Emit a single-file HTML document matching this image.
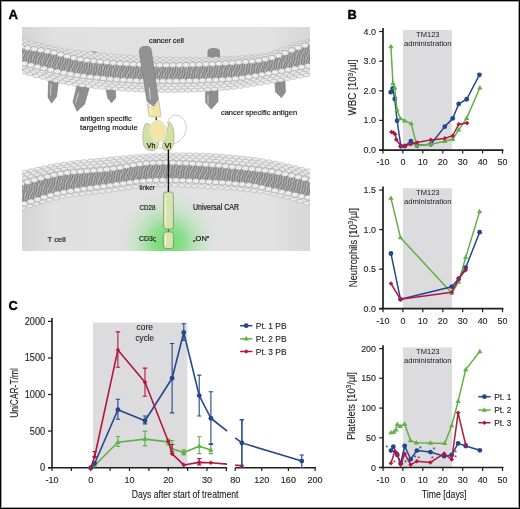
<!DOCTYPE html><html><head><meta charset="utf-8"><style>html,body{margin:0;padding:0;background:#fff;} svg{display:block;font-family:"Liberation Sans", sans-serif;} .w{will-change:transform;width:520px;height:509px;overflow:hidden}</style></head><body>
<div class="w">
<svg width="520" height="509" viewBox="0 0 520 509">
<defs>
<linearGradient id="cellg" x1="0" y1="0" x2="1" y2="0"><stop offset="0" stop-color="#d4d4d4"/><stop offset="0.12" stop-color="#e0e0e0"/><stop offset="0.85" stop-color="#e2e2e2"/><stop offset="1" stop-color="#d6d6d6"/></linearGradient>
<radialGradient id="glow" cx="0.5" cy="0.5" r="0.5"><stop offset="0" stop-color="#66dd66" stop-opacity="1"/><stop offset="0.3" stop-color="#7fdd7f" stop-opacity="0.85"/><stop offset="0.65" stop-color="#b6e4b6" stop-opacity="0.45"/><stop offset="1" stop-color="#e0e0e0" stop-opacity="0"/></radialGradient>
<pattern id="latt" width="7.0" height="4.6" patternUnits="userSpaceOnUse"><rect width="7.0" height="4.6" fill="#d2d2d2"/><ellipse cx="1.75" cy="1.15" rx="3.25" ry="2.15" fill="#eaeaea" stroke="#a0a0a0" stroke-width="0.55"/><ellipse cx="5.25" cy="3.45" rx="3.25" ry="2.15" fill="#eaeaea" stroke="#a0a0a0" stroke-width="0.55"/><ellipse cx="-1.75" cy="3.45" rx="3.25" ry="2.15" fill="#eaeaea" stroke="#a0a0a0" stroke-width="0.55"/><ellipse cx="8.75" cy="1.15" rx="3.25" ry="2.15" fill="#eaeaea" stroke="#a0a0a0" stroke-width="0.55"/><ellipse cx="1.75" cy="5.75" rx="3.25" ry="2.15" fill="#eaeaea" stroke="#a0a0a0" stroke-width="0.55"/><ellipse cx="5.25" cy="-1.15" rx="3.25" ry="2.15" fill="#eaeaea" stroke="#a0a0a0" stroke-width="0.55"/><ellipse cx="8.75" cy="5.75" rx="3.25" ry="2.15" fill="#eaeaea" stroke="#a0a0a0" stroke-width="0.55"/><ellipse cx="-1.75" cy="-1.15" rx="3.25" ry="2.15" fill="#eaeaea" stroke="#a0a0a0" stroke-width="0.55"/></pattern>
<pattern id="tails" width="5" height="12" patternUnits="userSpaceOnUse" patternTransform="rotate(18)"><rect width="5" height="12" fill="#b8b8b8"/><path d="M0.7,0 Q2.2,3 0.9,6 Q-0.4,9 0.7,12 M3.2,0 Q4.5,3 3.1,6 Q1.8,9 3.2,12" stroke="#4e4e4e" stroke-width="0.75" fill="none"/></pattern>
<filter id="soft" x="-5%" y="-5%" width="110%" height="110%"><feGaussianBlur stdDeviation="0.15"/></filter>
<clipPath id="clipA"><rect x="22" y="27" width="288" height="224"/></clipPath>
</defs>
<rect x="0" y="0" width="520" height="509" fill="#fff"/>
<text x="8.5" y="19.2" font-size="13.2" text-anchor="start" fill="#000" font-weight="bold" stroke="#000" stroke-width="0.4" stroke-linejoin="round">A</text>
<g clip-path="url(#clipA)">
<path d="M20.0,20.0 L22.0,20.0 L24.0,20.0 L26.0,20.0 L28.0,20.0 L30.0,20.0 L32.0,20.0 L34.0,20.0 L36.0,20.0 L38.0,20.0 L40.0,20.0 L42.0,20.0 L44.0,20.0 L46.0,20.0 L48.0,20.0 L50.0,20.0 L52.0,20.0 L54.0,20.0 L56.0,20.0 L58.0,20.0 L60.0,20.0 L62.0,20.0 L64.0,20.0 L66.0,20.0 L68.0,20.0 L70.0,20.0 L72.0,20.0 L74.0,20.0 L76.0,20.0 L78.0,20.0 L80.0,20.0 L82.0,20.0 L84.0,20.0 L86.0,20.0 L88.0,20.0 L90.0,20.0 L92.0,20.0 L94.0,20.0 L96.0,20.0 L98.0,20.0 L100.0,20.0 L102.0,20.0 L104.0,20.0 L106.0,20.0 L108.0,20.0 L110.0,20.0 L112.0,20.0 L114.0,20.0 L116.0,20.0 L118.0,20.0 L120.0,20.0 L122.0,20.0 L124.0,20.0 L126.0,20.0 L128.0,20.0 L130.0,20.0 L132.0,20.0 L134.0,20.0 L136.0,20.0 L138.0,20.0 L140.0,20.0 L142.0,20.0 L144.0,20.0 L146.0,20.0 L148.0,20.0 L150.0,20.0 L152.0,20.0 L154.0,20.0 L156.0,20.0 L158.0,20.0 L160.0,20.0 L162.0,20.0 L164.0,20.0 L166.0,20.0 L168.0,20.0 L170.0,20.0 L172.0,20.0 L174.0,20.0 L176.0,20.0 L178.0,20.0 L180.0,20.0 L182.0,20.0 L184.0,20.0 L186.0,20.0 L188.0,20.0 L190.0,20.0 L192.0,20.0 L194.0,20.0 L196.0,20.0 L198.0,20.0 L200.0,20.0 L202.0,20.0 L204.0,20.0 L206.0,20.0 L208.0,20.0 L210.0,20.0 L212.0,20.0 L214.0,20.0 L216.0,20.0 L218.0,20.0 L220.0,20.0 L222.0,20.0 L224.0,20.0 L226.0,20.0 L228.0,20.0 L230.0,20.0 L232.0,20.0 L234.0,20.0 L236.0,20.0 L238.0,20.0 L240.0,20.0 L242.0,20.0 L244.0,20.0 L246.0,20.0 L248.0,20.0 L250.0,20.0 L252.0,20.0 L254.0,20.0 L256.0,20.0 L258.0,20.0 L260.0,20.0 L262.0,20.0 L264.0,20.0 L266.0,20.0 L268.0,20.0 L270.0,20.0 L272.0,20.0 L274.0,20.0 L276.0,20.0 L278.0,20.0 L280.0,20.0 L282.0,20.0 L284.0,20.0 L286.0,20.0 L288.0,20.0 L290.0,20.0 L292.0,20.0 L294.0,20.0 L296.0,20.0 L298.0,20.0 L300.0,20.0 L302.0,20.0 L304.0,20.0 L306.0,20.0 L308.0,20.0 L310.0,20.0 L312.0,20.0 L312.0,42.8 L310.0,43.3 L308.0,43.9 L306.0,44.4 L304.0,44.9 L302.0,45.5 L300.0,46.0 L298.0,46.6 L296.0,47.2 L294.0,47.8 L292.0,48.5 L290.0,49.2 L288.0,49.9 L286.0,50.6 L284.0,51.4 L282.0,52.1 L280.0,52.8 L278.0,53.5 L276.0,54.2 L274.0,54.9 L272.0,55.5 L270.0,56.0 L268.0,56.5 L266.0,56.9 L264.0,57.3 L262.0,57.6 L260.0,57.9 L258.0,58.1 L256.0,58.3 L254.0,58.6 L252.0,58.8 L250.0,59.0 L248.0,59.2 L246.0,59.4 L244.0,59.6 L242.0,59.8 L240.0,59.9 L238.0,60.1 L236.0,60.2 L234.0,60.3 L232.0,60.4 L230.0,60.5 L228.0,60.6 L226.0,60.6 L224.0,60.7 L222.0,60.8 L220.0,60.8 L218.0,60.9 L216.0,60.9 L214.0,61.0 L212.0,61.0 L210.0,61.1 L208.0,61.1 L206.0,61.2 L204.0,61.2 L202.0,61.2 L200.0,61.3 L198.0,61.3 L196.0,61.3 L194.0,61.3 L192.0,61.3 L190.0,61.3 L188.0,61.3 L186.0,61.3 L184.0,61.3 L182.0,61.3 L180.0,61.3 L178.0,61.3 L176.0,61.2 L174.0,61.2 L172.0,61.2 L170.0,61.1 L168.0,61.1 L166.0,61.0 L164.0,61.0 L162.0,60.9 L160.0,60.8 L158.0,60.8 L156.0,60.7 L154.0,60.6 L152.0,60.5 L150.0,60.4 L148.0,60.3 L146.0,60.2 L144.0,60.1 L142.0,60.0 L140.0,59.9 L138.0,59.8 L136.0,59.7 L134.0,59.6 L132.0,59.4 L130.0,59.3 L128.0,59.2 L126.0,59.0 L124.0,58.9 L122.0,58.7 L120.0,58.6 L118.0,58.4 L116.0,58.2 L114.0,58.1 L112.0,57.9 L110.0,57.7 L108.0,57.5 L106.0,57.3 L104.0,57.2 L102.0,57.0 L100.0,56.8 L98.0,56.6 L96.0,56.3 L94.0,56.1 L92.0,55.9 L90.0,55.7 L88.0,55.5 L86.0,55.2 L84.0,55.0 L82.0,54.7 L80.0,54.5 L78.0,54.2 L76.0,54.0 L74.0,53.7 L72.0,53.3 L70.0,53.0 L68.0,52.7 L66.0,52.3 L64.0,51.9 L62.0,51.6 L60.0,51.2 L58.0,50.8 L56.0,50.4 L54.0,50.0 L52.0,49.6 L50.0,49.2 L48.0,48.8 L46.0,48.4 L44.0,47.9 L42.0,47.5 L40.0,47.1 L38.0,46.6 L36.0,46.2 L34.0,45.7 L32.0,45.3 L30.0,44.8 L28.0,44.4 L26.0,43.9 L24.0,43.5 L22.0,43.0 L20.0,42.6Z" fill="url(#cellg)"/>
<path d="M20.0,206.5 L22.0,205.9 L24.0,205.3 L26.0,204.7 L28.0,204.1 L30.0,203.4 L32.0,202.8 L34.0,202.2 L36.0,201.5 L38.0,200.9 L40.0,200.3 L42.0,199.6 L44.0,199.0 L46.0,198.4 L48.0,197.9 L50.0,197.3 L52.0,196.8 L54.0,196.3 L56.0,195.8 L58.0,195.3 L60.0,194.9 L62.0,194.5 L64.0,194.1 L66.0,193.8 L68.0,193.4 L70.0,193.1 L72.0,192.8 L74.0,192.5 L76.0,192.2 L78.0,192.0 L80.0,191.7 L82.0,191.5 L84.0,191.2 L86.0,191.0 L88.0,190.8 L90.0,190.5 L92.0,190.3 L94.0,190.1 L96.0,189.9 L98.0,189.6 L100.0,189.4 L102.0,189.2 L104.0,189.0 L106.0,188.7 L108.0,188.5 L110.0,188.2 L112.0,187.9 L114.0,187.6 L116.0,187.3 L118.0,187.0 L120.0,186.7 L122.0,186.4 L124.0,186.1 L126.0,185.8 L128.0,185.5 L130.0,185.2 L132.0,184.9 L134.0,184.6 L136.0,184.3 L138.0,184.1 L140.0,183.8 L142.0,183.6 L144.0,183.4 L146.0,183.2 L148.0,183.1 L150.0,183.0 L152.0,182.9 L154.0,182.9 L156.0,182.8 L158.0,182.8 L160.0,182.7 L162.0,182.7 L164.0,182.7 L166.0,182.8 L168.0,182.8 L170.0,182.8 L172.0,182.9 L174.0,182.9 L176.0,183.0 L178.0,183.1 L180.0,183.1 L182.0,183.2 L184.0,183.3 L186.0,183.4 L188.0,183.5 L190.0,183.6 L192.0,183.7 L194.0,183.8 L196.0,183.9 L198.0,184.0 L200.0,184.1 L202.0,184.2 L204.0,184.3 L206.0,184.4 L208.0,184.5 L210.0,184.7 L212.0,184.8 L214.0,184.9 L216.0,185.1 L218.0,185.2 L220.0,185.3 L222.0,185.5 L224.0,185.6 L226.0,185.8 L228.0,186.0 L230.0,186.1 L232.0,186.3 L234.0,186.5 L236.0,186.6 L238.0,186.8 L240.0,187.0 L242.0,187.2 L244.0,187.4 L246.0,187.6 L248.0,187.8 L250.0,188.0 L252.0,188.2 L254.0,188.4 L256.0,188.6 L258.0,188.9 L260.0,189.1 L262.0,189.4 L264.0,189.7 L266.0,190.0 L268.0,190.4 L270.0,190.7 L272.0,191.1 L274.0,191.6 L276.0,192.0 L278.0,192.5 L280.0,193.0 L282.0,193.6 L284.0,194.1 L286.0,194.7 L288.0,195.3 L290.0,195.9 L292.0,196.5 L294.0,197.1 L296.0,197.7 L298.0,198.3 L300.0,198.9 L302.0,199.6 L304.0,200.2 L306.0,200.8 L308.0,201.4 L310.0,202.0 L312.0,202.6 L312.0,252.0 L310.0,252.0 L308.0,252.0 L306.0,252.0 L304.0,252.0 L302.0,252.0 L300.0,252.0 L298.0,252.0 L296.0,252.0 L294.0,252.0 L292.0,252.0 L290.0,252.0 L288.0,252.0 L286.0,252.0 L284.0,252.0 L282.0,252.0 L280.0,252.0 L278.0,252.0 L276.0,252.0 L274.0,252.0 L272.0,252.0 L270.0,252.0 L268.0,252.0 L266.0,252.0 L264.0,252.0 L262.0,252.0 L260.0,252.0 L258.0,252.0 L256.0,252.0 L254.0,252.0 L252.0,252.0 L250.0,252.0 L248.0,252.0 L246.0,252.0 L244.0,252.0 L242.0,252.0 L240.0,252.0 L238.0,252.0 L236.0,252.0 L234.0,252.0 L232.0,252.0 L230.0,252.0 L228.0,252.0 L226.0,252.0 L224.0,252.0 L222.0,252.0 L220.0,252.0 L218.0,252.0 L216.0,252.0 L214.0,252.0 L212.0,252.0 L210.0,252.0 L208.0,252.0 L206.0,252.0 L204.0,252.0 L202.0,252.0 L200.0,252.0 L198.0,252.0 L196.0,252.0 L194.0,252.0 L192.0,252.0 L190.0,252.0 L188.0,252.0 L186.0,252.0 L184.0,252.0 L182.0,252.0 L180.0,252.0 L178.0,252.0 L176.0,252.0 L174.0,252.0 L172.0,252.0 L170.0,252.0 L168.0,252.0 L166.0,252.0 L164.0,252.0 L162.0,252.0 L160.0,252.0 L158.0,252.0 L156.0,252.0 L154.0,252.0 L152.0,252.0 L150.0,252.0 L148.0,252.0 L146.0,252.0 L144.0,252.0 L142.0,252.0 L140.0,252.0 L138.0,252.0 L136.0,252.0 L134.0,252.0 L132.0,252.0 L130.0,252.0 L128.0,252.0 L126.0,252.0 L124.0,252.0 L122.0,252.0 L120.0,252.0 L118.0,252.0 L116.0,252.0 L114.0,252.0 L112.0,252.0 L110.0,252.0 L108.0,252.0 L106.0,252.0 L104.0,252.0 L102.0,252.0 L100.0,252.0 L98.0,252.0 L96.0,252.0 L94.0,252.0 L92.0,252.0 L90.0,252.0 L88.0,252.0 L86.0,252.0 L84.0,252.0 L82.0,252.0 L80.0,252.0 L78.0,252.0 L76.0,252.0 L74.0,252.0 L72.0,252.0 L70.0,252.0 L68.0,252.0 L66.0,252.0 L64.0,252.0 L62.0,252.0 L60.0,252.0 L58.0,252.0 L56.0,252.0 L54.0,252.0 L52.0,252.0 L50.0,252.0 L48.0,252.0 L46.0,252.0 L44.0,252.0 L42.0,252.0 L40.0,252.0 L38.0,252.0 L36.0,252.0 L34.0,252.0 L32.0,252.0 L30.0,252.0 L28.0,252.0 L26.0,252.0 L24.0,252.0 L22.0,252.0 L20.0,252.0Z" fill="url(#cellg)"/>
<ellipse cx="168" cy="243" rx="54" ry="56" fill="url(#glow)"/>
<path d="M89,57 L89.5,52.5 Q93,50.5 97.5,52 L97.5,57Z" fill="#9a9a9a"/>
<path d="M207.5,58 L207.5,51 Q208,48 213.5,48 Q219.5,48 220,51 L220,58Z" fill="#8e8e8e"/>
<path d="M48.8,76 L59,76 L56.6,96.5 L51.6,103.2 L48,97.2Z" fill="#8e8e8e" stroke="#6e6e6e" stroke-width="0.5" stroke-linejoin="round"/>
<path d="M51,84 L50.5,95" stroke="#d8d8d8" stroke-width="0.9" stroke-linecap="round"/>
<path d="M77,85 L89.5,87 L84.6,104.2 L77,111.2 L73,102Z" fill="#8e8e8e" stroke="#6e6e6e" stroke-width="0.5" stroke-linejoin="round"/>
<path d="M78.5,93 L75.5,103" stroke="#d8d8d8" stroke-width="0.9" stroke-linecap="round"/>
<path d="M105.4,86 L115.4,87.5 L115.7,98 L111.5,102.7 L107.7,98Z" fill="#8e8e8e" stroke="#6e6e6e" stroke-width="0.5" stroke-linejoin="round"/>
<path d="M205.6,89 L218,89 L218,101.5 L211.3,109.2 L205.6,102.5Z" fill="#8e8e8e" stroke="#6e6e6e" stroke-width="0.5" stroke-linejoin="round"/>
<path d="M208,95 L208,104" stroke="#d8d8d8" stroke-width="0.9" stroke-linecap="round"/>
<path d="M274.8,81 L285,81 L285.5,92 L281.5,97.7 L275.5,92Z" fill="#8e8e8e" stroke="#6e6e6e" stroke-width="0.5" stroke-linejoin="round"/>
<path d="M20.0,39.6 L22.0,40.0 L24.0,40.5 L26.0,40.9 L28.0,41.4 L30.0,41.8 L32.0,42.3 L34.0,42.7 L36.0,43.2 L38.0,43.6 L40.0,44.1 L42.0,44.5 L44.0,44.9 L46.0,45.4 L48.0,45.8 L50.0,46.2 L52.0,46.6 L54.0,47.0 L56.0,47.4 L58.0,47.8 L60.0,48.2 L62.0,48.6 L64.0,48.9 L66.0,49.3 L68.0,49.7 L70.0,50.0 L72.0,50.3 L74.0,50.7 L76.0,51.0 L78.0,51.2 L80.0,51.5 L82.0,51.7 L84.0,52.0 L86.0,52.2 L88.0,52.5 L90.0,52.7 L92.0,52.9 L94.0,53.1 L96.0,53.3 L98.0,53.6 L100.0,53.8 L102.0,54.0 L104.0,54.2 L106.0,54.3 L108.0,54.5 L110.0,54.7 L112.0,54.9 L114.0,55.1 L116.0,55.2 L118.0,55.4 L120.0,55.6 L122.0,55.7 L124.0,55.9 L126.0,56.0 L128.0,56.2 L130.0,56.3 L132.0,56.4 L134.0,56.6 L136.0,56.7 L138.0,56.8 L140.0,56.9 L142.0,57.0 L144.0,57.1 L146.0,57.2 L148.0,57.3 L150.0,57.4 L152.0,57.5 L154.0,57.6 L156.0,57.7 L158.0,57.8 L160.0,57.8 L162.0,57.9 L164.0,58.0 L166.0,58.0 L168.0,58.1 L170.0,58.1 L172.0,58.2 L174.0,58.2 L176.0,58.2 L178.0,58.3 L180.0,58.3 L182.0,58.3 L184.0,58.3 L186.0,58.3 L188.0,58.3 L190.0,58.3 L192.0,58.3 L194.0,58.3 L196.0,58.3 L198.0,58.3 L200.0,58.3 L202.0,58.2 L204.0,58.2 L206.0,58.2 L208.0,58.1 L210.0,58.1 L212.0,58.0 L214.0,58.0 L216.0,57.9 L218.0,57.9 L220.0,57.8 L222.0,57.8 L224.0,57.7 L226.0,57.6 L228.0,57.6 L230.0,57.5 L232.0,57.4 L234.0,57.3 L236.0,57.2 L238.0,57.1 L240.0,56.9 L242.0,56.8 L244.0,56.6 L246.0,56.4 L248.0,56.2 L250.0,56.0 L252.0,55.8 L254.0,55.6 L256.0,55.3 L258.0,55.1 L260.0,54.9 L262.0,54.6 L264.0,54.3 L266.0,53.9 L268.0,53.5 L270.0,53.0 L272.0,52.5 L274.0,51.9 L276.0,51.2 L278.0,50.5 L280.0,49.8 L282.0,49.1 L284.0,48.4 L286.0,47.6 L288.0,46.9 L290.0,46.2 L292.0,45.5 L294.0,44.8 L296.0,44.2 L298.0,43.6 L300.0,43.0 L302.0,42.5 L304.0,41.9 L306.0,41.4 L308.0,40.9 L310.0,40.3 L312.0,39.8 L312.0,75.3 L310.0,75.7 L308.0,76.1 L306.0,76.5 L304.0,76.8 L302.0,77.2 L300.0,77.6 L298.0,78.0 L296.0,78.4 L294.0,78.8 L292.0,79.2 L290.0,79.5 L288.0,79.9 L286.0,80.3 L284.0,80.6 L282.0,81.0 L280.0,81.3 L278.0,81.7 L276.0,82.0 L274.0,82.4 L272.0,82.7 L270.0,83.0 L268.0,83.4 L266.0,83.7 L264.0,84.0 L262.0,84.3 L260.0,84.6 L258.0,84.9 L256.0,85.3 L254.0,85.6 L252.0,85.9 L250.0,86.2 L248.0,86.5 L246.0,86.9 L244.0,87.2 L242.0,87.6 L240.0,87.9 L238.0,88.2 L236.0,88.5 L234.0,88.8 L232.0,89.0 L230.0,89.2 L228.0,89.4 L226.0,89.5 L224.0,89.7 L222.0,89.8 L220.0,90.0 L218.0,90.1 L216.0,90.3 L214.0,90.4 L212.0,90.6 L210.0,90.7 L208.0,90.8 L206.0,90.9 L204.0,91.1 L202.0,91.2 L200.0,91.3 L198.0,91.4 L196.0,91.5 L194.0,91.6 L192.0,91.7 L190.0,91.7 L188.0,91.8 L186.0,91.9 L184.0,91.9 L182.0,92.0 L180.0,92.0 L178.0,92.0 L176.0,92.1 L174.0,92.1 L172.0,92.1 L170.0,92.1 L168.0,92.1 L166.0,92.1 L164.0,92.1 L162.0,92.1 L160.0,92.1 L158.0,92.0 L156.0,92.0 L154.0,92.0 L152.0,91.9 L150.0,91.9 L148.0,91.8 L146.0,91.7 L144.0,91.7 L142.0,91.6 L140.0,91.5 L138.0,91.4 L136.0,91.3 L134.0,91.2 L132.0,91.1 L130.0,91.0 L128.0,90.9 L126.0,90.8 L124.0,90.6 L122.0,90.5 L120.0,90.3 L118.0,90.2 L116.0,90.0 L114.0,89.9 L112.0,89.7 L110.0,89.5 L108.0,89.3 L106.0,89.1 L104.0,88.9 L102.0,88.7 L100.0,88.5 L98.0,88.3 L96.0,88.1 L94.0,87.9 L92.0,87.7 L90.0,87.4 L88.0,87.2 L86.0,86.9 L84.0,86.7 L82.0,86.5 L80.0,86.2 L78.0,85.9 L76.0,85.6 L74.0,85.3 L72.0,85.0 L70.0,84.7 L68.0,84.3 L66.0,83.9 L64.0,83.5 L62.0,83.1 L60.0,82.7 L58.0,82.3 L56.0,81.9 L54.0,81.4 L52.0,81.0 L50.0,80.5 L48.0,80.1 L46.0,79.6 L44.0,79.1 L42.0,78.6 L40.0,78.1 L38.0,77.6 L36.0,77.0 L34.0,76.5 L32.0,76.0 L30.0,75.4 L28.0,74.9 L26.0,74.4 L24.0,73.8 L22.0,73.3 L20.0,72.8Z" fill="#cfcfcf"/>
<g filter="url(#soft)">
<path d="M20.0,46.6 L22.0,47.0 L24.0,47.3 L26.0,47.6 L28.0,48.0 L30.0,48.3 L32.0,48.6 L34.0,49.0 L36.0,49.3 L38.0,49.7 L40.0,50.0 L42.0,50.4 L44.0,50.7 L46.0,51.1 L48.0,51.5 L50.0,51.9 L52.0,52.3 L54.0,52.7 L56.0,53.2 L58.0,53.7 L60.0,54.3 L62.0,54.8 L64.0,55.4 L66.0,56.0 L68.0,56.5 L70.0,57.1 L72.0,57.6 L74.0,58.0 L76.0,58.5 L78.0,58.9 L80.0,59.2 L82.0,59.5 L84.0,59.8 L86.0,60.1 L88.0,60.3 L90.0,60.6 L92.0,60.8 L94.0,61.0 L96.0,61.3 L98.0,61.5 L100.0,61.7 L102.0,61.9 L104.0,62.1 L106.0,62.3 L108.0,62.4 L110.0,62.6 L112.0,62.8 L114.0,62.9 L116.0,63.1 L118.0,63.2 L120.0,63.4 L122.0,63.5 L124.0,63.6 L126.0,63.8 L128.0,63.9 L130.0,64.0 L132.0,64.1 L134.0,64.2 L136.0,64.3 L138.0,64.4 L140.0,64.5 L142.0,64.6 L144.0,64.7 L146.0,64.7 L148.0,64.8 L150.0,64.8 L152.0,64.9 L154.0,64.9 L156.0,65.0 L158.0,65.0 L160.0,65.0 L162.0,65.1 L164.0,65.1 L166.0,65.1 L168.0,65.1 L170.0,65.1 L172.0,65.1 L174.0,65.1 L176.0,65.1 L178.0,65.0 L180.0,65.0 L182.0,65.0 L184.0,64.9 L186.0,64.9 L188.0,64.8 L190.0,64.8 L192.0,64.7 L194.0,64.7 L196.0,64.6 L198.0,64.5 L200.0,64.5 L202.0,64.4 L204.0,64.3 L206.0,64.2 L208.0,64.1 L210.0,64.0 L212.0,63.9 L214.0,63.8 L216.0,63.7 L218.0,63.6 L220.0,63.5 L222.0,63.4 L224.0,63.3 L226.0,63.2 L228.0,63.0 L230.0,62.9 L232.0,62.8 L234.0,62.6 L236.0,62.5 L238.0,62.3 L240.0,62.2 L242.0,62.1 L244.0,61.9 L246.0,61.7 L248.0,61.6 L250.0,61.4 L252.0,61.2 L254.0,61.0 L256.0,60.8 L258.0,60.5 L260.0,60.2 L262.0,59.9 L264.0,59.6 L266.0,59.2 L268.0,58.8 L270.0,58.3 L272.0,57.8 L274.0,57.2 L276.0,56.5 L278.0,55.8 L280.0,55.0 L282.0,54.2 L284.0,53.4 L286.0,52.5 L288.0,51.7 L290.0,50.9 L292.0,50.1 L294.0,49.3 L296.0,48.5 L298.0,47.8 L300.0,47.1 L302.0,46.4 L304.0,45.7 L306.0,44.9 L308.0,44.2 L310.0,43.5 L312.0,42.8 L312.0,65.1 L310.0,65.5 L308.0,65.9 L306.0,66.3 L304.0,66.7 L302.0,67.1 L300.0,67.4 L298.0,67.8 L296.0,68.2 L294.0,68.6 L292.0,69.0 L290.0,69.4 L288.0,69.8 L286.0,70.2 L284.0,70.5 L282.0,70.9 L280.0,71.3 L278.0,71.6 L276.0,72.0 L274.0,72.4 L272.0,72.8 L270.0,73.1 L268.0,73.5 L266.0,73.9 L264.0,74.2 L262.0,74.6 L260.0,74.9 L258.0,75.3 L256.0,75.6 L254.0,76.0 L252.0,76.3 L250.0,76.6 L248.0,76.9 L246.0,77.2 L244.0,77.5 L242.0,77.8 L240.0,78.1 L238.0,78.3 L236.0,78.6 L234.0,78.8 L232.0,79.0 L230.0,79.1 L228.0,79.2 L226.0,79.3 L224.0,79.5 L222.0,79.6 L220.0,79.7 L218.0,79.8 L216.0,79.9 L214.0,80.0 L212.0,80.1 L210.0,80.2 L208.0,80.2 L206.0,80.3 L204.0,80.4 L202.0,80.5 L200.0,80.5 L198.0,80.6 L196.0,80.7 L194.0,80.7 L192.0,80.8 L190.0,80.8 L188.0,80.9 L186.0,80.9 L184.0,80.9 L182.0,81.0 L180.0,81.0 L178.0,81.0 L176.0,81.0 L174.0,81.1 L172.0,81.1 L170.0,81.1 L168.0,81.1 L166.0,81.1 L164.0,81.1 L162.0,81.1 L160.0,81.1 L158.0,81.1 L156.0,81.1 L154.0,81.1 L152.0,81.1 L150.0,81.1 L148.0,81.0 L146.0,81.0 L144.0,80.9 L142.0,80.9 L140.0,80.8 L138.0,80.8 L136.0,80.7 L134.0,80.6 L132.0,80.5 L130.0,80.4 L128.0,80.3 L126.0,80.2 L124.0,80.0 L122.0,79.9 L120.0,79.8 L118.0,79.6 L116.0,79.5 L114.0,79.3 L112.0,79.1 L110.0,78.9 L108.0,78.8 L106.0,78.6 L104.0,78.4 L102.0,78.2 L100.0,78.0 L98.0,77.8 L96.0,77.5 L94.0,77.3 L92.0,77.1 L90.0,76.8 L88.0,76.6 L86.0,76.4 L84.0,76.1 L82.0,75.9 L80.0,75.6 L78.0,75.3 L76.0,75.0 L74.0,74.7 L72.0,74.3 L70.0,74.0 L68.0,73.6 L66.0,73.2 L64.0,72.8 L62.0,72.4 L60.0,71.9 L58.0,71.5 L56.0,71.1 L54.0,70.6 L52.0,70.2 L50.0,69.8 L48.0,69.3 L46.0,68.9 L44.0,68.4 L42.0,67.9 L40.0,67.4 L38.0,67.0 L36.0,66.5 L34.0,66.0 L32.0,65.5 L30.0,65.0 L28.0,64.5 L26.0,64.0 L24.0,63.6 L22.0,63.1 L20.0,62.6Z" fill="url(#tails)"/>
</g>
<ellipse cx="18.0" cy="40.5" rx="3.3" ry="1.9" fill="#e9e9e9" stroke="#a6a6a6" stroke-width="0.45"/>
<ellipse cx="24.6" cy="41.5" rx="3.3" ry="1.9" fill="#e9e9e9" stroke="#a6a6a6" stroke-width="0.45"/>
<ellipse cx="31.2" cy="42.9" rx="3.3" ry="1.9" fill="#e9e9e9" stroke="#a6a6a6" stroke-width="0.45"/>
<ellipse cx="37.8" cy="44.3" rx="3.3" ry="1.9" fill="#e9e9e9" stroke="#a6a6a6" stroke-width="0.45"/>
<ellipse cx="44.4" cy="45.7" rx="3.3" ry="1.9" fill="#e9e9e9" stroke="#a6a6a6" stroke-width="0.45"/>
<ellipse cx="51.0" cy="47.1" rx="3.3" ry="1.9" fill="#e9e9e9" stroke="#a6a6a6" stroke-width="0.45"/>
<ellipse cx="57.6" cy="48.4" rx="3.3" ry="1.9" fill="#e9e9e9" stroke="#a6a6a6" stroke-width="0.45"/>
<ellipse cx="64.2" cy="49.8" rx="3.3" ry="1.9" fill="#e9e9e9" stroke="#a6a6a6" stroke-width="0.45"/>
<ellipse cx="70.8" cy="51.0" rx="3.3" ry="1.9" fill="#e9e9e9" stroke="#a6a6a6" stroke-width="0.45"/>
<ellipse cx="77.4" cy="52.1" rx="3.3" ry="1.9" fill="#e9e9e9" stroke="#a6a6a6" stroke-width="0.45"/>
<ellipse cx="84.0" cy="53.0" rx="3.3" ry="1.9" fill="#e9e9e9" stroke="#a6a6a6" stroke-width="0.45"/>
<ellipse cx="90.6" cy="53.7" rx="3.3" ry="1.9" fill="#e9e9e9" stroke="#a6a6a6" stroke-width="0.45"/>
<ellipse cx="97.2" cy="54.5" rx="3.3" ry="1.9" fill="#e9e9e9" stroke="#a6a6a6" stroke-width="0.45"/>
<ellipse cx="103.8" cy="55.1" rx="3.3" ry="1.9" fill="#e9e9e9" stroke="#a6a6a6" stroke-width="0.45"/>
<ellipse cx="110.4" cy="55.7" rx="3.3" ry="1.9" fill="#e9e9e9" stroke="#a6a6a6" stroke-width="0.45"/>
<ellipse cx="117.0" cy="56.3" rx="3.3" ry="1.9" fill="#e9e9e9" stroke="#a6a6a6" stroke-width="0.45"/>
<ellipse cx="123.6" cy="56.8" rx="3.3" ry="1.9" fill="#e9e9e9" stroke="#a6a6a6" stroke-width="0.45"/>
<ellipse cx="130.2" cy="57.3" rx="3.3" ry="1.9" fill="#e9e9e9" stroke="#a6a6a6" stroke-width="0.45"/>
<ellipse cx="136.8" cy="57.7" rx="3.3" ry="1.9" fill="#e9e9e9" stroke="#a6a6a6" stroke-width="0.45"/>
<ellipse cx="143.4" cy="58.1" rx="3.3" ry="1.9" fill="#e9e9e9" stroke="#a6a6a6" stroke-width="0.45"/>
<ellipse cx="150.0" cy="58.4" rx="3.3" ry="1.9" fill="#e9e9e9" stroke="#a6a6a6" stroke-width="0.45"/>
<ellipse cx="156.6" cy="58.6" rx="3.3" ry="1.9" fill="#e9e9e9" stroke="#a6a6a6" stroke-width="0.45"/>
<ellipse cx="163.2" cy="58.8" rx="3.3" ry="1.9" fill="#e9e9e9" stroke="#a6a6a6" stroke-width="0.45"/>
<ellipse cx="169.8" cy="59.0" rx="3.3" ry="1.9" fill="#e9e9e9" stroke="#a6a6a6" stroke-width="0.45"/>
<ellipse cx="176.4" cy="59.1" rx="3.3" ry="1.9" fill="#e9e9e9" stroke="#a6a6a6" stroke-width="0.45"/>
<ellipse cx="183.0" cy="59.2" rx="3.3" ry="1.9" fill="#e9e9e9" stroke="#a6a6a6" stroke-width="0.45"/>
<ellipse cx="189.6" cy="59.2" rx="3.3" ry="1.9" fill="#e9e9e9" stroke="#a6a6a6" stroke-width="0.45"/>
<ellipse cx="196.2" cy="59.1" rx="3.3" ry="1.9" fill="#e9e9e9" stroke="#a6a6a6" stroke-width="0.45"/>
<ellipse cx="202.8" cy="59.0" rx="3.3" ry="1.9" fill="#e9e9e9" stroke="#a6a6a6" stroke-width="0.45"/>
<ellipse cx="209.4" cy="58.8" rx="3.3" ry="1.9" fill="#e9e9e9" stroke="#a6a6a6" stroke-width="0.45"/>
<ellipse cx="216.0" cy="58.7" rx="3.3" ry="1.9" fill="#e9e9e9" stroke="#a6a6a6" stroke-width="0.45"/>
<ellipse cx="222.6" cy="58.4" rx="3.3" ry="1.9" fill="#e9e9e9" stroke="#a6a6a6" stroke-width="0.45"/>
<ellipse cx="229.2" cy="58.2" rx="3.3" ry="1.9" fill="#e9e9e9" stroke="#a6a6a6" stroke-width="0.45"/>
<ellipse cx="235.8" cy="57.9" rx="3.3" ry="1.9" fill="#e9e9e9" stroke="#a6a6a6" stroke-width="0.45"/>
<ellipse cx="242.4" cy="57.4" rx="3.3" ry="1.9" fill="#e9e9e9" stroke="#a6a6a6" stroke-width="0.45"/>
<ellipse cx="249.0" cy="56.8" rx="3.3" ry="1.9" fill="#e9e9e9" stroke="#a6a6a6" stroke-width="0.45"/>
<ellipse cx="255.6" cy="56.1" rx="3.3" ry="1.9" fill="#e9e9e9" stroke="#a6a6a6" stroke-width="0.45"/>
<ellipse cx="262.2" cy="55.2" rx="3.3" ry="1.9" fill="#e9e9e9" stroke="#a6a6a6" stroke-width="0.45"/>
<ellipse cx="268.8" cy="54.0" rx="3.3" ry="1.9" fill="#e9e9e9" stroke="#a6a6a6" stroke-width="0.45"/>
<ellipse cx="275.4" cy="52.1" rx="3.3" ry="1.9" fill="#e9e9e9" stroke="#a6a6a6" stroke-width="0.45"/>
<ellipse cx="282.0" cy="49.8" rx="3.3" ry="1.9" fill="#e9e9e9" stroke="#a6a6a6" stroke-width="0.45"/>
<ellipse cx="288.6" cy="47.3" rx="3.3" ry="1.9" fill="#e9e9e9" stroke="#a6a6a6" stroke-width="0.45"/>
<ellipse cx="295.2" cy="45.0" rx="3.3" ry="1.9" fill="#e9e9e9" stroke="#a6a6a6" stroke-width="0.45"/>
<ellipse cx="301.8" cy="43.0" rx="3.3" ry="1.9" fill="#e9e9e9" stroke="#a6a6a6" stroke-width="0.45"/>
<ellipse cx="308.4" cy="41.2" rx="3.3" ry="1.9" fill="#e9e9e9" stroke="#a6a6a6" stroke-width="0.45"/>
<ellipse cx="315.0" cy="40.2" rx="3.3" ry="1.9" fill="#e9e9e9" stroke="#a6a6a6" stroke-width="0.45"/>
<ellipse cx="21.3" cy="42.5" rx="3.3" ry="1.9" fill="#e9e9e9" stroke="#a6a6a6" stroke-width="0.45"/>
<ellipse cx="27.9" cy="43.8" rx="3.3" ry="1.9" fill="#e9e9e9" stroke="#a6a6a6" stroke-width="0.45"/>
<ellipse cx="34.5" cy="45.2" rx="3.3" ry="1.9" fill="#e9e9e9" stroke="#a6a6a6" stroke-width="0.45"/>
<ellipse cx="41.1" cy="46.5" rx="3.3" ry="1.9" fill="#e9e9e9" stroke="#a6a6a6" stroke-width="0.45"/>
<ellipse cx="47.7" cy="47.9" rx="3.3" ry="1.9" fill="#e9e9e9" stroke="#a6a6a6" stroke-width="0.45"/>
<ellipse cx="54.3" cy="49.2" rx="3.3" ry="1.9" fill="#e9e9e9" stroke="#a6a6a6" stroke-width="0.45"/>
<ellipse cx="60.9" cy="50.7" rx="3.3" ry="1.9" fill="#e9e9e9" stroke="#a6a6a6" stroke-width="0.45"/>
<ellipse cx="67.5" cy="52.1" rx="3.3" ry="1.9" fill="#e9e9e9" stroke="#a6a6a6" stroke-width="0.45"/>
<ellipse cx="74.1" cy="53.4" rx="3.3" ry="1.9" fill="#e9e9e9" stroke="#a6a6a6" stroke-width="0.45"/>
<ellipse cx="80.7" cy="54.5" rx="3.3" ry="1.9" fill="#e9e9e9" stroke="#a6a6a6" stroke-width="0.45"/>
<ellipse cx="87.3" cy="55.3" rx="3.3" ry="1.9" fill="#e9e9e9" stroke="#a6a6a6" stroke-width="0.45"/>
<ellipse cx="93.9" cy="56.1" rx="3.3" ry="1.9" fill="#e9e9e9" stroke="#a6a6a6" stroke-width="0.45"/>
<ellipse cx="100.5" cy="56.8" rx="3.3" ry="1.9" fill="#e9e9e9" stroke="#a6a6a6" stroke-width="0.45"/>
<ellipse cx="107.1" cy="57.4" rx="3.3" ry="1.9" fill="#e9e9e9" stroke="#a6a6a6" stroke-width="0.45"/>
<ellipse cx="113.7" cy="58.0" rx="3.3" ry="1.9" fill="#e9e9e9" stroke="#a6a6a6" stroke-width="0.45"/>
<ellipse cx="120.3" cy="58.5" rx="3.3" ry="1.9" fill="#e9e9e9" stroke="#a6a6a6" stroke-width="0.45"/>
<ellipse cx="126.9" cy="59.0" rx="3.3" ry="1.9" fill="#e9e9e9" stroke="#a6a6a6" stroke-width="0.45"/>
<ellipse cx="133.5" cy="59.4" rx="3.3" ry="1.9" fill="#e9e9e9" stroke="#a6a6a6" stroke-width="0.45"/>
<ellipse cx="140.1" cy="59.8" rx="3.3" ry="1.9" fill="#e9e9e9" stroke="#a6a6a6" stroke-width="0.45"/>
<ellipse cx="146.7" cy="60.1" rx="3.3" ry="1.9" fill="#e9e9e9" stroke="#a6a6a6" stroke-width="0.45"/>
<ellipse cx="153.3" cy="60.3" rx="3.3" ry="1.9" fill="#e9e9e9" stroke="#a6a6a6" stroke-width="0.45"/>
<ellipse cx="159.9" cy="60.5" rx="3.3" ry="1.9" fill="#e9e9e9" stroke="#a6a6a6" stroke-width="0.45"/>
<ellipse cx="166.5" cy="60.7" rx="3.3" ry="1.9" fill="#e9e9e9" stroke="#a6a6a6" stroke-width="0.45"/>
<ellipse cx="173.1" cy="60.8" rx="3.3" ry="1.9" fill="#e9e9e9" stroke="#a6a6a6" stroke-width="0.45"/>
<ellipse cx="179.7" cy="60.8" rx="3.3" ry="1.9" fill="#e9e9e9" stroke="#a6a6a6" stroke-width="0.45"/>
<ellipse cx="186.3" cy="60.8" rx="3.3" ry="1.9" fill="#e9e9e9" stroke="#a6a6a6" stroke-width="0.45"/>
<ellipse cx="192.9" cy="60.7" rx="3.3" ry="1.9" fill="#e9e9e9" stroke="#a6a6a6" stroke-width="0.45"/>
<ellipse cx="199.5" cy="60.6" rx="3.3" ry="1.9" fill="#e9e9e9" stroke="#a6a6a6" stroke-width="0.45"/>
<ellipse cx="206.1" cy="60.4" rx="3.3" ry="1.9" fill="#e9e9e9" stroke="#a6a6a6" stroke-width="0.45"/>
<ellipse cx="212.7" cy="60.2" rx="3.3" ry="1.9" fill="#e9e9e9" stroke="#a6a6a6" stroke-width="0.45"/>
<ellipse cx="219.3" cy="60.0" rx="3.3" ry="1.9" fill="#e9e9e9" stroke="#a6a6a6" stroke-width="0.45"/>
<ellipse cx="225.9" cy="59.7" rx="3.3" ry="1.9" fill="#e9e9e9" stroke="#a6a6a6" stroke-width="0.45"/>
<ellipse cx="232.5" cy="59.4" rx="3.3" ry="1.9" fill="#e9e9e9" stroke="#a6a6a6" stroke-width="0.45"/>
<ellipse cx="239.1" cy="59.0" rx="3.3" ry="1.9" fill="#e9e9e9" stroke="#a6a6a6" stroke-width="0.45"/>
<ellipse cx="245.7" cy="58.4" rx="3.3" ry="1.9" fill="#e9e9e9" stroke="#a6a6a6" stroke-width="0.45"/>
<ellipse cx="252.3" cy="57.8" rx="3.3" ry="1.9" fill="#e9e9e9" stroke="#a6a6a6" stroke-width="0.45"/>
<ellipse cx="258.9" cy="57.0" rx="3.3" ry="1.9" fill="#e9e9e9" stroke="#a6a6a6" stroke-width="0.45"/>
<ellipse cx="265.5" cy="56.0" rx="3.3" ry="1.9" fill="#e9e9e9" stroke="#a6a6a6" stroke-width="0.45"/>
<ellipse cx="272.1" cy="54.4" rx="3.3" ry="1.9" fill="#e9e9e9" stroke="#a6a6a6" stroke-width="0.45"/>
<ellipse cx="278.7" cy="52.3" rx="3.3" ry="1.9" fill="#e9e9e9" stroke="#a6a6a6" stroke-width="0.45"/>
<ellipse cx="285.3" cy="49.7" rx="3.3" ry="1.9" fill="#e9e9e9" stroke="#a6a6a6" stroke-width="0.45"/>
<ellipse cx="291.9" cy="47.2" rx="3.3" ry="1.9" fill="#e9e9e9" stroke="#a6a6a6" stroke-width="0.45"/>
<ellipse cx="298.5" cy="45.0" rx="3.3" ry="1.9" fill="#e9e9e9" stroke="#a6a6a6" stroke-width="0.45"/>
<ellipse cx="305.1" cy="43.0" rx="3.3" ry="1.9" fill="#e9e9e9" stroke="#a6a6a6" stroke-width="0.45"/>
<ellipse cx="311.7" cy="41.0" rx="3.3" ry="1.9" fill="#e9e9e9" stroke="#a6a6a6" stroke-width="0.45"/>
<ellipse cx="18.0" cy="44.0" rx="3.3" ry="1.9" fill="#e9e9e9" stroke="#a6a6a6" stroke-width="0.45"/>
<ellipse cx="24.6" cy="44.9" rx="3.3" ry="1.9" fill="#e9e9e9" stroke="#a6a6a6" stroke-width="0.45"/>
<ellipse cx="31.2" cy="46.1" rx="3.3" ry="1.9" fill="#e9e9e9" stroke="#a6a6a6" stroke-width="0.45"/>
<ellipse cx="37.8" cy="47.4" rx="3.3" ry="1.9" fill="#e9e9e9" stroke="#a6a6a6" stroke-width="0.45"/>
<ellipse cx="44.4" cy="48.6" rx="3.3" ry="1.9" fill="#e9e9e9" stroke="#a6a6a6" stroke-width="0.45"/>
<ellipse cx="51.0" cy="50.0" rx="3.3" ry="1.9" fill="#e9e9e9" stroke="#a6a6a6" stroke-width="0.45"/>
<ellipse cx="57.6" cy="51.4" rx="3.3" ry="1.9" fill="#e9e9e9" stroke="#a6a6a6" stroke-width="0.45"/>
<ellipse cx="64.2" cy="53.0" rx="3.3" ry="1.9" fill="#e9e9e9" stroke="#a6a6a6" stroke-width="0.45"/>
<ellipse cx="70.8" cy="54.6" rx="3.3" ry="1.9" fill="#e9e9e9" stroke="#a6a6a6" stroke-width="0.45"/>
<ellipse cx="77.4" cy="55.9" rx="3.3" ry="1.9" fill="#e9e9e9" stroke="#a6a6a6" stroke-width="0.45"/>
<ellipse cx="84.0" cy="56.9" rx="3.3" ry="1.9" fill="#e9e9e9" stroke="#a6a6a6" stroke-width="0.45"/>
<ellipse cx="90.6" cy="57.7" rx="3.3" ry="1.9" fill="#e9e9e9" stroke="#a6a6a6" stroke-width="0.45"/>
<ellipse cx="97.2" cy="58.4" rx="3.3" ry="1.9" fill="#e9e9e9" stroke="#a6a6a6" stroke-width="0.45"/>
<ellipse cx="103.8" cy="59.1" rx="3.3" ry="1.9" fill="#e9e9e9" stroke="#a6a6a6" stroke-width="0.45"/>
<ellipse cx="110.4" cy="59.7" rx="3.3" ry="1.9" fill="#e9e9e9" stroke="#a6a6a6" stroke-width="0.45"/>
<ellipse cx="117.0" cy="60.2" rx="3.3" ry="1.9" fill="#e9e9e9" stroke="#a6a6a6" stroke-width="0.45"/>
<ellipse cx="123.6" cy="60.7" rx="3.3" ry="1.9" fill="#e9e9e9" stroke="#a6a6a6" stroke-width="0.45"/>
<ellipse cx="130.2" cy="61.1" rx="3.3" ry="1.9" fill="#e9e9e9" stroke="#a6a6a6" stroke-width="0.45"/>
<ellipse cx="136.8" cy="61.5" rx="3.3" ry="1.9" fill="#e9e9e9" stroke="#a6a6a6" stroke-width="0.45"/>
<ellipse cx="143.4" cy="61.8" rx="3.3" ry="1.9" fill="#e9e9e9" stroke="#a6a6a6" stroke-width="0.45"/>
<ellipse cx="150.0" cy="62.1" rx="3.3" ry="1.9" fill="#e9e9e9" stroke="#a6a6a6" stroke-width="0.45"/>
<ellipse cx="156.6" cy="62.3" rx="3.3" ry="1.9" fill="#e9e9e9" stroke="#a6a6a6" stroke-width="0.45"/>
<ellipse cx="163.2" cy="62.4" rx="3.3" ry="1.9" fill="#e9e9e9" stroke="#a6a6a6" stroke-width="0.45"/>
<ellipse cx="169.8" cy="62.5" rx="3.3" ry="1.9" fill="#e9e9e9" stroke="#a6a6a6" stroke-width="0.45"/>
<ellipse cx="176.4" cy="62.5" rx="3.3" ry="1.9" fill="#e9e9e9" stroke="#a6a6a6" stroke-width="0.45"/>
<ellipse cx="183.0" cy="62.5" rx="3.3" ry="1.9" fill="#e9e9e9" stroke="#a6a6a6" stroke-width="0.45"/>
<ellipse cx="189.6" cy="62.4" rx="3.3" ry="1.9" fill="#e9e9e9" stroke="#a6a6a6" stroke-width="0.45"/>
<ellipse cx="196.2" cy="62.2" rx="3.3" ry="1.9" fill="#e9e9e9" stroke="#a6a6a6" stroke-width="0.45"/>
<ellipse cx="202.8" cy="62.1" rx="3.3" ry="1.9" fill="#e9e9e9" stroke="#a6a6a6" stroke-width="0.45"/>
<ellipse cx="209.4" cy="61.8" rx="3.3" ry="1.9" fill="#e9e9e9" stroke="#a6a6a6" stroke-width="0.45"/>
<ellipse cx="216.0" cy="61.6" rx="3.3" ry="1.9" fill="#e9e9e9" stroke="#a6a6a6" stroke-width="0.45"/>
<ellipse cx="222.6" cy="61.3" rx="3.3" ry="1.9" fill="#e9e9e9" stroke="#a6a6a6" stroke-width="0.45"/>
<ellipse cx="229.2" cy="60.9" rx="3.3" ry="1.9" fill="#e9e9e9" stroke="#a6a6a6" stroke-width="0.45"/>
<ellipse cx="235.8" cy="60.5" rx="3.3" ry="1.9" fill="#e9e9e9" stroke="#a6a6a6" stroke-width="0.45"/>
<ellipse cx="242.4" cy="60.0" rx="3.3" ry="1.9" fill="#e9e9e9" stroke="#a6a6a6" stroke-width="0.45"/>
<ellipse cx="249.0" cy="59.5" rx="3.3" ry="1.9" fill="#e9e9e9" stroke="#a6a6a6" stroke-width="0.45"/>
<ellipse cx="255.6" cy="58.8" rx="3.3" ry="1.9" fill="#e9e9e9" stroke="#a6a6a6" stroke-width="0.45"/>
<ellipse cx="262.2" cy="57.9" rx="3.3" ry="1.9" fill="#e9e9e9" stroke="#a6a6a6" stroke-width="0.45"/>
<ellipse cx="268.8" cy="56.6" rx="3.3" ry="1.9" fill="#e9e9e9" stroke="#a6a6a6" stroke-width="0.45"/>
<ellipse cx="275.4" cy="54.7" rx="3.3" ry="1.9" fill="#e9e9e9" stroke="#a6a6a6" stroke-width="0.45"/>
<ellipse cx="282.0" cy="52.3" rx="3.3" ry="1.9" fill="#e9e9e9" stroke="#a6a6a6" stroke-width="0.45"/>
<ellipse cx="288.6" cy="49.7" rx="3.3" ry="1.9" fill="#e9e9e9" stroke="#a6a6a6" stroke-width="0.45"/>
<ellipse cx="295.2" cy="47.2" rx="3.3" ry="1.9" fill="#e9e9e9" stroke="#a6a6a6" stroke-width="0.45"/>
<ellipse cx="301.8" cy="45.0" rx="3.3" ry="1.9" fill="#e9e9e9" stroke="#a6a6a6" stroke-width="0.45"/>
<ellipse cx="308.4" cy="42.8" rx="3.3" ry="1.9" fill="#e9e9e9" stroke="#a6a6a6" stroke-width="0.45"/>
<ellipse cx="315.0" cy="41.7" rx="3.3" ry="1.9" fill="#e9e9e9" stroke="#a6a6a6" stroke-width="0.45"/>
<ellipse cx="21.3" cy="46.0" rx="3.3" ry="1.9" fill="#e9e9e9" stroke="#a6a6a6" stroke-width="0.45"/>
<ellipse cx="27.9" cy="47.1" rx="3.3" ry="1.9" fill="#e9e9e9" stroke="#a6a6a6" stroke-width="0.45"/>
<ellipse cx="34.5" cy="48.3" rx="3.3" ry="1.9" fill="#e9e9e9" stroke="#a6a6a6" stroke-width="0.45"/>
<ellipse cx="41.1" cy="49.5" rx="3.3" ry="1.9" fill="#e9e9e9" stroke="#a6a6a6" stroke-width="0.45"/>
<ellipse cx="47.7" cy="50.7" rx="3.3" ry="1.9" fill="#e9e9e9" stroke="#a6a6a6" stroke-width="0.45"/>
<ellipse cx="54.3" cy="52.1" rx="3.3" ry="1.9" fill="#e9e9e9" stroke="#a6a6a6" stroke-width="0.45"/>
<ellipse cx="60.9" cy="53.8" rx="3.3" ry="1.9" fill="#e9e9e9" stroke="#a6a6a6" stroke-width="0.45"/>
<ellipse cx="67.5" cy="55.5" rx="3.3" ry="1.9" fill="#e9e9e9" stroke="#a6a6a6" stroke-width="0.45"/>
<ellipse cx="74.1" cy="57.1" rx="3.3" ry="1.9" fill="#e9e9e9" stroke="#a6a6a6" stroke-width="0.45"/>
<ellipse cx="80.7" cy="58.3" rx="3.3" ry="1.9" fill="#e9e9e9" stroke="#a6a6a6" stroke-width="0.45"/>
<ellipse cx="87.3" cy="59.2" rx="3.3" ry="1.9" fill="#e9e9e9" stroke="#a6a6a6" stroke-width="0.45"/>
<ellipse cx="93.9" cy="60.0" rx="3.3" ry="1.9" fill="#e9e9e9" stroke="#a6a6a6" stroke-width="0.45"/>
<ellipse cx="100.5" cy="60.8" rx="3.3" ry="1.9" fill="#e9e9e9" stroke="#a6a6a6" stroke-width="0.45"/>
<ellipse cx="107.1" cy="61.4" rx="3.3" ry="1.9" fill="#e9e9e9" stroke="#a6a6a6" stroke-width="0.45"/>
<ellipse cx="113.7" cy="61.9" rx="3.3" ry="1.9" fill="#e9e9e9" stroke="#a6a6a6" stroke-width="0.45"/>
<ellipse cx="120.3" cy="62.4" rx="3.3" ry="1.9" fill="#e9e9e9" stroke="#a6a6a6" stroke-width="0.45"/>
<ellipse cx="126.9" cy="62.8" rx="3.3" ry="1.9" fill="#e9e9e9" stroke="#a6a6a6" stroke-width="0.45"/>
<ellipse cx="133.5" cy="63.2" rx="3.3" ry="1.9" fill="#e9e9e9" stroke="#a6a6a6" stroke-width="0.45"/>
<ellipse cx="140.1" cy="63.6" rx="3.3" ry="1.9" fill="#e9e9e9" stroke="#a6a6a6" stroke-width="0.45"/>
<ellipse cx="146.7" cy="63.8" rx="3.3" ry="1.9" fill="#e9e9e9" stroke="#a6a6a6" stroke-width="0.45"/>
<ellipse cx="153.3" cy="64.0" rx="3.3" ry="1.9" fill="#e9e9e9" stroke="#a6a6a6" stroke-width="0.45"/>
<ellipse cx="159.9" cy="64.1" rx="3.3" ry="1.9" fill="#e9e9e9" stroke="#a6a6a6" stroke-width="0.45"/>
<ellipse cx="166.5" cy="64.2" rx="3.3" ry="1.9" fill="#e9e9e9" stroke="#a6a6a6" stroke-width="0.45"/>
<ellipse cx="173.1" cy="64.2" rx="3.3" ry="1.9" fill="#e9e9e9" stroke="#a6a6a6" stroke-width="0.45"/>
<ellipse cx="179.7" cy="64.2" rx="3.3" ry="1.9" fill="#e9e9e9" stroke="#a6a6a6" stroke-width="0.45"/>
<ellipse cx="186.3" cy="64.1" rx="3.3" ry="1.9" fill="#e9e9e9" stroke="#a6a6a6" stroke-width="0.45"/>
<ellipse cx="192.9" cy="63.9" rx="3.3" ry="1.9" fill="#e9e9e9" stroke="#a6a6a6" stroke-width="0.45"/>
<ellipse cx="199.5" cy="63.7" rx="3.3" ry="1.9" fill="#e9e9e9" stroke="#a6a6a6" stroke-width="0.45"/>
<ellipse cx="206.1" cy="63.5" rx="3.3" ry="1.9" fill="#e9e9e9" stroke="#a6a6a6" stroke-width="0.45"/>
<ellipse cx="212.7" cy="63.2" rx="3.3" ry="1.9" fill="#e9e9e9" stroke="#a6a6a6" stroke-width="0.45"/>
<ellipse cx="219.3" cy="62.8" rx="3.3" ry="1.9" fill="#e9e9e9" stroke="#a6a6a6" stroke-width="0.45"/>
<ellipse cx="225.9" cy="62.5" rx="3.3" ry="1.9" fill="#e9e9e9" stroke="#a6a6a6" stroke-width="0.45"/>
<ellipse cx="232.5" cy="62.1" rx="3.3" ry="1.9" fill="#e9e9e9" stroke="#a6a6a6" stroke-width="0.45"/>
<ellipse cx="239.1" cy="61.6" rx="3.3" ry="1.9" fill="#e9e9e9" stroke="#a6a6a6" stroke-width="0.45"/>
<ellipse cx="245.7" cy="61.1" rx="3.3" ry="1.9" fill="#e9e9e9" stroke="#a6a6a6" stroke-width="0.45"/>
<ellipse cx="252.3" cy="60.5" rx="3.3" ry="1.9" fill="#e9e9e9" stroke="#a6a6a6" stroke-width="0.45"/>
<ellipse cx="258.9" cy="59.7" rx="3.3" ry="1.9" fill="#e9e9e9" stroke="#a6a6a6" stroke-width="0.45"/>
<ellipse cx="265.5" cy="58.6" rx="3.3" ry="1.9" fill="#e9e9e9" stroke="#a6a6a6" stroke-width="0.45"/>
<ellipse cx="272.1" cy="57.1" rx="3.3" ry="1.9" fill="#e9e9e9" stroke="#a6a6a6" stroke-width="0.45"/>
<ellipse cx="278.7" cy="54.9" rx="3.3" ry="1.9" fill="#e9e9e9" stroke="#a6a6a6" stroke-width="0.45"/>
<ellipse cx="285.3" cy="52.2" rx="3.3" ry="1.9" fill="#e9e9e9" stroke="#a6a6a6" stroke-width="0.45"/>
<ellipse cx="291.9" cy="49.5" rx="3.3" ry="1.9" fill="#e9e9e9" stroke="#a6a6a6" stroke-width="0.45"/>
<ellipse cx="298.5" cy="47.1" rx="3.3" ry="1.9" fill="#e9e9e9" stroke="#a6a6a6" stroke-width="0.45"/>
<ellipse cx="305.1" cy="44.8" rx="3.3" ry="1.9" fill="#e9e9e9" stroke="#a6a6a6" stroke-width="0.45"/>
<ellipse cx="311.7" cy="42.5" rx="3.3" ry="1.9" fill="#e9e9e9" stroke="#a6a6a6" stroke-width="0.45"/>
<ellipse cx="19.6" cy="63.9" rx="3.3" ry="1.9" fill="#e9e9e9" stroke="#a6a6a6" stroke-width="0.45"/>
<ellipse cx="26.2" cy="65.4" rx="3.3" ry="1.9" fill="#e9e9e9" stroke="#a6a6a6" stroke-width="0.45"/>
<ellipse cx="32.9" cy="67.0" rx="3.3" ry="1.9" fill="#e9e9e9" stroke="#a6a6a6" stroke-width="0.45"/>
<ellipse cx="39.5" cy="68.6" rx="3.3" ry="1.9" fill="#e9e9e9" stroke="#a6a6a6" stroke-width="0.45"/>
<ellipse cx="46.1" cy="70.2" rx="3.3" ry="1.9" fill="#e9e9e9" stroke="#a6a6a6" stroke-width="0.45"/>
<ellipse cx="52.7" cy="71.7" rx="3.3" ry="1.9" fill="#e9e9e9" stroke="#a6a6a6" stroke-width="0.45"/>
<ellipse cx="59.3" cy="73.1" rx="3.3" ry="1.9" fill="#e9e9e9" stroke="#a6a6a6" stroke-width="0.45"/>
<ellipse cx="65.9" cy="74.5" rx="3.3" ry="1.9" fill="#e9e9e9" stroke="#a6a6a6" stroke-width="0.45"/>
<ellipse cx="72.5" cy="75.8" rx="3.3" ry="1.9" fill="#e9e9e9" stroke="#a6a6a6" stroke-width="0.45"/>
<ellipse cx="79.1" cy="76.8" rx="3.3" ry="1.9" fill="#e9e9e9" stroke="#a6a6a6" stroke-width="0.45"/>
<ellipse cx="85.7" cy="77.6" rx="3.3" ry="1.9" fill="#e9e9e9" stroke="#a6a6a6" stroke-width="0.45"/>
<ellipse cx="92.3" cy="78.4" rx="3.3" ry="1.9" fill="#e9e9e9" stroke="#a6a6a6" stroke-width="0.45"/>
<ellipse cx="98.9" cy="79.2" rx="3.3" ry="1.9" fill="#e9e9e9" stroke="#a6a6a6" stroke-width="0.45"/>
<ellipse cx="105.5" cy="79.8" rx="3.3" ry="1.9" fill="#e9e9e9" stroke="#a6a6a6" stroke-width="0.45"/>
<ellipse cx="112.1" cy="80.5" rx="3.3" ry="1.9" fill="#e9e9e9" stroke="#a6a6a6" stroke-width="0.45"/>
<ellipse cx="118.7" cy="81.0" rx="3.3" ry="1.9" fill="#e9e9e9" stroke="#a6a6a6" stroke-width="0.45"/>
<ellipse cx="125.3" cy="81.4" rx="3.3" ry="1.9" fill="#e9e9e9" stroke="#a6a6a6" stroke-width="0.45"/>
<ellipse cx="131.9" cy="81.8" rx="3.3" ry="1.9" fill="#e9e9e9" stroke="#a6a6a6" stroke-width="0.45"/>
<ellipse cx="138.5" cy="82.1" rx="3.3" ry="1.9" fill="#e9e9e9" stroke="#a6a6a6" stroke-width="0.45"/>
<ellipse cx="145.1" cy="82.3" rx="3.3" ry="1.9" fill="#e9e9e9" stroke="#a6a6a6" stroke-width="0.45"/>
<ellipse cx="151.7" cy="82.4" rx="3.3" ry="1.9" fill="#e9e9e9" stroke="#a6a6a6" stroke-width="0.45"/>
<ellipse cx="158.3" cy="82.5" rx="3.3" ry="1.9" fill="#e9e9e9" stroke="#a6a6a6" stroke-width="0.45"/>
<ellipse cx="164.9" cy="82.5" rx="3.3" ry="1.9" fill="#e9e9e9" stroke="#a6a6a6" stroke-width="0.45"/>
<ellipse cx="171.5" cy="82.5" rx="3.3" ry="1.9" fill="#e9e9e9" stroke="#a6a6a6" stroke-width="0.45"/>
<ellipse cx="178.1" cy="82.4" rx="3.3" ry="1.9" fill="#e9e9e9" stroke="#a6a6a6" stroke-width="0.45"/>
<ellipse cx="184.7" cy="82.3" rx="3.3" ry="1.9" fill="#e9e9e9" stroke="#a6a6a6" stroke-width="0.45"/>
<ellipse cx="191.3" cy="82.2" rx="3.3" ry="1.9" fill="#e9e9e9" stroke="#a6a6a6" stroke-width="0.45"/>
<ellipse cx="197.9" cy="82.0" rx="3.3" ry="1.9" fill="#e9e9e9" stroke="#a6a6a6" stroke-width="0.45"/>
<ellipse cx="204.5" cy="81.7" rx="3.3" ry="1.9" fill="#e9e9e9" stroke="#a6a6a6" stroke-width="0.45"/>
<ellipse cx="211.1" cy="81.4" rx="3.3" ry="1.9" fill="#e9e9e9" stroke="#a6a6a6" stroke-width="0.45"/>
<ellipse cx="217.7" cy="81.1" rx="3.3" ry="1.9" fill="#e9e9e9" stroke="#a6a6a6" stroke-width="0.45"/>
<ellipse cx="224.3" cy="80.7" rx="3.3" ry="1.9" fill="#e9e9e9" stroke="#a6a6a6" stroke-width="0.45"/>
<ellipse cx="230.9" cy="80.3" rx="3.3" ry="1.9" fill="#e9e9e9" stroke="#a6a6a6" stroke-width="0.45"/>
<ellipse cx="237.5" cy="79.6" rx="3.3" ry="1.9" fill="#e9e9e9" stroke="#a6a6a6" stroke-width="0.45"/>
<ellipse cx="244.1" cy="78.7" rx="3.3" ry="1.9" fill="#e9e9e9" stroke="#a6a6a6" stroke-width="0.45"/>
<ellipse cx="250.7" cy="77.7" rx="3.3" ry="1.9" fill="#e9e9e9" stroke="#a6a6a6" stroke-width="0.45"/>
<ellipse cx="257.3" cy="76.6" rx="3.3" ry="1.9" fill="#e9e9e9" stroke="#a6a6a6" stroke-width="0.45"/>
<ellipse cx="263.9" cy="75.5" rx="3.3" ry="1.9" fill="#e9e9e9" stroke="#a6a6a6" stroke-width="0.45"/>
<ellipse cx="270.5" cy="74.3" rx="3.3" ry="1.9" fill="#e9e9e9" stroke="#a6a6a6" stroke-width="0.45"/>
<ellipse cx="277.1" cy="73.1" rx="3.3" ry="1.9" fill="#e9e9e9" stroke="#a6a6a6" stroke-width="0.45"/>
<ellipse cx="283.7" cy="71.9" rx="3.3" ry="1.9" fill="#e9e9e9" stroke="#a6a6a6" stroke-width="0.45"/>
<ellipse cx="290.3" cy="70.6" rx="3.3" ry="1.9" fill="#e9e9e9" stroke="#a6a6a6" stroke-width="0.45"/>
<ellipse cx="296.9" cy="69.3" rx="3.3" ry="1.9" fill="#e9e9e9" stroke="#a6a6a6" stroke-width="0.45"/>
<ellipse cx="303.5" cy="68.0" rx="3.3" ry="1.9" fill="#e9e9e9" stroke="#a6a6a6" stroke-width="0.45"/>
<ellipse cx="310.1" cy="66.8" rx="3.3" ry="1.9" fill="#e9e9e9" stroke="#a6a6a6" stroke-width="0.45"/>
<ellipse cx="22.9" cy="67.2" rx="3.3" ry="1.9" fill="#e9e9e9" stroke="#a6a6a6" stroke-width="0.45"/>
<ellipse cx="29.5" cy="68.8" rx="3.3" ry="1.9" fill="#e9e9e9" stroke="#a6a6a6" stroke-width="0.45"/>
<ellipse cx="36.1" cy="70.5" rx="3.3" ry="1.9" fill="#e9e9e9" stroke="#a6a6a6" stroke-width="0.45"/>
<ellipse cx="42.7" cy="72.1" rx="3.3" ry="1.9" fill="#e9e9e9" stroke="#a6a6a6" stroke-width="0.45"/>
<ellipse cx="49.3" cy="73.7" rx="3.3" ry="1.9" fill="#e9e9e9" stroke="#a6a6a6" stroke-width="0.45"/>
<ellipse cx="55.9" cy="75.1" rx="3.3" ry="1.9" fill="#e9e9e9" stroke="#a6a6a6" stroke-width="0.45"/>
<ellipse cx="62.5" cy="76.5" rx="3.3" ry="1.9" fill="#e9e9e9" stroke="#a6a6a6" stroke-width="0.45"/>
<ellipse cx="69.1" cy="77.8" rx="3.3" ry="1.9" fill="#e9e9e9" stroke="#a6a6a6" stroke-width="0.45"/>
<ellipse cx="75.7" cy="79.0" rx="3.3" ry="1.9" fill="#e9e9e9" stroke="#a6a6a6" stroke-width="0.45"/>
<ellipse cx="82.3" cy="79.9" rx="3.3" ry="1.9" fill="#e9e9e9" stroke="#a6a6a6" stroke-width="0.45"/>
<ellipse cx="88.9" cy="80.7" rx="3.3" ry="1.9" fill="#e9e9e9" stroke="#a6a6a6" stroke-width="0.45"/>
<ellipse cx="95.5" cy="81.5" rx="3.3" ry="1.9" fill="#e9e9e9" stroke="#a6a6a6" stroke-width="0.45"/>
<ellipse cx="102.1" cy="82.2" rx="3.3" ry="1.9" fill="#e9e9e9" stroke="#a6a6a6" stroke-width="0.45"/>
<ellipse cx="108.7" cy="82.8" rx="3.3" ry="1.9" fill="#e9e9e9" stroke="#a6a6a6" stroke-width="0.45"/>
<ellipse cx="115.3" cy="83.4" rx="3.3" ry="1.9" fill="#e9e9e9" stroke="#a6a6a6" stroke-width="0.45"/>
<ellipse cx="121.9" cy="83.9" rx="3.3" ry="1.9" fill="#e9e9e9" stroke="#a6a6a6" stroke-width="0.45"/>
<ellipse cx="128.5" cy="84.3" rx="3.3" ry="1.9" fill="#e9e9e9" stroke="#a6a6a6" stroke-width="0.45"/>
<ellipse cx="135.1" cy="84.6" rx="3.3" ry="1.9" fill="#e9e9e9" stroke="#a6a6a6" stroke-width="0.45"/>
<ellipse cx="141.7" cy="84.9" rx="3.3" ry="1.9" fill="#e9e9e9" stroke="#a6a6a6" stroke-width="0.45"/>
<ellipse cx="148.3" cy="85.1" rx="3.3" ry="1.9" fill="#e9e9e9" stroke="#a6a6a6" stroke-width="0.45"/>
<ellipse cx="154.9" cy="85.2" rx="3.3" ry="1.9" fill="#e9e9e9" stroke="#a6a6a6" stroke-width="0.45"/>
<ellipse cx="161.5" cy="85.2" rx="3.3" ry="1.9" fill="#e9e9e9" stroke="#a6a6a6" stroke-width="0.45"/>
<ellipse cx="168.1" cy="85.2" rx="3.3" ry="1.9" fill="#e9e9e9" stroke="#a6a6a6" stroke-width="0.45"/>
<ellipse cx="174.7" cy="85.2" rx="3.3" ry="1.9" fill="#e9e9e9" stroke="#a6a6a6" stroke-width="0.45"/>
<ellipse cx="181.3" cy="85.1" rx="3.3" ry="1.9" fill="#e9e9e9" stroke="#a6a6a6" stroke-width="0.45"/>
<ellipse cx="187.9" cy="85.0" rx="3.3" ry="1.9" fill="#e9e9e9" stroke="#a6a6a6" stroke-width="0.45"/>
<ellipse cx="194.5" cy="84.8" rx="3.3" ry="1.9" fill="#e9e9e9" stroke="#a6a6a6" stroke-width="0.45"/>
<ellipse cx="201.1" cy="84.5" rx="3.3" ry="1.9" fill="#e9e9e9" stroke="#a6a6a6" stroke-width="0.45"/>
<ellipse cx="207.7" cy="84.2" rx="3.3" ry="1.9" fill="#e9e9e9" stroke="#a6a6a6" stroke-width="0.45"/>
<ellipse cx="214.3" cy="83.9" rx="3.3" ry="1.9" fill="#e9e9e9" stroke="#a6a6a6" stroke-width="0.45"/>
<ellipse cx="220.9" cy="83.5" rx="3.3" ry="1.9" fill="#e9e9e9" stroke="#a6a6a6" stroke-width="0.45"/>
<ellipse cx="227.5" cy="83.1" rx="3.3" ry="1.9" fill="#e9e9e9" stroke="#a6a6a6" stroke-width="0.45"/>
<ellipse cx="234.1" cy="82.5" rx="3.3" ry="1.9" fill="#e9e9e9" stroke="#a6a6a6" stroke-width="0.45"/>
<ellipse cx="240.7" cy="81.7" rx="3.3" ry="1.9" fill="#e9e9e9" stroke="#a6a6a6" stroke-width="0.45"/>
<ellipse cx="247.3" cy="80.6" rx="3.3" ry="1.9" fill="#e9e9e9" stroke="#a6a6a6" stroke-width="0.45"/>
<ellipse cx="253.9" cy="79.6" rx="3.3" ry="1.9" fill="#e9e9e9" stroke="#a6a6a6" stroke-width="0.45"/>
<ellipse cx="260.5" cy="78.5" rx="3.3" ry="1.9" fill="#e9e9e9" stroke="#a6a6a6" stroke-width="0.45"/>
<ellipse cx="267.1" cy="77.3" rx="3.3" ry="1.9" fill="#e9e9e9" stroke="#a6a6a6" stroke-width="0.45"/>
<ellipse cx="273.7" cy="76.2" rx="3.3" ry="1.9" fill="#e9e9e9" stroke="#a6a6a6" stroke-width="0.45"/>
<ellipse cx="280.3" cy="75.0" rx="3.3" ry="1.9" fill="#e9e9e9" stroke="#a6a6a6" stroke-width="0.45"/>
<ellipse cx="286.9" cy="73.8" rx="3.3" ry="1.9" fill="#e9e9e9" stroke="#a6a6a6" stroke-width="0.45"/>
<ellipse cx="293.5" cy="72.5" rx="3.3" ry="1.9" fill="#e9e9e9" stroke="#a6a6a6" stroke-width="0.45"/>
<ellipse cx="300.1" cy="71.2" rx="3.3" ry="1.9" fill="#e9e9e9" stroke="#a6a6a6" stroke-width="0.45"/>
<ellipse cx="306.7" cy="69.9" rx="3.3" ry="1.9" fill="#e9e9e9" stroke="#a6a6a6" stroke-width="0.45"/>
<ellipse cx="313.3" cy="68.9" rx="3.3" ry="1.9" fill="#e9e9e9" stroke="#a6a6a6" stroke-width="0.45"/>
<ellipse cx="19.6" cy="69.0" rx="3.3" ry="1.9" fill="#e9e9e9" stroke="#a6a6a6" stroke-width="0.45"/>
<ellipse cx="26.2" cy="70.6" rx="3.3" ry="1.9" fill="#e9e9e9" stroke="#a6a6a6" stroke-width="0.45"/>
<ellipse cx="32.9" cy="72.3" rx="3.3" ry="1.9" fill="#e9e9e9" stroke="#a6a6a6" stroke-width="0.45"/>
<ellipse cx="39.5" cy="74.0" rx="3.3" ry="1.9" fill="#e9e9e9" stroke="#a6a6a6" stroke-width="0.45"/>
<ellipse cx="46.1" cy="75.6" rx="3.3" ry="1.9" fill="#e9e9e9" stroke="#a6a6a6" stroke-width="0.45"/>
<ellipse cx="52.7" cy="77.1" rx="3.3" ry="1.9" fill="#e9e9e9" stroke="#a6a6a6" stroke-width="0.45"/>
<ellipse cx="59.3" cy="78.5" rx="3.3" ry="1.9" fill="#e9e9e9" stroke="#a6a6a6" stroke-width="0.45"/>
<ellipse cx="65.9" cy="79.9" rx="3.3" ry="1.9" fill="#e9e9e9" stroke="#a6a6a6" stroke-width="0.45"/>
<ellipse cx="72.5" cy="81.1" rx="3.3" ry="1.9" fill="#e9e9e9" stroke="#a6a6a6" stroke-width="0.45"/>
<ellipse cx="79.1" cy="82.1" rx="3.3" ry="1.9" fill="#e9e9e9" stroke="#a6a6a6" stroke-width="0.45"/>
<ellipse cx="85.7" cy="82.9" rx="3.3" ry="1.9" fill="#e9e9e9" stroke="#a6a6a6" stroke-width="0.45"/>
<ellipse cx="92.3" cy="83.7" rx="3.3" ry="1.9" fill="#e9e9e9" stroke="#a6a6a6" stroke-width="0.45"/>
<ellipse cx="98.9" cy="84.5" rx="3.3" ry="1.9" fill="#e9e9e9" stroke="#a6a6a6" stroke-width="0.45"/>
<ellipse cx="105.5" cy="85.1" rx="3.3" ry="1.9" fill="#e9e9e9" stroke="#a6a6a6" stroke-width="0.45"/>
<ellipse cx="112.1" cy="85.7" rx="3.3" ry="1.9" fill="#e9e9e9" stroke="#a6a6a6" stroke-width="0.45"/>
<ellipse cx="118.7" cy="86.3" rx="3.3" ry="1.9" fill="#e9e9e9" stroke="#a6a6a6" stroke-width="0.45"/>
<ellipse cx="125.3" cy="86.7" rx="3.3" ry="1.9" fill="#e9e9e9" stroke="#a6a6a6" stroke-width="0.45"/>
<ellipse cx="131.9" cy="87.1" rx="3.3" ry="1.9" fill="#e9e9e9" stroke="#a6a6a6" stroke-width="0.45"/>
<ellipse cx="138.5" cy="87.4" rx="3.3" ry="1.9" fill="#e9e9e9" stroke="#a6a6a6" stroke-width="0.45"/>
<ellipse cx="145.1" cy="87.7" rx="3.3" ry="1.9" fill="#e9e9e9" stroke="#a6a6a6" stroke-width="0.45"/>
<ellipse cx="151.7" cy="87.8" rx="3.3" ry="1.9" fill="#e9e9e9" stroke="#a6a6a6" stroke-width="0.45"/>
<ellipse cx="158.3" cy="87.9" rx="3.3" ry="1.9" fill="#e9e9e9" stroke="#a6a6a6" stroke-width="0.45"/>
<ellipse cx="164.9" cy="88.0" rx="3.3" ry="1.9" fill="#e9e9e9" stroke="#a6a6a6" stroke-width="0.45"/>
<ellipse cx="171.5" cy="88.0" rx="3.3" ry="1.9" fill="#e9e9e9" stroke="#a6a6a6" stroke-width="0.45"/>
<ellipse cx="178.1" cy="87.9" rx="3.3" ry="1.9" fill="#e9e9e9" stroke="#a6a6a6" stroke-width="0.45"/>
<ellipse cx="184.7" cy="87.8" rx="3.3" ry="1.9" fill="#e9e9e9" stroke="#a6a6a6" stroke-width="0.45"/>
<ellipse cx="191.3" cy="87.6" rx="3.3" ry="1.9" fill="#e9e9e9" stroke="#a6a6a6" stroke-width="0.45"/>
<ellipse cx="197.9" cy="87.3" rx="3.3" ry="1.9" fill="#e9e9e9" stroke="#a6a6a6" stroke-width="0.45"/>
<ellipse cx="204.5" cy="87.0" rx="3.3" ry="1.9" fill="#e9e9e9" stroke="#a6a6a6" stroke-width="0.45"/>
<ellipse cx="211.1" cy="86.7" rx="3.3" ry="1.9" fill="#e9e9e9" stroke="#a6a6a6" stroke-width="0.45"/>
<ellipse cx="217.7" cy="86.3" rx="3.3" ry="1.9" fill="#e9e9e9" stroke="#a6a6a6" stroke-width="0.45"/>
<ellipse cx="224.3" cy="85.8" rx="3.3" ry="1.9" fill="#e9e9e9" stroke="#a6a6a6" stroke-width="0.45"/>
<ellipse cx="230.9" cy="85.3" rx="3.3" ry="1.9" fill="#e9e9e9" stroke="#a6a6a6" stroke-width="0.45"/>
<ellipse cx="237.5" cy="84.6" rx="3.3" ry="1.9" fill="#e9e9e9" stroke="#a6a6a6" stroke-width="0.45"/>
<ellipse cx="244.1" cy="83.6" rx="3.3" ry="1.9" fill="#e9e9e9" stroke="#a6a6a6" stroke-width="0.45"/>
<ellipse cx="250.7" cy="82.5" rx="3.3" ry="1.9" fill="#e9e9e9" stroke="#a6a6a6" stroke-width="0.45"/>
<ellipse cx="257.3" cy="81.4" rx="3.3" ry="1.9" fill="#e9e9e9" stroke="#a6a6a6" stroke-width="0.45"/>
<ellipse cx="263.9" cy="80.4" rx="3.3" ry="1.9" fill="#e9e9e9" stroke="#a6a6a6" stroke-width="0.45"/>
<ellipse cx="270.5" cy="79.2" rx="3.3" ry="1.9" fill="#e9e9e9" stroke="#a6a6a6" stroke-width="0.45"/>
<ellipse cx="277.1" cy="78.1" rx="3.3" ry="1.9" fill="#e9e9e9" stroke="#a6a6a6" stroke-width="0.45"/>
<ellipse cx="283.7" cy="76.9" rx="3.3" ry="1.9" fill="#e9e9e9" stroke="#a6a6a6" stroke-width="0.45"/>
<ellipse cx="290.3" cy="75.7" rx="3.3" ry="1.9" fill="#e9e9e9" stroke="#a6a6a6" stroke-width="0.45"/>
<ellipse cx="296.9" cy="74.4" rx="3.3" ry="1.9" fill="#e9e9e9" stroke="#a6a6a6" stroke-width="0.45"/>
<ellipse cx="303.5" cy="73.1" rx="3.3" ry="1.9" fill="#e9e9e9" stroke="#a6a6a6" stroke-width="0.45"/>
<ellipse cx="310.1" cy="71.8" rx="3.3" ry="1.9" fill="#e9e9e9" stroke="#a6a6a6" stroke-width="0.45"/>
<ellipse cx="22.9" cy="72.3" rx="3.3" ry="1.9" fill="#e9e9e9" stroke="#a6a6a6" stroke-width="0.45"/>
<ellipse cx="29.5" cy="74.0" rx="3.3" ry="1.9" fill="#e9e9e9" stroke="#a6a6a6" stroke-width="0.45"/>
<ellipse cx="36.1" cy="75.8" rx="3.3" ry="1.9" fill="#e9e9e9" stroke="#a6a6a6" stroke-width="0.45"/>
<ellipse cx="42.7" cy="77.4" rx="3.3" ry="1.9" fill="#e9e9e9" stroke="#a6a6a6" stroke-width="0.45"/>
<ellipse cx="49.3" cy="79.0" rx="3.3" ry="1.9" fill="#e9e9e9" stroke="#a6a6a6" stroke-width="0.45"/>
<ellipse cx="55.9" cy="80.5" rx="3.3" ry="1.9" fill="#e9e9e9" stroke="#a6a6a6" stroke-width="0.45"/>
<ellipse cx="62.5" cy="81.9" rx="3.3" ry="1.9" fill="#e9e9e9" stroke="#a6a6a6" stroke-width="0.45"/>
<ellipse cx="69.1" cy="83.2" rx="3.3" ry="1.9" fill="#e9e9e9" stroke="#a6a6a6" stroke-width="0.45"/>
<ellipse cx="75.7" cy="84.3" rx="3.3" ry="1.9" fill="#e9e9e9" stroke="#a6a6a6" stroke-width="0.45"/>
<ellipse cx="82.3" cy="85.2" rx="3.3" ry="1.9" fill="#e9e9e9" stroke="#a6a6a6" stroke-width="0.45"/>
<ellipse cx="88.9" cy="86.0" rx="3.3" ry="1.9" fill="#e9e9e9" stroke="#a6a6a6" stroke-width="0.45"/>
<ellipse cx="95.5" cy="86.7" rx="3.3" ry="1.9" fill="#e9e9e9" stroke="#a6a6a6" stroke-width="0.45"/>
<ellipse cx="102.1" cy="87.4" rx="3.3" ry="1.9" fill="#e9e9e9" stroke="#a6a6a6" stroke-width="0.45"/>
<ellipse cx="108.7" cy="88.1" rx="3.3" ry="1.9" fill="#e9e9e9" stroke="#a6a6a6" stroke-width="0.45"/>
<ellipse cx="115.3" cy="88.6" rx="3.3" ry="1.9" fill="#e9e9e9" stroke="#a6a6a6" stroke-width="0.45"/>
<ellipse cx="121.9" cy="89.2" rx="3.3" ry="1.9" fill="#e9e9e9" stroke="#a6a6a6" stroke-width="0.45"/>
<ellipse cx="128.5" cy="89.6" rx="3.3" ry="1.9" fill="#e9e9e9" stroke="#a6a6a6" stroke-width="0.45"/>
<ellipse cx="135.1" cy="89.9" rx="3.3" ry="1.9" fill="#e9e9e9" stroke="#a6a6a6" stroke-width="0.45"/>
<ellipse cx="141.7" cy="90.2" rx="3.3" ry="1.9" fill="#e9e9e9" stroke="#a6a6a6" stroke-width="0.45"/>
<ellipse cx="148.3" cy="90.5" rx="3.3" ry="1.9" fill="#e9e9e9" stroke="#a6a6a6" stroke-width="0.45"/>
<ellipse cx="154.9" cy="90.6" rx="3.3" ry="1.9" fill="#e9e9e9" stroke="#a6a6a6" stroke-width="0.45"/>
<ellipse cx="161.5" cy="90.7" rx="3.3" ry="1.9" fill="#e9e9e9" stroke="#a6a6a6" stroke-width="0.45"/>
<ellipse cx="168.1" cy="90.7" rx="3.3" ry="1.9" fill="#e9e9e9" stroke="#a6a6a6" stroke-width="0.45"/>
<ellipse cx="174.7" cy="90.7" rx="3.3" ry="1.9" fill="#e9e9e9" stroke="#a6a6a6" stroke-width="0.45"/>
<ellipse cx="181.3" cy="90.6" rx="3.3" ry="1.9" fill="#e9e9e9" stroke="#a6a6a6" stroke-width="0.45"/>
<ellipse cx="187.9" cy="90.4" rx="3.3" ry="1.9" fill="#e9e9e9" stroke="#a6a6a6" stroke-width="0.45"/>
<ellipse cx="194.5" cy="90.2" rx="3.3" ry="1.9" fill="#e9e9e9" stroke="#a6a6a6" stroke-width="0.45"/>
<ellipse cx="201.1" cy="89.9" rx="3.3" ry="1.9" fill="#e9e9e9" stroke="#a6a6a6" stroke-width="0.45"/>
<ellipse cx="207.7" cy="89.5" rx="3.3" ry="1.9" fill="#e9e9e9" stroke="#a6a6a6" stroke-width="0.45"/>
<ellipse cx="214.3" cy="89.1" rx="3.3" ry="1.9" fill="#e9e9e9" stroke="#a6a6a6" stroke-width="0.45"/>
<ellipse cx="220.9" cy="88.6" rx="3.3" ry="1.9" fill="#e9e9e9" stroke="#a6a6a6" stroke-width="0.45"/>
<ellipse cx="227.5" cy="88.1" rx="3.3" ry="1.9" fill="#e9e9e9" stroke="#a6a6a6" stroke-width="0.45"/>
<ellipse cx="234.1" cy="87.5" rx="3.3" ry="1.9" fill="#e9e9e9" stroke="#a6a6a6" stroke-width="0.45"/>
<ellipse cx="240.7" cy="86.5" rx="3.3" ry="1.9" fill="#e9e9e9" stroke="#a6a6a6" stroke-width="0.45"/>
<ellipse cx="247.3" cy="85.4" rx="3.3" ry="1.9" fill="#e9e9e9" stroke="#a6a6a6" stroke-width="0.45"/>
<ellipse cx="253.9" cy="84.4" rx="3.3" ry="1.9" fill="#e9e9e9" stroke="#a6a6a6" stroke-width="0.45"/>
<ellipse cx="260.5" cy="83.3" rx="3.3" ry="1.9" fill="#e9e9e9" stroke="#a6a6a6" stroke-width="0.45"/>
<ellipse cx="267.1" cy="82.3" rx="3.3" ry="1.9" fill="#e9e9e9" stroke="#a6a6a6" stroke-width="0.45"/>
<ellipse cx="273.7" cy="81.2" rx="3.3" ry="1.9" fill="#e9e9e9" stroke="#a6a6a6" stroke-width="0.45"/>
<ellipse cx="280.3" cy="80.0" rx="3.3" ry="1.9" fill="#e9e9e9" stroke="#a6a6a6" stroke-width="0.45"/>
<ellipse cx="286.9" cy="78.8" rx="3.3" ry="1.9" fill="#e9e9e9" stroke="#a6a6a6" stroke-width="0.45"/>
<ellipse cx="293.5" cy="77.6" rx="3.3" ry="1.9" fill="#e9e9e9" stroke="#a6a6a6" stroke-width="0.45"/>
<ellipse cx="300.1" cy="76.3" rx="3.3" ry="1.9" fill="#e9e9e9" stroke="#a6a6a6" stroke-width="0.45"/>
<ellipse cx="306.7" cy="75.0" rx="3.3" ry="1.9" fill="#e9e9e9" stroke="#a6a6a6" stroke-width="0.45"/>
<ellipse cx="313.3" cy="74.0" rx="3.3" ry="1.9" fill="#e9e9e9" stroke="#a6a6a6" stroke-width="0.45"/>
<ellipse cx="21.0" cy="46.8" rx="3.6" ry="2.5" fill="#ececec" stroke="#8f8f8f" stroke-width="0.5"/>
<ellipse cx="27.6" cy="47.9" rx="3.6" ry="2.5" fill="#ececec" stroke="#8f8f8f" stroke-width="0.5"/>
<ellipse cx="34.2" cy="49.0" rx="3.6" ry="2.5" fill="#ececec" stroke="#8f8f8f" stroke-width="0.5"/>
<ellipse cx="40.8" cy="50.2" rx="3.6" ry="2.5" fill="#ececec" stroke="#8f8f8f" stroke-width="0.5"/>
<ellipse cx="47.4" cy="51.4" rx="3.6" ry="2.5" fill="#ececec" stroke="#8f8f8f" stroke-width="0.5"/>
<ellipse cx="54.0" cy="52.7" rx="3.6" ry="2.5" fill="#ececec" stroke="#8f8f8f" stroke-width="0.5"/>
<ellipse cx="60.6" cy="54.4" rx="3.6" ry="2.5" fill="#ececec" stroke="#8f8f8f" stroke-width="0.5"/>
<ellipse cx="67.2" cy="56.3" rx="3.6" ry="2.5" fill="#ececec" stroke="#8f8f8f" stroke-width="0.5"/>
<ellipse cx="73.8" cy="58.0" rx="3.6" ry="2.5" fill="#ececec" stroke="#8f8f8f" stroke-width="0.5"/>
<ellipse cx="80.4" cy="59.3" rx="3.6" ry="2.5" fill="#ececec" stroke="#8f8f8f" stroke-width="0.5"/>
<ellipse cx="87.0" cy="60.2" rx="3.6" ry="2.5" fill="#ececec" stroke="#8f8f8f" stroke-width="0.5"/>
<ellipse cx="93.6" cy="61.0" rx="3.6" ry="2.5" fill="#ececec" stroke="#8f8f8f" stroke-width="0.5"/>
<ellipse cx="100.2" cy="61.7" rx="3.6" ry="2.5" fill="#ececec" stroke="#8f8f8f" stroke-width="0.5"/>
<ellipse cx="106.8" cy="62.3" rx="3.6" ry="2.5" fill="#ececec" stroke="#8f8f8f" stroke-width="0.5"/>
<ellipse cx="113.4" cy="62.9" rx="3.6" ry="2.5" fill="#ececec" stroke="#8f8f8f" stroke-width="0.5"/>
<ellipse cx="120.0" cy="63.4" rx="3.6" ry="2.5" fill="#ececec" stroke="#8f8f8f" stroke-width="0.5"/>
<ellipse cx="126.6" cy="63.8" rx="3.6" ry="2.5" fill="#ececec" stroke="#8f8f8f" stroke-width="0.5"/>
<ellipse cx="133.2" cy="64.2" rx="3.6" ry="2.5" fill="#ececec" stroke="#8f8f8f" stroke-width="0.5"/>
<ellipse cx="139.8" cy="64.5" rx="3.6" ry="2.5" fill="#ececec" stroke="#8f8f8f" stroke-width="0.5"/>
<ellipse cx="146.4" cy="64.7" rx="3.6" ry="2.5" fill="#ececec" stroke="#8f8f8f" stroke-width="0.5"/>
<ellipse cx="153.0" cy="64.9" rx="3.6" ry="2.5" fill="#ececec" stroke="#8f8f8f" stroke-width="0.5"/>
<ellipse cx="159.6" cy="65.0" rx="3.6" ry="2.5" fill="#ececec" stroke="#8f8f8f" stroke-width="0.5"/>
<ellipse cx="166.2" cy="65.1" rx="3.6" ry="2.5" fill="#ececec" stroke="#8f8f8f" stroke-width="0.5"/>
<ellipse cx="172.8" cy="65.1" rx="3.6" ry="2.5" fill="#ececec" stroke="#8f8f8f" stroke-width="0.5"/>
<ellipse cx="179.4" cy="65.0" rx="3.6" ry="2.5" fill="#ececec" stroke="#8f8f8f" stroke-width="0.5"/>
<ellipse cx="186.0" cy="64.9" rx="3.6" ry="2.5" fill="#ececec" stroke="#8f8f8f" stroke-width="0.5"/>
<ellipse cx="192.6" cy="64.7" rx="3.6" ry="2.5" fill="#ececec" stroke="#8f8f8f" stroke-width="0.5"/>
<ellipse cx="199.2" cy="64.5" rx="3.6" ry="2.5" fill="#ececec" stroke="#8f8f8f" stroke-width="0.5"/>
<ellipse cx="205.8" cy="64.2" rx="3.6" ry="2.5" fill="#ececec" stroke="#8f8f8f" stroke-width="0.5"/>
<ellipse cx="212.4" cy="63.9" rx="3.6" ry="2.5" fill="#ececec" stroke="#8f8f8f" stroke-width="0.5"/>
<ellipse cx="219.0" cy="63.6" rx="3.6" ry="2.5" fill="#ececec" stroke="#8f8f8f" stroke-width="0.5"/>
<ellipse cx="225.6" cy="63.2" rx="3.6" ry="2.5" fill="#ececec" stroke="#8f8f8f" stroke-width="0.5"/>
<ellipse cx="232.2" cy="62.8" rx="3.6" ry="2.5" fill="#ececec" stroke="#8f8f8f" stroke-width="0.5"/>
<ellipse cx="238.8" cy="62.3" rx="3.6" ry="2.5" fill="#ececec" stroke="#8f8f8f" stroke-width="0.5"/>
<ellipse cx="245.4" cy="61.8" rx="3.6" ry="2.5" fill="#ececec" stroke="#8f8f8f" stroke-width="0.5"/>
<ellipse cx="252.0" cy="61.2" rx="3.6" ry="2.5" fill="#ececec" stroke="#8f8f8f" stroke-width="0.5"/>
<ellipse cx="258.6" cy="60.4" rx="3.6" ry="2.5" fill="#ececec" stroke="#8f8f8f" stroke-width="0.5"/>
<ellipse cx="265.2" cy="59.3" rx="3.6" ry="2.5" fill="#ececec" stroke="#8f8f8f" stroke-width="0.5"/>
<ellipse cx="271.8" cy="57.8" rx="3.6" ry="2.5" fill="#ececec" stroke="#8f8f8f" stroke-width="0.5"/>
<ellipse cx="278.4" cy="55.6" rx="3.6" ry="2.5" fill="#ececec" stroke="#8f8f8f" stroke-width="0.5"/>
<ellipse cx="285.0" cy="53.0" rx="3.6" ry="2.5" fill="#ececec" stroke="#8f8f8f" stroke-width="0.5"/>
<ellipse cx="291.6" cy="50.2" rx="3.6" ry="2.5" fill="#ececec" stroke="#8f8f8f" stroke-width="0.5"/>
<ellipse cx="298.2" cy="47.7" rx="3.6" ry="2.5" fill="#ececec" stroke="#8f8f8f" stroke-width="0.5"/>
<ellipse cx="304.8" cy="45.4" rx="3.6" ry="2.5" fill="#ececec" stroke="#8f8f8f" stroke-width="0.5"/>
<ellipse cx="311.4" cy="43.0" rx="3.6" ry="2.5" fill="#ececec" stroke="#8f8f8f" stroke-width="0.5"/>
<ellipse cx="24.3" cy="63.6" rx="3.6" ry="2.5" fill="#ececec" stroke="#8f8f8f" stroke-width="0.5"/>
<ellipse cx="30.9" cy="65.2" rx="3.6" ry="2.5" fill="#ececec" stroke="#8f8f8f" stroke-width="0.5"/>
<ellipse cx="37.5" cy="66.8" rx="3.6" ry="2.5" fill="#ececec" stroke="#8f8f8f" stroke-width="0.5"/>
<ellipse cx="44.1" cy="68.4" rx="3.6" ry="2.5" fill="#ececec" stroke="#8f8f8f" stroke-width="0.5"/>
<ellipse cx="50.7" cy="69.9" rx="3.6" ry="2.5" fill="#ececec" stroke="#8f8f8f" stroke-width="0.5"/>
<ellipse cx="57.3" cy="71.4" rx="3.6" ry="2.5" fill="#ececec" stroke="#8f8f8f" stroke-width="0.5"/>
<ellipse cx="63.9" cy="72.8" rx="3.6" ry="2.5" fill="#ececec" stroke="#8f8f8f" stroke-width="0.5"/>
<ellipse cx="70.5" cy="74.1" rx="3.6" ry="2.5" fill="#ececec" stroke="#8f8f8f" stroke-width="0.5"/>
<ellipse cx="77.1" cy="75.2" rx="3.6" ry="2.5" fill="#ececec" stroke="#8f8f8f" stroke-width="0.5"/>
<ellipse cx="83.7" cy="76.1" rx="3.6" ry="2.5" fill="#ececec" stroke="#8f8f8f" stroke-width="0.5"/>
<ellipse cx="90.3" cy="76.9" rx="3.6" ry="2.5" fill="#ececec" stroke="#8f8f8f" stroke-width="0.5"/>
<ellipse cx="96.9" cy="77.6" rx="3.6" ry="2.5" fill="#ececec" stroke="#8f8f8f" stroke-width="0.5"/>
<ellipse cx="103.5" cy="78.3" rx="3.6" ry="2.5" fill="#ececec" stroke="#8f8f8f" stroke-width="0.5"/>
<ellipse cx="110.1" cy="79.0" rx="3.6" ry="2.5" fill="#ececec" stroke="#8f8f8f" stroke-width="0.5"/>
<ellipse cx="116.7" cy="79.5" rx="3.6" ry="2.5" fill="#ececec" stroke="#8f8f8f" stroke-width="0.5"/>
<ellipse cx="123.3" cy="80.0" rx="3.6" ry="2.5" fill="#ececec" stroke="#8f8f8f" stroke-width="0.5"/>
<ellipse cx="129.9" cy="80.4" rx="3.6" ry="2.5" fill="#ececec" stroke="#8f8f8f" stroke-width="0.5"/>
<ellipse cx="136.5" cy="80.7" rx="3.6" ry="2.5" fill="#ececec" stroke="#8f8f8f" stroke-width="0.5"/>
<ellipse cx="143.1" cy="80.9" rx="3.6" ry="2.5" fill="#ececec" stroke="#8f8f8f" stroke-width="0.5"/>
<ellipse cx="149.7" cy="81.1" rx="3.6" ry="2.5" fill="#ececec" stroke="#8f8f8f" stroke-width="0.5"/>
<ellipse cx="156.3" cy="81.1" rx="3.6" ry="2.5" fill="#ececec" stroke="#8f8f8f" stroke-width="0.5"/>
<ellipse cx="162.9" cy="81.1" rx="3.6" ry="2.5" fill="#ececec" stroke="#8f8f8f" stroke-width="0.5"/>
<ellipse cx="169.5" cy="81.1" rx="3.6" ry="2.5" fill="#ececec" stroke="#8f8f8f" stroke-width="0.5"/>
<ellipse cx="176.1" cy="81.0" rx="3.6" ry="2.5" fill="#ececec" stroke="#8f8f8f" stroke-width="0.5"/>
<ellipse cx="182.7" cy="81.0" rx="3.6" ry="2.5" fill="#ececec" stroke="#8f8f8f" stroke-width="0.5"/>
<ellipse cx="189.3" cy="80.8" rx="3.6" ry="2.5" fill="#ececec" stroke="#8f8f8f" stroke-width="0.5"/>
<ellipse cx="195.9" cy="80.7" rx="3.6" ry="2.5" fill="#ececec" stroke="#8f8f8f" stroke-width="0.5"/>
<ellipse cx="202.5" cy="80.5" rx="3.6" ry="2.5" fill="#ececec" stroke="#8f8f8f" stroke-width="0.5"/>
<ellipse cx="209.1" cy="80.2" rx="3.6" ry="2.5" fill="#ececec" stroke="#8f8f8f" stroke-width="0.5"/>
<ellipse cx="215.7" cy="79.9" rx="3.6" ry="2.5" fill="#ececec" stroke="#8f8f8f" stroke-width="0.5"/>
<ellipse cx="222.3" cy="79.6" rx="3.6" ry="2.5" fill="#ececec" stroke="#8f8f8f" stroke-width="0.5"/>
<ellipse cx="228.9" cy="79.2" rx="3.6" ry="2.5" fill="#ececec" stroke="#8f8f8f" stroke-width="0.5"/>
<ellipse cx="235.5" cy="78.6" rx="3.6" ry="2.5" fill="#ececec" stroke="#8f8f8f" stroke-width="0.5"/>
<ellipse cx="242.1" cy="77.8" rx="3.6" ry="2.5" fill="#ececec" stroke="#8f8f8f" stroke-width="0.5"/>
<ellipse cx="248.7" cy="76.8" rx="3.6" ry="2.5" fill="#ececec" stroke="#8f8f8f" stroke-width="0.5"/>
<ellipse cx="255.3" cy="75.7" rx="3.6" ry="2.5" fill="#ececec" stroke="#8f8f8f" stroke-width="0.5"/>
<ellipse cx="261.9" cy="74.6" rx="3.6" ry="2.5" fill="#ececec" stroke="#8f8f8f" stroke-width="0.5"/>
<ellipse cx="268.5" cy="73.4" rx="3.6" ry="2.5" fill="#ececec" stroke="#8f8f8f" stroke-width="0.5"/>
<ellipse cx="275.1" cy="72.2" rx="3.6" ry="2.5" fill="#ececec" stroke="#8f8f8f" stroke-width="0.5"/>
<ellipse cx="281.7" cy="71.0" rx="3.6" ry="2.5" fill="#ececec" stroke="#8f8f8f" stroke-width="0.5"/>
<ellipse cx="288.3" cy="69.7" rx="3.6" ry="2.5" fill="#ececec" stroke="#8f8f8f" stroke-width="0.5"/>
<ellipse cx="294.9" cy="68.4" rx="3.6" ry="2.5" fill="#ececec" stroke="#8f8f8f" stroke-width="0.5"/>
<ellipse cx="301.5" cy="67.1" rx="3.6" ry="2.5" fill="#ececec" stroke="#8f8f8f" stroke-width="0.5"/>
<ellipse cx="308.1" cy="65.9" rx="3.6" ry="2.5" fill="#ececec" stroke="#8f8f8f" stroke-width="0.5"/>
<ellipse cx="314.7" cy="65.1" rx="3.6" ry="2.5" fill="#ececec" stroke="#8f8f8f" stroke-width="0.5"/>
<path d="M20.0,171.6 L22.0,171.2 L24.0,170.8 L26.0,170.3 L28.0,169.9 L30.0,169.4 L32.0,169.0 L34.0,168.5 L36.0,168.1 L38.0,167.6 L40.0,167.2 L42.0,166.8 L44.0,166.3 L46.0,165.9 L48.0,165.5 L50.0,165.1 L52.0,164.7 L54.0,164.3 L56.0,164.0 L58.0,163.6 L60.0,163.3 L62.0,163.0 L64.0,162.7 L66.0,162.4 L68.0,162.1 L70.0,161.9 L72.0,161.6 L74.0,161.3 L76.0,161.1 L78.0,160.8 L80.0,160.6 L82.0,160.4 L84.0,160.1 L86.0,159.9 L88.0,159.7 L90.0,159.5 L92.0,159.3 L94.0,159.1 L96.0,158.9 L98.0,158.7 L100.0,158.5 L102.0,158.3 L104.0,158.1 L106.0,157.9 L108.0,157.7 L110.0,157.5 L112.0,157.3 L114.0,157.1 L116.0,156.9 L118.0,156.7 L120.0,156.5 L122.0,156.4 L124.0,156.2 L126.0,156.0 L128.0,155.8 L130.0,155.7 L132.0,155.5 L134.0,155.4 L136.0,155.2 L138.0,155.1 L140.0,154.9 L142.0,154.8 L144.0,154.7 L146.0,154.6 L148.0,154.5 L150.0,154.4 L152.0,154.3 L154.0,154.2 L156.0,154.1 L158.0,154.1 L160.0,154.0 L162.0,153.9 L164.0,153.8 L166.0,153.8 L168.0,153.7 L170.0,153.6 L172.0,153.6 L174.0,153.5 L176.0,153.5 L178.0,153.4 L180.0,153.4 L182.0,153.4 L184.0,153.3 L186.0,153.3 L188.0,153.3 L190.0,153.3 L192.0,153.4 L194.0,153.4 L196.0,153.4 L198.0,153.4 L200.0,153.5 L202.0,153.6 L204.0,153.6 L206.0,153.7 L208.0,153.8 L210.0,153.9 L212.0,154.0 L214.0,154.1 L216.0,154.3 L218.0,154.4 L220.0,154.5 L222.0,154.7 L224.0,154.8 L226.0,155.0 L228.0,155.2 L230.0,155.3 L232.0,155.5 L234.0,155.7 L236.0,155.9 L238.0,156.1 L240.0,156.3 L242.0,156.5 L244.0,156.7 L246.0,156.9 L248.0,157.1 L250.0,157.3 L252.0,157.5 L254.0,157.8 L256.0,158.1 L258.0,158.4 L260.0,158.7 L262.0,159.0 L264.0,159.4 L266.0,159.8 L268.0,160.2 L270.0,160.6 L272.0,161.0 L274.0,161.4 L276.0,161.8 L278.0,162.2 L280.0,162.7 L282.0,163.1 L284.0,163.6 L286.0,164.0 L288.0,164.5 L290.0,165.0 L292.0,165.5 L294.0,166.0 L296.0,166.4 L298.0,166.9 L300.0,167.4 L302.0,167.9 L304.0,168.4 L306.0,168.9 L308.0,169.3 L310.0,169.8 L312.0,170.3 L312.0,205.6 L310.0,205.0 L308.0,204.4 L306.0,203.8 L304.0,203.2 L302.0,202.6 L300.0,201.9 L298.0,201.3 L296.0,200.7 L294.0,200.1 L292.0,199.5 L290.0,198.9 L288.0,198.3 L286.0,197.7 L284.0,197.1 L282.0,196.6 L280.0,196.0 L278.0,195.5 L276.0,195.0 L274.0,194.6 L272.0,194.1 L270.0,193.7 L268.0,193.4 L266.0,193.0 L264.0,192.7 L262.0,192.4 L260.0,192.1 L258.0,191.9 L256.0,191.6 L254.0,191.4 L252.0,191.2 L250.0,191.0 L248.0,190.8 L246.0,190.6 L244.0,190.4 L242.0,190.2 L240.0,190.0 L238.0,189.8 L236.0,189.6 L234.0,189.5 L232.0,189.3 L230.0,189.1 L228.0,189.0 L226.0,188.8 L224.0,188.6 L222.0,188.5 L220.0,188.3 L218.0,188.2 L216.0,188.1 L214.0,187.9 L212.0,187.8 L210.0,187.7 L208.0,187.5 L206.0,187.4 L204.0,187.3 L202.0,187.2 L200.0,187.1 L198.0,187.0 L196.0,186.9 L194.0,186.8 L192.0,186.7 L190.0,186.6 L188.0,186.5 L186.0,186.4 L184.0,186.3 L182.0,186.2 L180.0,186.1 L178.0,186.1 L176.0,186.0 L174.0,185.9 L172.0,185.9 L170.0,185.8 L168.0,185.8 L166.0,185.8 L164.0,185.7 L162.0,185.7 L160.0,185.7 L158.0,185.8 L156.0,185.8 L154.0,185.9 L152.0,185.9 L150.0,186.0 L148.0,186.1 L146.0,186.2 L144.0,186.4 L142.0,186.6 L140.0,186.8 L138.0,187.1 L136.0,187.3 L134.0,187.6 L132.0,187.9 L130.0,188.2 L128.0,188.5 L126.0,188.8 L124.0,189.1 L122.0,189.4 L120.0,189.7 L118.0,190.0 L116.0,190.3 L114.0,190.6 L112.0,190.9 L110.0,191.2 L108.0,191.5 L106.0,191.7 L104.0,192.0 L102.0,192.2 L100.0,192.4 L98.0,192.6 L96.0,192.9 L94.0,193.1 L92.0,193.3 L90.0,193.5 L88.0,193.8 L86.0,194.0 L84.0,194.2 L82.0,194.5 L80.0,194.7 L78.0,195.0 L76.0,195.2 L74.0,195.5 L72.0,195.8 L70.0,196.1 L68.0,196.4 L66.0,196.8 L64.0,197.1 L62.0,197.5 L60.0,197.9 L58.0,198.3 L56.0,198.8 L54.0,199.3 L52.0,199.8 L50.0,200.3 L48.0,200.9 L46.0,201.4 L44.0,202.0 L42.0,202.6 L40.0,203.3 L38.0,203.9 L36.0,204.5 L34.0,205.2 L32.0,205.8 L30.0,206.4 L28.0,207.1 L26.0,207.7 L24.0,208.3 L22.0,208.9 L20.0,209.5Z" fill="#cfcfcf"/>
<g filter="url(#soft)">
<path d="M20.0,184.0 L22.0,183.5 L24.0,182.9 L26.0,182.4 L28.0,181.8 L30.0,181.3 L32.0,180.7 L34.0,180.1 L36.0,179.6 L38.0,179.0 L40.0,178.5 L42.0,177.9 L44.0,177.4 L46.0,176.8 L48.0,176.3 L50.0,175.9 L52.0,175.4 L54.0,174.9 L56.0,174.5 L58.0,174.2 L60.0,173.8 L62.0,173.5 L64.0,173.2 L66.0,172.9 L68.0,172.7 L70.0,172.4 L72.0,172.2 L74.0,172.0 L76.0,171.8 L78.0,171.7 L80.0,171.5 L82.0,171.3 L84.0,171.2 L86.0,171.0 L88.0,170.9 L90.0,170.8 L92.0,170.6 L94.0,170.5 L96.0,170.3 L98.0,170.2 L100.0,170.0 L102.0,169.8 L104.0,169.6 L106.0,169.4 L108.0,169.2 L110.0,169.0 L112.0,168.7 L114.0,168.5 L116.0,168.2 L118.0,167.8 L120.0,167.5 L122.0,167.1 L124.0,166.8 L126.0,166.4 L128.0,166.0 L130.0,165.7 L132.0,165.3 L134.0,165.0 L136.0,164.6 L138.0,164.3 L140.0,164.0 L142.0,163.8 L144.0,163.5 L146.0,163.3 L148.0,163.1 L150.0,163.0 L152.0,162.9 L154.0,162.8 L156.0,162.7 L158.0,162.7 L160.0,162.7 L162.0,162.6 L164.0,162.6 L166.0,162.6 L168.0,162.6 L170.0,162.7 L172.0,162.7 L174.0,162.8 L176.0,162.8 L178.0,162.9 L180.0,163.0 L182.0,163.0 L184.0,163.1 L186.0,163.2 L188.0,163.3 L190.0,163.4 L192.0,163.5 L194.0,163.7 L196.0,163.8 L198.0,163.9 L200.0,164.0 L202.0,164.1 L204.0,164.3 L206.0,164.4 L208.0,164.5 L210.0,164.7 L212.0,164.9 L214.0,165.0 L216.0,165.2 L218.0,165.4 L220.0,165.6 L222.0,165.8 L224.0,166.0 L226.0,166.2 L228.0,166.4 L230.0,166.6 L232.0,166.8 L234.0,167.1 L236.0,167.3 L238.0,167.5 L240.0,167.7 L242.0,167.9 L244.0,168.2 L246.0,168.4 L248.0,168.6 L250.0,168.8 L252.0,169.0 L254.0,169.2 L256.0,169.4 L258.0,169.6 L260.0,169.9 L262.0,170.1 L264.0,170.3 L266.0,170.6 L268.0,170.9 L270.0,171.2 L272.0,171.5 L274.0,171.8 L276.0,172.2 L278.0,172.6 L280.0,173.0 L282.0,173.4 L284.0,173.8 L286.0,174.3 L288.0,174.7 L290.0,175.2 L292.0,175.7 L294.0,176.1 L296.0,176.6 L298.0,177.1 L300.0,177.6 L302.0,178.1 L304.0,178.5 L306.0,179.0 L308.0,179.5 L310.0,179.9 L312.0,180.4 L312.0,198.4 L310.0,198.0 L308.0,197.5 L306.0,197.1 L304.0,196.7 L302.0,196.3 L300.0,195.8 L298.0,195.4 L296.0,195.0 L294.0,194.6 L292.0,194.1 L290.0,193.7 L288.0,193.3 L286.0,192.8 L284.0,192.4 L282.0,192.0 L280.0,191.6 L278.0,191.1 L276.0,190.7 L274.0,190.3 L272.0,189.8 L270.0,189.4 L268.0,188.9 L266.0,188.4 L264.0,187.9 L262.0,187.5 L260.0,187.0 L258.0,186.6 L256.0,186.2 L254.0,185.8 L252.0,185.5 L250.0,185.2 L248.0,185.0 L246.0,184.7 L244.0,184.5 L242.0,184.3 L240.0,184.1 L238.0,183.9 L236.0,183.7 L234.0,183.5 L232.0,183.3 L230.0,183.2 L228.0,183.0 L226.0,182.9 L224.0,182.7 L222.0,182.6 L220.0,182.4 L218.0,182.3 L216.0,182.2 L214.0,182.0 L212.0,181.9 L210.0,181.8 L208.0,181.7 L206.0,181.6 L204.0,181.5 L202.0,181.4 L200.0,181.3 L198.0,181.2 L196.0,181.1 L194.0,181.0 L192.0,180.9 L190.0,180.8 L188.0,180.7 L186.0,180.7 L184.0,180.6 L182.0,180.5 L180.0,180.4 L178.0,180.4 L176.0,180.3 L174.0,180.2 L172.0,180.2 L170.0,180.2 L168.0,180.1 L166.0,180.1 L164.0,180.1 L162.0,180.1 L160.0,180.1 L158.0,180.2 L156.0,180.2 L154.0,180.2 L152.0,180.3 L150.0,180.4 L148.0,180.5 L146.0,180.6 L144.0,180.8 L142.0,181.0 L140.0,181.2 L138.0,181.4 L136.0,181.6 L134.0,181.9 L132.0,182.2 L130.0,182.4 L128.0,182.7 L126.0,183.0 L124.0,183.3 L122.0,183.6 L120.0,183.9 L118.0,184.2 L116.0,184.5 L114.0,184.8 L112.0,185.1 L110.0,185.4 L108.0,185.7 L106.0,185.9 L104.0,186.2 L102.0,186.5 L100.0,186.7 L98.0,187.0 L96.0,187.3 L94.0,187.5 L92.0,187.8 L90.0,188.0 L88.0,188.3 L86.0,188.6 L84.0,188.9 L82.0,189.1 L80.0,189.4 L78.0,189.7 L76.0,190.0 L74.0,190.4 L72.0,190.7 L70.0,191.0 L68.0,191.4 L66.0,191.8 L64.0,192.2 L62.0,192.6 L60.0,193.0 L58.0,193.5 L56.0,193.9 L54.0,194.4 L52.0,195.0 L50.0,195.5 L48.0,196.1 L46.0,196.7 L44.0,197.3 L42.0,198.0 L40.0,198.6 L38.0,199.2 L36.0,199.9 L34.0,200.5 L32.0,201.2 L30.0,201.8 L28.0,202.5 L26.0,203.1 L24.0,203.8 L22.0,204.4 L20.0,205.0Z" fill="url(#tails)"/>
</g>
<ellipse cx="18.0" cy="173.2" rx="3.3" ry="1.9" fill="#e9e9e9" stroke="#a6a6a6" stroke-width="0.45"/>
<ellipse cx="24.6" cy="172.1" rx="3.3" ry="1.9" fill="#e9e9e9" stroke="#a6a6a6" stroke-width="0.45"/>
<ellipse cx="31.2" cy="170.6" rx="3.3" ry="1.9" fill="#e9e9e9" stroke="#a6a6a6" stroke-width="0.45"/>
<ellipse cx="37.8" cy="169.1" rx="3.3" ry="1.9" fill="#e9e9e9" stroke="#a6a6a6" stroke-width="0.45"/>
<ellipse cx="44.4" cy="167.6" rx="3.3" ry="1.9" fill="#e9e9e9" stroke="#a6a6a6" stroke-width="0.45"/>
<ellipse cx="51.0" cy="166.2" rx="3.3" ry="1.9" fill="#e9e9e9" stroke="#a6a6a6" stroke-width="0.45"/>
<ellipse cx="57.6" cy="165.0" rx="3.3" ry="1.9" fill="#e9e9e9" stroke="#a6a6a6" stroke-width="0.45"/>
<ellipse cx="64.2" cy="164.0" rx="3.3" ry="1.9" fill="#e9e9e9" stroke="#a6a6a6" stroke-width="0.45"/>
<ellipse cx="70.8" cy="163.1" rx="3.3" ry="1.9" fill="#e9e9e9" stroke="#a6a6a6" stroke-width="0.45"/>
<ellipse cx="77.4" cy="162.3" rx="3.3" ry="1.9" fill="#e9e9e9" stroke="#a6a6a6" stroke-width="0.45"/>
<ellipse cx="84.0" cy="161.5" rx="3.3" ry="1.9" fill="#e9e9e9" stroke="#a6a6a6" stroke-width="0.45"/>
<ellipse cx="90.6" cy="160.8" rx="3.3" ry="1.9" fill="#e9e9e9" stroke="#a6a6a6" stroke-width="0.45"/>
<ellipse cx="97.2" cy="160.2" rx="3.3" ry="1.9" fill="#e9e9e9" stroke="#a6a6a6" stroke-width="0.45"/>
<ellipse cx="103.8" cy="159.6" rx="3.3" ry="1.9" fill="#e9e9e9" stroke="#a6a6a6" stroke-width="0.45"/>
<ellipse cx="110.4" cy="158.9" rx="3.3" ry="1.9" fill="#e9e9e9" stroke="#a6a6a6" stroke-width="0.45"/>
<ellipse cx="117.0" cy="158.2" rx="3.3" ry="1.9" fill="#e9e9e9" stroke="#a6a6a6" stroke-width="0.45"/>
<ellipse cx="123.6" cy="157.5" rx="3.3" ry="1.9" fill="#e9e9e9" stroke="#a6a6a6" stroke-width="0.45"/>
<ellipse cx="130.2" cy="156.9" rx="3.3" ry="1.9" fill="#e9e9e9" stroke="#a6a6a6" stroke-width="0.45"/>
<ellipse cx="136.8" cy="156.3" rx="3.3" ry="1.9" fill="#e9e9e9" stroke="#a6a6a6" stroke-width="0.45"/>
<ellipse cx="143.4" cy="155.8" rx="3.3" ry="1.9" fill="#e9e9e9" stroke="#a6a6a6" stroke-width="0.45"/>
<ellipse cx="150.0" cy="155.5" rx="3.3" ry="1.9" fill="#e9e9e9" stroke="#a6a6a6" stroke-width="0.45"/>
<ellipse cx="156.6" cy="155.2" rx="3.3" ry="1.9" fill="#e9e9e9" stroke="#a6a6a6" stroke-width="0.45"/>
<ellipse cx="163.2" cy="154.9" rx="3.3" ry="1.9" fill="#e9e9e9" stroke="#a6a6a6" stroke-width="0.45"/>
<ellipse cx="169.8" cy="154.8" rx="3.3" ry="1.9" fill="#e9e9e9" stroke="#a6a6a6" stroke-width="0.45"/>
<ellipse cx="176.4" cy="154.6" rx="3.3" ry="1.9" fill="#e9e9e9" stroke="#a6a6a6" stroke-width="0.45"/>
<ellipse cx="183.0" cy="154.6" rx="3.3" ry="1.9" fill="#e9e9e9" stroke="#a6a6a6" stroke-width="0.45"/>
<ellipse cx="189.6" cy="154.6" rx="3.3" ry="1.9" fill="#e9e9e9" stroke="#a6a6a6" stroke-width="0.45"/>
<ellipse cx="196.2" cy="154.7" rx="3.3" ry="1.9" fill="#e9e9e9" stroke="#a6a6a6" stroke-width="0.45"/>
<ellipse cx="202.8" cy="154.9" rx="3.3" ry="1.9" fill="#e9e9e9" stroke="#a6a6a6" stroke-width="0.45"/>
<ellipse cx="209.4" cy="155.2" rx="3.3" ry="1.9" fill="#e9e9e9" stroke="#a6a6a6" stroke-width="0.45"/>
<ellipse cx="216.0" cy="155.6" rx="3.3" ry="1.9" fill="#e9e9e9" stroke="#a6a6a6" stroke-width="0.45"/>
<ellipse cx="222.6" cy="156.1" rx="3.3" ry="1.9" fill="#e9e9e9" stroke="#a6a6a6" stroke-width="0.45"/>
<ellipse cx="229.2" cy="156.7" rx="3.3" ry="1.9" fill="#e9e9e9" stroke="#a6a6a6" stroke-width="0.45"/>
<ellipse cx="235.8" cy="157.3" rx="3.3" ry="1.9" fill="#e9e9e9" stroke="#a6a6a6" stroke-width="0.45"/>
<ellipse cx="242.4" cy="157.9" rx="3.3" ry="1.9" fill="#e9e9e9" stroke="#a6a6a6" stroke-width="0.45"/>
<ellipse cx="249.0" cy="158.6" rx="3.3" ry="1.9" fill="#e9e9e9" stroke="#a6a6a6" stroke-width="0.45"/>
<ellipse cx="255.6" cy="159.4" rx="3.3" ry="1.9" fill="#e9e9e9" stroke="#a6a6a6" stroke-width="0.45"/>
<ellipse cx="262.2" cy="160.5" rx="3.3" ry="1.9" fill="#e9e9e9" stroke="#a6a6a6" stroke-width="0.45"/>
<ellipse cx="268.8" cy="161.7" rx="3.3" ry="1.9" fill="#e9e9e9" stroke="#a6a6a6" stroke-width="0.45"/>
<ellipse cx="275.4" cy="163.0" rx="3.3" ry="1.9" fill="#e9e9e9" stroke="#a6a6a6" stroke-width="0.45"/>
<ellipse cx="282.0" cy="164.4" rx="3.3" ry="1.9" fill="#e9e9e9" stroke="#a6a6a6" stroke-width="0.45"/>
<ellipse cx="288.6" cy="165.9" rx="3.3" ry="1.9" fill="#e9e9e9" stroke="#a6a6a6" stroke-width="0.45"/>
<ellipse cx="295.2" cy="167.5" rx="3.3" ry="1.9" fill="#e9e9e9" stroke="#a6a6a6" stroke-width="0.45"/>
<ellipse cx="301.8" cy="169.1" rx="3.3" ry="1.9" fill="#e9e9e9" stroke="#a6a6a6" stroke-width="0.45"/>
<ellipse cx="308.4" cy="170.7" rx="3.3" ry="1.9" fill="#e9e9e9" stroke="#a6a6a6" stroke-width="0.45"/>
<ellipse cx="315.0" cy="171.6" rx="3.3" ry="1.9" fill="#e9e9e9" stroke="#a6a6a6" stroke-width="0.45"/>
<ellipse cx="21.3" cy="176.0" rx="3.3" ry="1.9" fill="#e9e9e9" stroke="#a6a6a6" stroke-width="0.45"/>
<ellipse cx="27.9" cy="174.4" rx="3.3" ry="1.9" fill="#e9e9e9" stroke="#a6a6a6" stroke-width="0.45"/>
<ellipse cx="34.5" cy="172.8" rx="3.3" ry="1.9" fill="#e9e9e9" stroke="#a6a6a6" stroke-width="0.45"/>
<ellipse cx="41.1" cy="171.2" rx="3.3" ry="1.9" fill="#e9e9e9" stroke="#a6a6a6" stroke-width="0.45"/>
<ellipse cx="47.7" cy="169.6" rx="3.3" ry="1.9" fill="#e9e9e9" stroke="#a6a6a6" stroke-width="0.45"/>
<ellipse cx="54.3" cy="168.2" rx="3.3" ry="1.9" fill="#e9e9e9" stroke="#a6a6a6" stroke-width="0.45"/>
<ellipse cx="60.9" cy="167.1" rx="3.3" ry="1.9" fill="#e9e9e9" stroke="#a6a6a6" stroke-width="0.45"/>
<ellipse cx="67.5" cy="166.1" rx="3.3" ry="1.9" fill="#e9e9e9" stroke="#a6a6a6" stroke-width="0.45"/>
<ellipse cx="74.1" cy="165.3" rx="3.3" ry="1.9" fill="#e9e9e9" stroke="#a6a6a6" stroke-width="0.45"/>
<ellipse cx="80.7" cy="164.6" rx="3.3" ry="1.9" fill="#e9e9e9" stroke="#a6a6a6" stroke-width="0.45"/>
<ellipse cx="87.3" cy="164.0" rx="3.3" ry="1.9" fill="#e9e9e9" stroke="#a6a6a6" stroke-width="0.45"/>
<ellipse cx="93.9" cy="163.4" rx="3.3" ry="1.9" fill="#e9e9e9" stroke="#a6a6a6" stroke-width="0.45"/>
<ellipse cx="100.5" cy="162.8" rx="3.3" ry="1.9" fill="#e9e9e9" stroke="#a6a6a6" stroke-width="0.45"/>
<ellipse cx="107.1" cy="162.1" rx="3.3" ry="1.9" fill="#e9e9e9" stroke="#a6a6a6" stroke-width="0.45"/>
<ellipse cx="113.7" cy="161.4" rx="3.3" ry="1.9" fill="#e9e9e9" stroke="#a6a6a6" stroke-width="0.45"/>
<ellipse cx="120.3" cy="160.6" rx="3.3" ry="1.9" fill="#e9e9e9" stroke="#a6a6a6" stroke-width="0.45"/>
<ellipse cx="126.9" cy="159.8" rx="3.3" ry="1.9" fill="#e9e9e9" stroke="#a6a6a6" stroke-width="0.45"/>
<ellipse cx="133.5" cy="159.0" rx="3.3" ry="1.9" fill="#e9e9e9" stroke="#a6a6a6" stroke-width="0.45"/>
<ellipse cx="140.1" cy="158.3" rx="3.3" ry="1.9" fill="#e9e9e9" stroke="#a6a6a6" stroke-width="0.45"/>
<ellipse cx="146.7" cy="157.8" rx="3.3" ry="1.9" fill="#e9e9e9" stroke="#a6a6a6" stroke-width="0.45"/>
<ellipse cx="153.3" cy="157.5" rx="3.3" ry="1.9" fill="#e9e9e9" stroke="#a6a6a6" stroke-width="0.45"/>
<ellipse cx="159.9" cy="157.2" rx="3.3" ry="1.9" fill="#e9e9e9" stroke="#a6a6a6" stroke-width="0.45"/>
<ellipse cx="166.5" cy="157.1" rx="3.3" ry="1.9" fill="#e9e9e9" stroke="#a6a6a6" stroke-width="0.45"/>
<ellipse cx="173.1" cy="157.0" rx="3.3" ry="1.9" fill="#e9e9e9" stroke="#a6a6a6" stroke-width="0.45"/>
<ellipse cx="179.7" cy="157.0" rx="3.3" ry="1.9" fill="#e9e9e9" stroke="#a6a6a6" stroke-width="0.45"/>
<ellipse cx="186.3" cy="157.1" rx="3.3" ry="1.9" fill="#e9e9e9" stroke="#a6a6a6" stroke-width="0.45"/>
<ellipse cx="192.9" cy="157.2" rx="3.3" ry="1.9" fill="#e9e9e9" stroke="#a6a6a6" stroke-width="0.45"/>
<ellipse cx="199.5" cy="157.4" rx="3.3" ry="1.9" fill="#e9e9e9" stroke="#a6a6a6" stroke-width="0.45"/>
<ellipse cx="206.1" cy="157.7" rx="3.3" ry="1.9" fill="#e9e9e9" stroke="#a6a6a6" stroke-width="0.45"/>
<ellipse cx="212.7" cy="158.1" rx="3.3" ry="1.9" fill="#e9e9e9" stroke="#a6a6a6" stroke-width="0.45"/>
<ellipse cx="219.3" cy="158.6" rx="3.3" ry="1.9" fill="#e9e9e9" stroke="#a6a6a6" stroke-width="0.45"/>
<ellipse cx="225.9" cy="159.2" rx="3.3" ry="1.9" fill="#e9e9e9" stroke="#a6a6a6" stroke-width="0.45"/>
<ellipse cx="232.5" cy="159.8" rx="3.3" ry="1.9" fill="#e9e9e9" stroke="#a6a6a6" stroke-width="0.45"/>
<ellipse cx="239.1" cy="160.5" rx="3.3" ry="1.9" fill="#e9e9e9" stroke="#a6a6a6" stroke-width="0.45"/>
<ellipse cx="245.7" cy="161.2" rx="3.3" ry="1.9" fill="#e9e9e9" stroke="#a6a6a6" stroke-width="0.45"/>
<ellipse cx="252.3" cy="161.9" rx="3.3" ry="1.9" fill="#e9e9e9" stroke="#a6a6a6" stroke-width="0.45"/>
<ellipse cx="258.9" cy="162.7" rx="3.3" ry="1.9" fill="#e9e9e9" stroke="#a6a6a6" stroke-width="0.45"/>
<ellipse cx="265.5" cy="163.7" rx="3.3" ry="1.9" fill="#e9e9e9" stroke="#a6a6a6" stroke-width="0.45"/>
<ellipse cx="272.1" cy="164.9" rx="3.3" ry="1.9" fill="#e9e9e9" stroke="#a6a6a6" stroke-width="0.45"/>
<ellipse cx="278.7" cy="166.3" rx="3.3" ry="1.9" fill="#e9e9e9" stroke="#a6a6a6" stroke-width="0.45"/>
<ellipse cx="285.3" cy="167.7" rx="3.3" ry="1.9" fill="#e9e9e9" stroke="#a6a6a6" stroke-width="0.45"/>
<ellipse cx="291.9" cy="169.3" rx="3.3" ry="1.9" fill="#e9e9e9" stroke="#a6a6a6" stroke-width="0.45"/>
<ellipse cx="298.5" cy="170.9" rx="3.3" ry="1.9" fill="#e9e9e9" stroke="#a6a6a6" stroke-width="0.45"/>
<ellipse cx="305.1" cy="172.5" rx="3.3" ry="1.9" fill="#e9e9e9" stroke="#a6a6a6" stroke-width="0.45"/>
<ellipse cx="311.7" cy="174.0" rx="3.3" ry="1.9" fill="#e9e9e9" stroke="#a6a6a6" stroke-width="0.45"/>
<ellipse cx="18.0" cy="179.3" rx="3.3" ry="1.9" fill="#e9e9e9" stroke="#a6a6a6" stroke-width="0.45"/>
<ellipse cx="24.6" cy="178.2" rx="3.3" ry="1.9" fill="#e9e9e9" stroke="#a6a6a6" stroke-width="0.45"/>
<ellipse cx="31.2" cy="176.5" rx="3.3" ry="1.9" fill="#e9e9e9" stroke="#a6a6a6" stroke-width="0.45"/>
<ellipse cx="37.8" cy="174.8" rx="3.3" ry="1.9" fill="#e9e9e9" stroke="#a6a6a6" stroke-width="0.45"/>
<ellipse cx="44.4" cy="173.1" rx="3.3" ry="1.9" fill="#e9e9e9" stroke="#a6a6a6" stroke-width="0.45"/>
<ellipse cx="51.0" cy="171.6" rx="3.3" ry="1.9" fill="#e9e9e9" stroke="#a6a6a6" stroke-width="0.45"/>
<ellipse cx="57.6" cy="170.3" rx="3.3" ry="1.9" fill="#e9e9e9" stroke="#a6a6a6" stroke-width="0.45"/>
<ellipse cx="64.2" cy="169.2" rx="3.3" ry="1.9" fill="#e9e9e9" stroke="#a6a6a6" stroke-width="0.45"/>
<ellipse cx="70.8" cy="168.4" rx="3.3" ry="1.9" fill="#e9e9e9" stroke="#a6a6a6" stroke-width="0.45"/>
<ellipse cx="77.4" cy="167.7" rx="3.3" ry="1.9" fill="#e9e9e9" stroke="#a6a6a6" stroke-width="0.45"/>
<ellipse cx="84.0" cy="167.0" rx="3.3" ry="1.9" fill="#e9e9e9" stroke="#a6a6a6" stroke-width="0.45"/>
<ellipse cx="90.6" cy="166.5" rx="3.3" ry="1.9" fill="#e9e9e9" stroke="#a6a6a6" stroke-width="0.45"/>
<ellipse cx="97.2" cy="165.9" rx="3.3" ry="1.9" fill="#e9e9e9" stroke="#a6a6a6" stroke-width="0.45"/>
<ellipse cx="103.8" cy="165.3" rx="3.3" ry="1.9" fill="#e9e9e9" stroke="#a6a6a6" stroke-width="0.45"/>
<ellipse cx="110.4" cy="164.6" rx="3.3" ry="1.9" fill="#e9e9e9" stroke="#a6a6a6" stroke-width="0.45"/>
<ellipse cx="117.0" cy="163.8" rx="3.3" ry="1.9" fill="#e9e9e9" stroke="#a6a6a6" stroke-width="0.45"/>
<ellipse cx="123.6" cy="162.9" rx="3.3" ry="1.9" fill="#e9e9e9" stroke="#a6a6a6" stroke-width="0.45"/>
<ellipse cx="130.2" cy="161.9" rx="3.3" ry="1.9" fill="#e9e9e9" stroke="#a6a6a6" stroke-width="0.45"/>
<ellipse cx="136.8" cy="161.0" rx="3.3" ry="1.9" fill="#e9e9e9" stroke="#a6a6a6" stroke-width="0.45"/>
<ellipse cx="143.4" cy="160.3" rx="3.3" ry="1.9" fill="#e9e9e9" stroke="#a6a6a6" stroke-width="0.45"/>
<ellipse cx="150.0" cy="159.8" rx="3.3" ry="1.9" fill="#e9e9e9" stroke="#a6a6a6" stroke-width="0.45"/>
<ellipse cx="156.6" cy="159.5" rx="3.3" ry="1.9" fill="#e9e9e9" stroke="#a6a6a6" stroke-width="0.45"/>
<ellipse cx="163.2" cy="159.3" rx="3.3" ry="1.9" fill="#e9e9e9" stroke="#a6a6a6" stroke-width="0.45"/>
<ellipse cx="169.8" cy="159.3" rx="3.3" ry="1.9" fill="#e9e9e9" stroke="#a6a6a6" stroke-width="0.45"/>
<ellipse cx="176.4" cy="159.3" rx="3.3" ry="1.9" fill="#e9e9e9" stroke="#a6a6a6" stroke-width="0.45"/>
<ellipse cx="183.0" cy="159.4" rx="3.3" ry="1.9" fill="#e9e9e9" stroke="#a6a6a6" stroke-width="0.45"/>
<ellipse cx="189.6" cy="159.6" rx="3.3" ry="1.9" fill="#e9e9e9" stroke="#a6a6a6" stroke-width="0.45"/>
<ellipse cx="196.2" cy="159.9" rx="3.3" ry="1.9" fill="#e9e9e9" stroke="#a6a6a6" stroke-width="0.45"/>
<ellipse cx="202.8" cy="160.2" rx="3.3" ry="1.9" fill="#e9e9e9" stroke="#a6a6a6" stroke-width="0.45"/>
<ellipse cx="209.4" cy="160.6" rx="3.3" ry="1.9" fill="#e9e9e9" stroke="#a6a6a6" stroke-width="0.45"/>
<ellipse cx="216.0" cy="161.1" rx="3.3" ry="1.9" fill="#e9e9e9" stroke="#a6a6a6" stroke-width="0.45"/>
<ellipse cx="222.6" cy="161.7" rx="3.3" ry="1.9" fill="#e9e9e9" stroke="#a6a6a6" stroke-width="0.45"/>
<ellipse cx="229.2" cy="162.3" rx="3.3" ry="1.9" fill="#e9e9e9" stroke="#a6a6a6" stroke-width="0.45"/>
<ellipse cx="235.8" cy="163.0" rx="3.3" ry="1.9" fill="#e9e9e9" stroke="#a6a6a6" stroke-width="0.45"/>
<ellipse cx="242.4" cy="163.7" rx="3.3" ry="1.9" fill="#e9e9e9" stroke="#a6a6a6" stroke-width="0.45"/>
<ellipse cx="249.0" cy="164.4" rx="3.3" ry="1.9" fill="#e9e9e9" stroke="#a6a6a6" stroke-width="0.45"/>
<ellipse cx="255.6" cy="165.1" rx="3.3" ry="1.9" fill="#e9e9e9" stroke="#a6a6a6" stroke-width="0.45"/>
<ellipse cx="262.2" cy="166.0" rx="3.3" ry="1.9" fill="#e9e9e9" stroke="#a6a6a6" stroke-width="0.45"/>
<ellipse cx="268.8" cy="167.0" rx="3.3" ry="1.9" fill="#e9e9e9" stroke="#a6a6a6" stroke-width="0.45"/>
<ellipse cx="275.4" cy="168.2" rx="3.3" ry="1.9" fill="#e9e9e9" stroke="#a6a6a6" stroke-width="0.45"/>
<ellipse cx="282.0" cy="169.6" rx="3.3" ry="1.9" fill="#e9e9e9" stroke="#a6a6a6" stroke-width="0.45"/>
<ellipse cx="288.6" cy="171.0" rx="3.3" ry="1.9" fill="#e9e9e9" stroke="#a6a6a6" stroke-width="0.45"/>
<ellipse cx="295.2" cy="172.6" rx="3.3" ry="1.9" fill="#e9e9e9" stroke="#a6a6a6" stroke-width="0.45"/>
<ellipse cx="301.8" cy="174.2" rx="3.3" ry="1.9" fill="#e9e9e9" stroke="#a6a6a6" stroke-width="0.45"/>
<ellipse cx="308.4" cy="175.8" rx="3.3" ry="1.9" fill="#e9e9e9" stroke="#a6a6a6" stroke-width="0.45"/>
<ellipse cx="315.0" cy="176.6" rx="3.3" ry="1.9" fill="#e9e9e9" stroke="#a6a6a6" stroke-width="0.45"/>
<ellipse cx="21.3" cy="182.1" rx="3.3" ry="1.9" fill="#e9e9e9" stroke="#a6a6a6" stroke-width="0.45"/>
<ellipse cx="27.9" cy="180.4" rx="3.3" ry="1.9" fill="#e9e9e9" stroke="#a6a6a6" stroke-width="0.45"/>
<ellipse cx="34.5" cy="178.6" rx="3.3" ry="1.9" fill="#e9e9e9" stroke="#a6a6a6" stroke-width="0.45"/>
<ellipse cx="41.1" cy="176.8" rx="3.3" ry="1.9" fill="#e9e9e9" stroke="#a6a6a6" stroke-width="0.45"/>
<ellipse cx="47.7" cy="175.1" rx="3.3" ry="1.9" fill="#e9e9e9" stroke="#a6a6a6" stroke-width="0.45"/>
<ellipse cx="54.3" cy="173.6" rx="3.3" ry="1.9" fill="#e9e9e9" stroke="#a6a6a6" stroke-width="0.45"/>
<ellipse cx="60.9" cy="172.3" rx="3.3" ry="1.9" fill="#e9e9e9" stroke="#a6a6a6" stroke-width="0.45"/>
<ellipse cx="67.5" cy="171.4" rx="3.3" ry="1.9" fill="#e9e9e9" stroke="#a6a6a6" stroke-width="0.45"/>
<ellipse cx="74.1" cy="170.7" rx="3.3" ry="1.9" fill="#e9e9e9" stroke="#a6a6a6" stroke-width="0.45"/>
<ellipse cx="80.7" cy="170.1" rx="3.3" ry="1.9" fill="#e9e9e9" stroke="#a6a6a6" stroke-width="0.45"/>
<ellipse cx="87.3" cy="169.5" rx="3.3" ry="1.9" fill="#e9e9e9" stroke="#a6a6a6" stroke-width="0.45"/>
<ellipse cx="93.9" cy="169.1" rx="3.3" ry="1.9" fill="#e9e9e9" stroke="#a6a6a6" stroke-width="0.45"/>
<ellipse cx="100.5" cy="168.5" rx="3.3" ry="1.9" fill="#e9e9e9" stroke="#a6a6a6" stroke-width="0.45"/>
<ellipse cx="107.1" cy="167.9" rx="3.3" ry="1.9" fill="#e9e9e9" stroke="#a6a6a6" stroke-width="0.45"/>
<ellipse cx="113.7" cy="167.1" rx="3.3" ry="1.9" fill="#e9e9e9" stroke="#a6a6a6" stroke-width="0.45"/>
<ellipse cx="120.3" cy="166.1" rx="3.3" ry="1.9" fill="#e9e9e9" stroke="#a6a6a6" stroke-width="0.45"/>
<ellipse cx="126.9" cy="165.0" rx="3.3" ry="1.9" fill="#e9e9e9" stroke="#a6a6a6" stroke-width="0.45"/>
<ellipse cx="133.5" cy="163.9" rx="3.3" ry="1.9" fill="#e9e9e9" stroke="#a6a6a6" stroke-width="0.45"/>
<ellipse cx="140.1" cy="162.9" rx="3.3" ry="1.9" fill="#e9e9e9" stroke="#a6a6a6" stroke-width="0.45"/>
<ellipse cx="146.7" cy="162.2" rx="3.3" ry="1.9" fill="#e9e9e9" stroke="#a6a6a6" stroke-width="0.45"/>
<ellipse cx="153.3" cy="161.8" rx="3.3" ry="1.9" fill="#e9e9e9" stroke="#a6a6a6" stroke-width="0.45"/>
<ellipse cx="159.9" cy="161.6" rx="3.3" ry="1.9" fill="#e9e9e9" stroke="#a6a6a6" stroke-width="0.45"/>
<ellipse cx="166.5" cy="161.5" rx="3.3" ry="1.9" fill="#e9e9e9" stroke="#a6a6a6" stroke-width="0.45"/>
<ellipse cx="173.1" cy="161.6" rx="3.3" ry="1.9" fill="#e9e9e9" stroke="#a6a6a6" stroke-width="0.45"/>
<ellipse cx="179.7" cy="161.8" rx="3.3" ry="1.9" fill="#e9e9e9" stroke="#a6a6a6" stroke-width="0.45"/>
<ellipse cx="186.3" cy="162.0" rx="3.3" ry="1.9" fill="#e9e9e9" stroke="#a6a6a6" stroke-width="0.45"/>
<ellipse cx="192.9" cy="162.3" rx="3.3" ry="1.9" fill="#e9e9e9" stroke="#a6a6a6" stroke-width="0.45"/>
<ellipse cx="199.5" cy="162.7" rx="3.3" ry="1.9" fill="#e9e9e9" stroke="#a6a6a6" stroke-width="0.45"/>
<ellipse cx="206.1" cy="163.1" rx="3.3" ry="1.9" fill="#e9e9e9" stroke="#a6a6a6" stroke-width="0.45"/>
<ellipse cx="212.7" cy="163.6" rx="3.3" ry="1.9" fill="#e9e9e9" stroke="#a6a6a6" stroke-width="0.45"/>
<ellipse cx="219.3" cy="164.1" rx="3.3" ry="1.9" fill="#e9e9e9" stroke="#a6a6a6" stroke-width="0.45"/>
<ellipse cx="225.9" cy="164.8" rx="3.3" ry="1.9" fill="#e9e9e9" stroke="#a6a6a6" stroke-width="0.45"/>
<ellipse cx="232.5" cy="165.5" rx="3.3" ry="1.9" fill="#e9e9e9" stroke="#a6a6a6" stroke-width="0.45"/>
<ellipse cx="239.1" cy="166.2" rx="3.3" ry="1.9" fill="#e9e9e9" stroke="#a6a6a6" stroke-width="0.45"/>
<ellipse cx="245.7" cy="166.9" rx="3.3" ry="1.9" fill="#e9e9e9" stroke="#a6a6a6" stroke-width="0.45"/>
<ellipse cx="252.3" cy="167.6" rx="3.3" ry="1.9" fill="#e9e9e9" stroke="#a6a6a6" stroke-width="0.45"/>
<ellipse cx="258.9" cy="168.3" rx="3.3" ry="1.9" fill="#e9e9e9" stroke="#a6a6a6" stroke-width="0.45"/>
<ellipse cx="265.5" cy="169.2" rx="3.3" ry="1.9" fill="#e9e9e9" stroke="#a6a6a6" stroke-width="0.45"/>
<ellipse cx="272.1" cy="170.2" rx="3.3" ry="1.9" fill="#e9e9e9" stroke="#a6a6a6" stroke-width="0.45"/>
<ellipse cx="278.7" cy="171.4" rx="3.3" ry="1.9" fill="#e9e9e9" stroke="#a6a6a6" stroke-width="0.45"/>
<ellipse cx="285.3" cy="172.8" rx="3.3" ry="1.9" fill="#e9e9e9" stroke="#a6a6a6" stroke-width="0.45"/>
<ellipse cx="291.9" cy="174.4" rx="3.3" ry="1.9" fill="#e9e9e9" stroke="#a6a6a6" stroke-width="0.45"/>
<ellipse cx="298.5" cy="175.9" rx="3.3" ry="1.9" fill="#e9e9e9" stroke="#a6a6a6" stroke-width="0.45"/>
<ellipse cx="305.1" cy="177.5" rx="3.3" ry="1.9" fill="#e9e9e9" stroke="#a6a6a6" stroke-width="0.45"/>
<ellipse cx="311.7" cy="179.1" rx="3.3" ry="1.9" fill="#e9e9e9" stroke="#a6a6a6" stroke-width="0.45"/>
<ellipse cx="19.6" cy="205.6" rx="3.3" ry="1.9" fill="#e9e9e9" stroke="#a6a6a6" stroke-width="0.45"/>
<ellipse cx="26.2" cy="203.6" rx="3.3" ry="1.9" fill="#e9e9e9" stroke="#a6a6a6" stroke-width="0.45"/>
<ellipse cx="32.9" cy="201.5" rx="3.3" ry="1.9" fill="#e9e9e9" stroke="#a6a6a6" stroke-width="0.45"/>
<ellipse cx="39.5" cy="199.3" rx="3.3" ry="1.9" fill="#e9e9e9" stroke="#a6a6a6" stroke-width="0.45"/>
<ellipse cx="46.1" cy="197.3" rx="3.3" ry="1.9" fill="#e9e9e9" stroke="#a6a6a6" stroke-width="0.45"/>
<ellipse cx="52.7" cy="195.4" rx="3.3" ry="1.9" fill="#e9e9e9" stroke="#a6a6a6" stroke-width="0.45"/>
<ellipse cx="59.3" cy="193.8" rx="3.3" ry="1.9" fill="#e9e9e9" stroke="#a6a6a6" stroke-width="0.45"/>
<ellipse cx="65.9" cy="192.4" rx="3.3" ry="1.9" fill="#e9e9e9" stroke="#a6a6a6" stroke-width="0.45"/>
<ellipse cx="72.5" cy="191.3" rx="3.3" ry="1.9" fill="#e9e9e9" stroke="#a6a6a6" stroke-width="0.45"/>
<ellipse cx="79.1" cy="190.2" rx="3.3" ry="1.9" fill="#e9e9e9" stroke="#a6a6a6" stroke-width="0.45"/>
<ellipse cx="85.7" cy="189.3" rx="3.3" ry="1.9" fill="#e9e9e9" stroke="#a6a6a6" stroke-width="0.45"/>
<ellipse cx="92.3" cy="188.4" rx="3.3" ry="1.9" fill="#e9e9e9" stroke="#a6a6a6" stroke-width="0.45"/>
<ellipse cx="98.9" cy="187.6" rx="3.3" ry="1.9" fill="#e9e9e9" stroke="#a6a6a6" stroke-width="0.45"/>
<ellipse cx="105.5" cy="186.7" rx="3.3" ry="1.9" fill="#e9e9e9" stroke="#a6a6a6" stroke-width="0.45"/>
<ellipse cx="112.1" cy="185.8" rx="3.3" ry="1.9" fill="#e9e9e9" stroke="#a6a6a6" stroke-width="0.45"/>
<ellipse cx="118.7" cy="184.8" rx="3.3" ry="1.9" fill="#e9e9e9" stroke="#a6a6a6" stroke-width="0.45"/>
<ellipse cx="125.3" cy="183.8" rx="3.3" ry="1.9" fill="#e9e9e9" stroke="#a6a6a6" stroke-width="0.45"/>
<ellipse cx="131.9" cy="182.9" rx="3.3" ry="1.9" fill="#e9e9e9" stroke="#a6a6a6" stroke-width="0.45"/>
<ellipse cx="138.5" cy="182.1" rx="3.3" ry="1.9" fill="#e9e9e9" stroke="#a6a6a6" stroke-width="0.45"/>
<ellipse cx="145.1" cy="181.4" rx="3.3" ry="1.9" fill="#e9e9e9" stroke="#a6a6a6" stroke-width="0.45"/>
<ellipse cx="151.7" cy="181.0" rx="3.3" ry="1.9" fill="#e9e9e9" stroke="#a6a6a6" stroke-width="0.45"/>
<ellipse cx="158.3" cy="180.9" rx="3.3" ry="1.9" fill="#e9e9e9" stroke="#a6a6a6" stroke-width="0.45"/>
<ellipse cx="164.9" cy="180.8" rx="3.3" ry="1.9" fill="#e9e9e9" stroke="#a6a6a6" stroke-width="0.45"/>
<ellipse cx="171.5" cy="180.9" rx="3.3" ry="1.9" fill="#e9e9e9" stroke="#a6a6a6" stroke-width="0.45"/>
<ellipse cx="178.1" cy="181.1" rx="3.3" ry="1.9" fill="#e9e9e9" stroke="#a6a6a6" stroke-width="0.45"/>
<ellipse cx="184.7" cy="181.3" rx="3.3" ry="1.9" fill="#e9e9e9" stroke="#a6a6a6" stroke-width="0.45"/>
<ellipse cx="191.3" cy="181.6" rx="3.3" ry="1.9" fill="#e9e9e9" stroke="#a6a6a6" stroke-width="0.45"/>
<ellipse cx="197.9" cy="181.9" rx="3.3" ry="1.9" fill="#e9e9e9" stroke="#a6a6a6" stroke-width="0.45"/>
<ellipse cx="204.5" cy="182.2" rx="3.3" ry="1.9" fill="#e9e9e9" stroke="#a6a6a6" stroke-width="0.45"/>
<ellipse cx="211.1" cy="182.6" rx="3.3" ry="1.9" fill="#e9e9e9" stroke="#a6a6a6" stroke-width="0.45"/>
<ellipse cx="217.7" cy="183.0" rx="3.3" ry="1.9" fill="#e9e9e9" stroke="#a6a6a6" stroke-width="0.45"/>
<ellipse cx="224.3" cy="183.5" rx="3.3" ry="1.9" fill="#e9e9e9" stroke="#a6a6a6" stroke-width="0.45"/>
<ellipse cx="230.9" cy="184.0" rx="3.3" ry="1.9" fill="#e9e9e9" stroke="#a6a6a6" stroke-width="0.45"/>
<ellipse cx="237.5" cy="184.6" rx="3.3" ry="1.9" fill="#e9e9e9" stroke="#a6a6a6" stroke-width="0.45"/>
<ellipse cx="244.1" cy="185.2" rx="3.3" ry="1.9" fill="#e9e9e9" stroke="#a6a6a6" stroke-width="0.45"/>
<ellipse cx="250.7" cy="186.0" rx="3.3" ry="1.9" fill="#e9e9e9" stroke="#a6a6a6" stroke-width="0.45"/>
<ellipse cx="257.3" cy="187.1" rx="3.3" ry="1.9" fill="#e9e9e9" stroke="#a6a6a6" stroke-width="0.45"/>
<ellipse cx="263.9" cy="188.5" rx="3.3" ry="1.9" fill="#e9e9e9" stroke="#a6a6a6" stroke-width="0.45"/>
<ellipse cx="270.5" cy="190.0" rx="3.3" ry="1.9" fill="#e9e9e9" stroke="#a6a6a6" stroke-width="0.45"/>
<ellipse cx="277.1" cy="191.5" rx="3.3" ry="1.9" fill="#e9e9e9" stroke="#a6a6a6" stroke-width="0.45"/>
<ellipse cx="283.7" cy="192.9" rx="3.3" ry="1.9" fill="#e9e9e9" stroke="#a6a6a6" stroke-width="0.45"/>
<ellipse cx="290.3" cy="194.4" rx="3.3" ry="1.9" fill="#e9e9e9" stroke="#a6a6a6" stroke-width="0.45"/>
<ellipse cx="296.9" cy="195.9" rx="3.3" ry="1.9" fill="#e9e9e9" stroke="#a6a6a6" stroke-width="0.45"/>
<ellipse cx="303.5" cy="197.4" rx="3.3" ry="1.9" fill="#e9e9e9" stroke="#a6a6a6" stroke-width="0.45"/>
<ellipse cx="310.1" cy="198.9" rx="3.3" ry="1.9" fill="#e9e9e9" stroke="#a6a6a6" stroke-width="0.45"/>
<ellipse cx="22.9" cy="205.8" rx="3.3" ry="1.9" fill="#e9e9e9" stroke="#a6a6a6" stroke-width="0.45"/>
<ellipse cx="29.5" cy="203.7" rx="3.3" ry="1.9" fill="#e9e9e9" stroke="#a6a6a6" stroke-width="0.45"/>
<ellipse cx="36.1" cy="201.6" rx="3.3" ry="1.9" fill="#e9e9e9" stroke="#a6a6a6" stroke-width="0.45"/>
<ellipse cx="42.7" cy="199.5" rx="3.3" ry="1.9" fill="#e9e9e9" stroke="#a6a6a6" stroke-width="0.45"/>
<ellipse cx="49.3" cy="197.5" rx="3.3" ry="1.9" fill="#e9e9e9" stroke="#a6a6a6" stroke-width="0.45"/>
<ellipse cx="55.9" cy="195.8" rx="3.3" ry="1.9" fill="#e9e9e9" stroke="#a6a6a6" stroke-width="0.45"/>
<ellipse cx="62.5" cy="194.3" rx="3.3" ry="1.9" fill="#e9e9e9" stroke="#a6a6a6" stroke-width="0.45"/>
<ellipse cx="69.1" cy="193.1" rx="3.3" ry="1.9" fill="#e9e9e9" stroke="#a6a6a6" stroke-width="0.45"/>
<ellipse cx="75.7" cy="192.0" rx="3.3" ry="1.9" fill="#e9e9e9" stroke="#a6a6a6" stroke-width="0.45"/>
<ellipse cx="82.3" cy="191.1" rx="3.3" ry="1.9" fill="#e9e9e9" stroke="#a6a6a6" stroke-width="0.45"/>
<ellipse cx="88.9" cy="190.2" rx="3.3" ry="1.9" fill="#e9e9e9" stroke="#a6a6a6" stroke-width="0.45"/>
<ellipse cx="95.5" cy="189.4" rx="3.3" ry="1.9" fill="#e9e9e9" stroke="#a6a6a6" stroke-width="0.45"/>
<ellipse cx="102.1" cy="188.6" rx="3.3" ry="1.9" fill="#e9e9e9" stroke="#a6a6a6" stroke-width="0.45"/>
<ellipse cx="108.7" cy="187.7" rx="3.3" ry="1.9" fill="#e9e9e9" stroke="#a6a6a6" stroke-width="0.45"/>
<ellipse cx="115.3" cy="186.8" rx="3.3" ry="1.9" fill="#e9e9e9" stroke="#a6a6a6" stroke-width="0.45"/>
<ellipse cx="121.9" cy="185.8" rx="3.3" ry="1.9" fill="#e9e9e9" stroke="#a6a6a6" stroke-width="0.45"/>
<ellipse cx="128.5" cy="184.8" rx="3.3" ry="1.9" fill="#e9e9e9" stroke="#a6a6a6" stroke-width="0.45"/>
<ellipse cx="135.1" cy="183.9" rx="3.3" ry="1.9" fill="#e9e9e9" stroke="#a6a6a6" stroke-width="0.45"/>
<ellipse cx="141.7" cy="183.1" rx="3.3" ry="1.9" fill="#e9e9e9" stroke="#a6a6a6" stroke-width="0.45"/>
<ellipse cx="148.3" cy="182.6" rx="3.3" ry="1.9" fill="#e9e9e9" stroke="#a6a6a6" stroke-width="0.45"/>
<ellipse cx="154.9" cy="182.3" rx="3.3" ry="1.9" fill="#e9e9e9" stroke="#a6a6a6" stroke-width="0.45"/>
<ellipse cx="161.5" cy="182.2" rx="3.3" ry="1.9" fill="#e9e9e9" stroke="#a6a6a6" stroke-width="0.45"/>
<ellipse cx="168.1" cy="182.3" rx="3.3" ry="1.9" fill="#e9e9e9" stroke="#a6a6a6" stroke-width="0.45"/>
<ellipse cx="174.7" cy="182.4" rx="3.3" ry="1.9" fill="#e9e9e9" stroke="#a6a6a6" stroke-width="0.45"/>
<ellipse cx="181.3" cy="182.6" rx="3.3" ry="1.9" fill="#e9e9e9" stroke="#a6a6a6" stroke-width="0.45"/>
<ellipse cx="187.9" cy="182.9" rx="3.3" ry="1.9" fill="#e9e9e9" stroke="#a6a6a6" stroke-width="0.45"/>
<ellipse cx="194.5" cy="183.2" rx="3.3" ry="1.9" fill="#e9e9e9" stroke="#a6a6a6" stroke-width="0.45"/>
<ellipse cx="201.1" cy="183.5" rx="3.3" ry="1.9" fill="#e9e9e9" stroke="#a6a6a6" stroke-width="0.45"/>
<ellipse cx="207.7" cy="183.9" rx="3.3" ry="1.9" fill="#e9e9e9" stroke="#a6a6a6" stroke-width="0.45"/>
<ellipse cx="214.3" cy="184.3" rx="3.3" ry="1.9" fill="#e9e9e9" stroke="#a6a6a6" stroke-width="0.45"/>
<ellipse cx="220.9" cy="184.7" rx="3.3" ry="1.9" fill="#e9e9e9" stroke="#a6a6a6" stroke-width="0.45"/>
<ellipse cx="227.5" cy="185.2" rx="3.3" ry="1.9" fill="#e9e9e9" stroke="#a6a6a6" stroke-width="0.45"/>
<ellipse cx="234.1" cy="185.8" rx="3.3" ry="1.9" fill="#e9e9e9" stroke="#a6a6a6" stroke-width="0.45"/>
<ellipse cx="240.7" cy="186.4" rx="3.3" ry="1.9" fill="#e9e9e9" stroke="#a6a6a6" stroke-width="0.45"/>
<ellipse cx="247.3" cy="187.1" rx="3.3" ry="1.9" fill="#e9e9e9" stroke="#a6a6a6" stroke-width="0.45"/>
<ellipse cx="253.9" cy="187.9" rx="3.3" ry="1.9" fill="#e9e9e9" stroke="#a6a6a6" stroke-width="0.45"/>
<ellipse cx="260.5" cy="189.0" rx="3.3" ry="1.9" fill="#e9e9e9" stroke="#a6a6a6" stroke-width="0.45"/>
<ellipse cx="267.1" cy="190.4" rx="3.3" ry="1.9" fill="#e9e9e9" stroke="#a6a6a6" stroke-width="0.45"/>
<ellipse cx="273.7" cy="191.8" rx="3.3" ry="1.9" fill="#e9e9e9" stroke="#a6a6a6" stroke-width="0.45"/>
<ellipse cx="280.3" cy="193.3" rx="3.3" ry="1.9" fill="#e9e9e9" stroke="#a6a6a6" stroke-width="0.45"/>
<ellipse cx="286.9" cy="194.9" rx="3.3" ry="1.9" fill="#e9e9e9" stroke="#a6a6a6" stroke-width="0.45"/>
<ellipse cx="293.5" cy="196.5" rx="3.3" ry="1.9" fill="#e9e9e9" stroke="#a6a6a6" stroke-width="0.45"/>
<ellipse cx="300.1" cy="198.2" rx="3.3" ry="1.9" fill="#e9e9e9" stroke="#a6a6a6" stroke-width="0.45"/>
<ellipse cx="306.7" cy="199.8" rx="3.3" ry="1.9" fill="#e9e9e9" stroke="#a6a6a6" stroke-width="0.45"/>
<ellipse cx="313.3" cy="201.1" rx="3.3" ry="1.9" fill="#e9e9e9" stroke="#a6a6a6" stroke-width="0.45"/>
<ellipse cx="19.6" cy="207.8" rx="3.3" ry="1.9" fill="#e9e9e9" stroke="#a6a6a6" stroke-width="0.45"/>
<ellipse cx="26.2" cy="205.9" rx="3.3" ry="1.9" fill="#e9e9e9" stroke="#a6a6a6" stroke-width="0.45"/>
<ellipse cx="32.9" cy="203.8" rx="3.3" ry="1.9" fill="#e9e9e9" stroke="#a6a6a6" stroke-width="0.45"/>
<ellipse cx="39.5" cy="201.7" rx="3.3" ry="1.9" fill="#e9e9e9" stroke="#a6a6a6" stroke-width="0.45"/>
<ellipse cx="46.1" cy="199.7" rx="3.3" ry="1.9" fill="#e9e9e9" stroke="#a6a6a6" stroke-width="0.45"/>
<ellipse cx="52.7" cy="197.8" rx="3.3" ry="1.9" fill="#e9e9e9" stroke="#a6a6a6" stroke-width="0.45"/>
<ellipse cx="59.3" cy="196.2" rx="3.3" ry="1.9" fill="#e9e9e9" stroke="#a6a6a6" stroke-width="0.45"/>
<ellipse cx="65.9" cy="194.9" rx="3.3" ry="1.9" fill="#e9e9e9" stroke="#a6a6a6" stroke-width="0.45"/>
<ellipse cx="72.5" cy="193.8" rx="3.3" ry="1.9" fill="#e9e9e9" stroke="#a6a6a6" stroke-width="0.45"/>
<ellipse cx="79.1" cy="192.9" rx="3.3" ry="1.9" fill="#e9e9e9" stroke="#a6a6a6" stroke-width="0.45"/>
<ellipse cx="85.7" cy="192.0" rx="3.3" ry="1.9" fill="#e9e9e9" stroke="#a6a6a6" stroke-width="0.45"/>
<ellipse cx="92.3" cy="191.2" rx="3.3" ry="1.9" fill="#e9e9e9" stroke="#a6a6a6" stroke-width="0.45"/>
<ellipse cx="98.9" cy="190.4" rx="3.3" ry="1.9" fill="#e9e9e9" stroke="#a6a6a6" stroke-width="0.45"/>
<ellipse cx="105.5" cy="189.6" rx="3.3" ry="1.9" fill="#e9e9e9" stroke="#a6a6a6" stroke-width="0.45"/>
<ellipse cx="112.1" cy="188.7" rx="3.3" ry="1.9" fill="#e9e9e9" stroke="#a6a6a6" stroke-width="0.45"/>
<ellipse cx="118.7" cy="187.8" rx="3.3" ry="1.9" fill="#e9e9e9" stroke="#a6a6a6" stroke-width="0.45"/>
<ellipse cx="125.3" cy="186.7" rx="3.3" ry="1.9" fill="#e9e9e9" stroke="#a6a6a6" stroke-width="0.45"/>
<ellipse cx="131.9" cy="185.7" rx="3.3" ry="1.9" fill="#e9e9e9" stroke="#a6a6a6" stroke-width="0.45"/>
<ellipse cx="138.5" cy="184.9" rx="3.3" ry="1.9" fill="#e9e9e9" stroke="#a6a6a6" stroke-width="0.45"/>
<ellipse cx="145.1" cy="184.2" rx="3.3" ry="1.9" fill="#e9e9e9" stroke="#a6a6a6" stroke-width="0.45"/>
<ellipse cx="151.7" cy="183.8" rx="3.3" ry="1.9" fill="#e9e9e9" stroke="#a6a6a6" stroke-width="0.45"/>
<ellipse cx="158.3" cy="183.7" rx="3.3" ry="1.9" fill="#e9e9e9" stroke="#a6a6a6" stroke-width="0.45"/>
<ellipse cx="164.9" cy="183.6" rx="3.3" ry="1.9" fill="#e9e9e9" stroke="#a6a6a6" stroke-width="0.45"/>
<ellipse cx="171.5" cy="183.7" rx="3.3" ry="1.9" fill="#e9e9e9" stroke="#a6a6a6" stroke-width="0.45"/>
<ellipse cx="178.1" cy="183.9" rx="3.3" ry="1.9" fill="#e9e9e9" stroke="#a6a6a6" stroke-width="0.45"/>
<ellipse cx="184.7" cy="184.2" rx="3.3" ry="1.9" fill="#e9e9e9" stroke="#a6a6a6" stroke-width="0.45"/>
<ellipse cx="191.3" cy="184.5" rx="3.3" ry="1.9" fill="#e9e9e9" stroke="#a6a6a6" stroke-width="0.45"/>
<ellipse cx="197.9" cy="184.8" rx="3.3" ry="1.9" fill="#e9e9e9" stroke="#a6a6a6" stroke-width="0.45"/>
<ellipse cx="204.5" cy="185.2" rx="3.3" ry="1.9" fill="#e9e9e9" stroke="#a6a6a6" stroke-width="0.45"/>
<ellipse cx="211.1" cy="185.5" rx="3.3" ry="1.9" fill="#e9e9e9" stroke="#a6a6a6" stroke-width="0.45"/>
<ellipse cx="217.7" cy="186.0" rx="3.3" ry="1.9" fill="#e9e9e9" stroke="#a6a6a6" stroke-width="0.45"/>
<ellipse cx="224.3" cy="186.4" rx="3.3" ry="1.9" fill="#e9e9e9" stroke="#a6a6a6" stroke-width="0.45"/>
<ellipse cx="230.9" cy="187.0" rx="3.3" ry="1.9" fill="#e9e9e9" stroke="#a6a6a6" stroke-width="0.45"/>
<ellipse cx="237.5" cy="187.6" rx="3.3" ry="1.9" fill="#e9e9e9" stroke="#a6a6a6" stroke-width="0.45"/>
<ellipse cx="244.1" cy="188.2" rx="3.3" ry="1.9" fill="#e9e9e9" stroke="#a6a6a6" stroke-width="0.45"/>
<ellipse cx="250.7" cy="188.9" rx="3.3" ry="1.9" fill="#e9e9e9" stroke="#a6a6a6" stroke-width="0.45"/>
<ellipse cx="257.3" cy="189.8" rx="3.3" ry="1.9" fill="#e9e9e9" stroke="#a6a6a6" stroke-width="0.45"/>
<ellipse cx="263.9" cy="190.9" rx="3.3" ry="1.9" fill="#e9e9e9" stroke="#a6a6a6" stroke-width="0.45"/>
<ellipse cx="270.5" cy="192.2" rx="3.3" ry="1.9" fill="#e9e9e9" stroke="#a6a6a6" stroke-width="0.45"/>
<ellipse cx="277.1" cy="193.7" rx="3.3" ry="1.9" fill="#e9e9e9" stroke="#a6a6a6" stroke-width="0.45"/>
<ellipse cx="283.7" cy="195.3" rx="3.3" ry="1.9" fill="#e9e9e9" stroke="#a6a6a6" stroke-width="0.45"/>
<ellipse cx="290.3" cy="197.0" rx="3.3" ry="1.9" fill="#e9e9e9" stroke="#a6a6a6" stroke-width="0.45"/>
<ellipse cx="296.9" cy="198.8" rx="3.3" ry="1.9" fill="#e9e9e9" stroke="#a6a6a6" stroke-width="0.45"/>
<ellipse cx="303.5" cy="200.6" rx="3.3" ry="1.9" fill="#e9e9e9" stroke="#a6a6a6" stroke-width="0.45"/>
<ellipse cx="310.1" cy="202.4" rx="3.3" ry="1.9" fill="#e9e9e9" stroke="#a6a6a6" stroke-width="0.45"/>
<ellipse cx="22.9" cy="208.1" rx="3.3" ry="1.9" fill="#e9e9e9" stroke="#a6a6a6" stroke-width="0.45"/>
<ellipse cx="29.5" cy="206.0" rx="3.3" ry="1.9" fill="#e9e9e9" stroke="#a6a6a6" stroke-width="0.45"/>
<ellipse cx="36.1" cy="203.9" rx="3.3" ry="1.9" fill="#e9e9e9" stroke="#a6a6a6" stroke-width="0.45"/>
<ellipse cx="42.7" cy="201.8" rx="3.3" ry="1.9" fill="#e9e9e9" stroke="#a6a6a6" stroke-width="0.45"/>
<ellipse cx="49.3" cy="199.9" rx="3.3" ry="1.9" fill="#e9e9e9" stroke="#a6a6a6" stroke-width="0.45"/>
<ellipse cx="55.9" cy="198.2" rx="3.3" ry="1.9" fill="#e9e9e9" stroke="#a6a6a6" stroke-width="0.45"/>
<ellipse cx="62.5" cy="196.8" rx="3.3" ry="1.9" fill="#e9e9e9" stroke="#a6a6a6" stroke-width="0.45"/>
<ellipse cx="69.1" cy="195.6" rx="3.3" ry="1.9" fill="#e9e9e9" stroke="#a6a6a6" stroke-width="0.45"/>
<ellipse cx="75.7" cy="194.6" rx="3.3" ry="1.9" fill="#e9e9e9" stroke="#a6a6a6" stroke-width="0.45"/>
<ellipse cx="82.3" cy="193.8" rx="3.3" ry="1.9" fill="#e9e9e9" stroke="#a6a6a6" stroke-width="0.45"/>
<ellipse cx="88.9" cy="193.0" rx="3.3" ry="1.9" fill="#e9e9e9" stroke="#a6a6a6" stroke-width="0.45"/>
<ellipse cx="95.5" cy="192.2" rx="3.3" ry="1.9" fill="#e9e9e9" stroke="#a6a6a6" stroke-width="0.45"/>
<ellipse cx="102.1" cy="191.5" rx="3.3" ry="1.9" fill="#e9e9e9" stroke="#a6a6a6" stroke-width="0.45"/>
<ellipse cx="108.7" cy="190.6" rx="3.3" ry="1.9" fill="#e9e9e9" stroke="#a6a6a6" stroke-width="0.45"/>
<ellipse cx="115.3" cy="189.7" rx="3.3" ry="1.9" fill="#e9e9e9" stroke="#a6a6a6" stroke-width="0.45"/>
<ellipse cx="121.9" cy="188.7" rx="3.3" ry="1.9" fill="#e9e9e9" stroke="#a6a6a6" stroke-width="0.45"/>
<ellipse cx="128.5" cy="187.7" rx="3.3" ry="1.9" fill="#e9e9e9" stroke="#a6a6a6" stroke-width="0.45"/>
<ellipse cx="135.1" cy="186.7" rx="3.3" ry="1.9" fill="#e9e9e9" stroke="#a6a6a6" stroke-width="0.45"/>
<ellipse cx="141.7" cy="185.9" rx="3.3" ry="1.9" fill="#e9e9e9" stroke="#a6a6a6" stroke-width="0.45"/>
<ellipse cx="148.3" cy="185.4" rx="3.3" ry="1.9" fill="#e9e9e9" stroke="#a6a6a6" stroke-width="0.45"/>
<ellipse cx="154.9" cy="185.1" rx="3.3" ry="1.9" fill="#e9e9e9" stroke="#a6a6a6" stroke-width="0.45"/>
<ellipse cx="161.5" cy="185.0" rx="3.3" ry="1.9" fill="#e9e9e9" stroke="#a6a6a6" stroke-width="0.45"/>
<ellipse cx="168.1" cy="185.1" rx="3.3" ry="1.9" fill="#e9e9e9" stroke="#a6a6a6" stroke-width="0.45"/>
<ellipse cx="174.7" cy="185.2" rx="3.3" ry="1.9" fill="#e9e9e9" stroke="#a6a6a6" stroke-width="0.45"/>
<ellipse cx="181.3" cy="185.5" rx="3.3" ry="1.9" fill="#e9e9e9" stroke="#a6a6a6" stroke-width="0.45"/>
<ellipse cx="187.9" cy="185.8" rx="3.3" ry="1.9" fill="#e9e9e9" stroke="#a6a6a6" stroke-width="0.45"/>
<ellipse cx="194.5" cy="186.1" rx="3.3" ry="1.9" fill="#e9e9e9" stroke="#a6a6a6" stroke-width="0.45"/>
<ellipse cx="201.1" cy="186.4" rx="3.3" ry="1.9" fill="#e9e9e9" stroke="#a6a6a6" stroke-width="0.45"/>
<ellipse cx="207.7" cy="186.8" rx="3.3" ry="1.9" fill="#e9e9e9" stroke="#a6a6a6" stroke-width="0.45"/>
<ellipse cx="214.3" cy="187.2" rx="3.3" ry="1.9" fill="#e9e9e9" stroke="#a6a6a6" stroke-width="0.45"/>
<ellipse cx="220.9" cy="187.7" rx="3.3" ry="1.9" fill="#e9e9e9" stroke="#a6a6a6" stroke-width="0.45"/>
<ellipse cx="227.5" cy="188.2" rx="3.3" ry="1.9" fill="#e9e9e9" stroke="#a6a6a6" stroke-width="0.45"/>
<ellipse cx="234.1" cy="188.7" rx="3.3" ry="1.9" fill="#e9e9e9" stroke="#a6a6a6" stroke-width="0.45"/>
<ellipse cx="240.7" cy="189.3" rx="3.3" ry="1.9" fill="#e9e9e9" stroke="#a6a6a6" stroke-width="0.45"/>
<ellipse cx="247.3" cy="190.0" rx="3.3" ry="1.9" fill="#e9e9e9" stroke="#a6a6a6" stroke-width="0.45"/>
<ellipse cx="253.9" cy="190.7" rx="3.3" ry="1.9" fill="#e9e9e9" stroke="#a6a6a6" stroke-width="0.45"/>
<ellipse cx="260.5" cy="191.6" rx="3.3" ry="1.9" fill="#e9e9e9" stroke="#a6a6a6" stroke-width="0.45"/>
<ellipse cx="267.1" cy="192.6" rx="3.3" ry="1.9" fill="#e9e9e9" stroke="#a6a6a6" stroke-width="0.45"/>
<ellipse cx="273.7" cy="194.0" rx="3.3" ry="1.9" fill="#e9e9e9" stroke="#a6a6a6" stroke-width="0.45"/>
<ellipse cx="280.3" cy="195.6" rx="3.3" ry="1.9" fill="#e9e9e9" stroke="#a6a6a6" stroke-width="0.45"/>
<ellipse cx="286.9" cy="197.4" rx="3.3" ry="1.9" fill="#e9e9e9" stroke="#a6a6a6" stroke-width="0.45"/>
<ellipse cx="293.5" cy="199.3" rx="3.3" ry="1.9" fill="#e9e9e9" stroke="#a6a6a6" stroke-width="0.45"/>
<ellipse cx="300.1" cy="201.2" rx="3.3" ry="1.9" fill="#e9e9e9" stroke="#a6a6a6" stroke-width="0.45"/>
<ellipse cx="306.7" cy="203.2" rx="3.3" ry="1.9" fill="#e9e9e9" stroke="#a6a6a6" stroke-width="0.45"/>
<ellipse cx="313.3" cy="204.7" rx="3.3" ry="1.9" fill="#e9e9e9" stroke="#a6a6a6" stroke-width="0.45"/>
<ellipse cx="21.0" cy="183.7" rx="3.6" ry="2.5" fill="#ececec" stroke="#8f8f8f" stroke-width="0.5"/>
<ellipse cx="27.6" cy="182.0" rx="3.6" ry="2.5" fill="#ececec" stroke="#8f8f8f" stroke-width="0.5"/>
<ellipse cx="34.2" cy="180.1" rx="3.6" ry="2.5" fill="#ececec" stroke="#8f8f8f" stroke-width="0.5"/>
<ellipse cx="40.8" cy="178.2" rx="3.6" ry="2.5" fill="#ececec" stroke="#8f8f8f" stroke-width="0.5"/>
<ellipse cx="47.4" cy="176.5" rx="3.6" ry="2.5" fill="#ececec" stroke="#8f8f8f" stroke-width="0.5"/>
<ellipse cx="54.0" cy="174.9" rx="3.6" ry="2.5" fill="#ececec" stroke="#8f8f8f" stroke-width="0.5"/>
<ellipse cx="60.6" cy="173.7" rx="3.6" ry="2.5" fill="#ececec" stroke="#8f8f8f" stroke-width="0.5"/>
<ellipse cx="67.2" cy="172.8" rx="3.6" ry="2.5" fill="#ececec" stroke="#8f8f8f" stroke-width="0.5"/>
<ellipse cx="73.8" cy="172.0" rx="3.6" ry="2.5" fill="#ececec" stroke="#8f8f8f" stroke-width="0.5"/>
<ellipse cx="80.4" cy="171.5" rx="3.6" ry="2.5" fill="#ececec" stroke="#8f8f8f" stroke-width="0.5"/>
<ellipse cx="87.0" cy="171.0" rx="3.6" ry="2.5" fill="#ececec" stroke="#8f8f8f" stroke-width="0.5"/>
<ellipse cx="93.6" cy="170.5" rx="3.6" ry="2.5" fill="#ececec" stroke="#8f8f8f" stroke-width="0.5"/>
<ellipse cx="100.2" cy="170.0" rx="3.6" ry="2.5" fill="#ececec" stroke="#8f8f8f" stroke-width="0.5"/>
<ellipse cx="106.8" cy="169.4" rx="3.6" ry="2.5" fill="#ececec" stroke="#8f8f8f" stroke-width="0.5"/>
<ellipse cx="113.4" cy="168.6" rx="3.6" ry="2.5" fill="#ececec" stroke="#8f8f8f" stroke-width="0.5"/>
<ellipse cx="120.0" cy="167.5" rx="3.6" ry="2.5" fill="#ececec" stroke="#8f8f8f" stroke-width="0.5"/>
<ellipse cx="126.6" cy="166.3" rx="3.6" ry="2.5" fill="#ececec" stroke="#8f8f8f" stroke-width="0.5"/>
<ellipse cx="133.2" cy="165.1" rx="3.6" ry="2.5" fill="#ececec" stroke="#8f8f8f" stroke-width="0.5"/>
<ellipse cx="139.8" cy="164.1" rx="3.6" ry="2.5" fill="#ececec" stroke="#8f8f8f" stroke-width="0.5"/>
<ellipse cx="146.4" cy="163.3" rx="3.6" ry="2.5" fill="#ececec" stroke="#8f8f8f" stroke-width="0.5"/>
<ellipse cx="153.0" cy="162.9" rx="3.6" ry="2.5" fill="#ececec" stroke="#8f8f8f" stroke-width="0.5"/>
<ellipse cx="159.6" cy="162.7" rx="3.6" ry="2.5" fill="#ececec" stroke="#8f8f8f" stroke-width="0.5"/>
<ellipse cx="166.2" cy="162.6" rx="3.6" ry="2.5" fill="#ececec" stroke="#8f8f8f" stroke-width="0.5"/>
<ellipse cx="172.8" cy="162.7" rx="3.6" ry="2.5" fill="#ececec" stroke="#8f8f8f" stroke-width="0.5"/>
<ellipse cx="179.4" cy="162.9" rx="3.6" ry="2.5" fill="#ececec" stroke="#8f8f8f" stroke-width="0.5"/>
<ellipse cx="186.0" cy="163.2" rx="3.6" ry="2.5" fill="#ececec" stroke="#8f8f8f" stroke-width="0.5"/>
<ellipse cx="192.6" cy="163.6" rx="3.6" ry="2.5" fill="#ececec" stroke="#8f8f8f" stroke-width="0.5"/>
<ellipse cx="199.2" cy="164.0" rx="3.6" ry="2.5" fill="#ececec" stroke="#8f8f8f" stroke-width="0.5"/>
<ellipse cx="205.8" cy="164.4" rx="3.6" ry="2.5" fill="#ececec" stroke="#8f8f8f" stroke-width="0.5"/>
<ellipse cx="212.4" cy="164.9" rx="3.6" ry="2.5" fill="#ececec" stroke="#8f8f8f" stroke-width="0.5"/>
<ellipse cx="219.0" cy="165.5" rx="3.6" ry="2.5" fill="#ececec" stroke="#8f8f8f" stroke-width="0.5"/>
<ellipse cx="225.6" cy="166.2" rx="3.6" ry="2.5" fill="#ececec" stroke="#8f8f8f" stroke-width="0.5"/>
<ellipse cx="232.2" cy="166.9" rx="3.6" ry="2.5" fill="#ececec" stroke="#8f8f8f" stroke-width="0.5"/>
<ellipse cx="238.8" cy="167.6" rx="3.6" ry="2.5" fill="#ececec" stroke="#8f8f8f" stroke-width="0.5"/>
<ellipse cx="245.4" cy="168.3" rx="3.6" ry="2.5" fill="#ececec" stroke="#8f8f8f" stroke-width="0.5"/>
<ellipse cx="252.0" cy="169.0" rx="3.6" ry="2.5" fill="#ececec" stroke="#8f8f8f" stroke-width="0.5"/>
<ellipse cx="258.6" cy="169.7" rx="3.6" ry="2.5" fill="#ececec" stroke="#8f8f8f" stroke-width="0.5"/>
<ellipse cx="265.2" cy="170.5" rx="3.6" ry="2.5" fill="#ececec" stroke="#8f8f8f" stroke-width="0.5"/>
<ellipse cx="271.8" cy="171.4" rx="3.6" ry="2.5" fill="#ececec" stroke="#8f8f8f" stroke-width="0.5"/>
<ellipse cx="278.4" cy="172.7" rx="3.6" ry="2.5" fill="#ececec" stroke="#8f8f8f" stroke-width="0.5"/>
<ellipse cx="285.0" cy="174.1" rx="3.6" ry="2.5" fill="#ececec" stroke="#8f8f8f" stroke-width="0.5"/>
<ellipse cx="291.6" cy="175.6" rx="3.6" ry="2.5" fill="#ececec" stroke="#8f8f8f" stroke-width="0.5"/>
<ellipse cx="298.2" cy="177.1" rx="3.6" ry="2.5" fill="#ececec" stroke="#8f8f8f" stroke-width="0.5"/>
<ellipse cx="304.8" cy="178.7" rx="3.6" ry="2.5" fill="#ececec" stroke="#8f8f8f" stroke-width="0.5"/>
<ellipse cx="311.4" cy="180.3" rx="3.6" ry="2.5" fill="#ececec" stroke="#8f8f8f" stroke-width="0.5"/>
<ellipse cx="24.3" cy="203.7" rx="3.6" ry="2.5" fill="#ececec" stroke="#8f8f8f" stroke-width="0.5"/>
<ellipse cx="30.9" cy="201.6" rx="3.6" ry="2.5" fill="#ececec" stroke="#8f8f8f" stroke-width="0.5"/>
<ellipse cx="37.5" cy="199.4" rx="3.6" ry="2.5" fill="#ececec" stroke="#8f8f8f" stroke-width="0.5"/>
<ellipse cx="44.1" cy="197.3" rx="3.6" ry="2.5" fill="#ececec" stroke="#8f8f8f" stroke-width="0.5"/>
<ellipse cx="50.7" cy="195.3" rx="3.6" ry="2.5" fill="#ececec" stroke="#8f8f8f" stroke-width="0.5"/>
<ellipse cx="57.3" cy="193.6" rx="3.6" ry="2.5" fill="#ececec" stroke="#8f8f8f" stroke-width="0.5"/>
<ellipse cx="63.9" cy="192.2" rx="3.6" ry="2.5" fill="#ececec" stroke="#8f8f8f" stroke-width="0.5"/>
<ellipse cx="70.5" cy="191.0" rx="3.6" ry="2.5" fill="#ececec" stroke="#8f8f8f" stroke-width="0.5"/>
<ellipse cx="77.1" cy="189.9" rx="3.6" ry="2.5" fill="#ececec" stroke="#8f8f8f" stroke-width="0.5"/>
<ellipse cx="83.7" cy="188.9" rx="3.6" ry="2.5" fill="#ececec" stroke="#8f8f8f" stroke-width="0.5"/>
<ellipse cx="90.3" cy="188.0" rx="3.6" ry="2.5" fill="#ececec" stroke="#8f8f8f" stroke-width="0.5"/>
<ellipse cx="96.9" cy="187.1" rx="3.6" ry="2.5" fill="#ececec" stroke="#8f8f8f" stroke-width="0.5"/>
<ellipse cx="103.5" cy="186.3" rx="3.6" ry="2.5" fill="#ececec" stroke="#8f8f8f" stroke-width="0.5"/>
<ellipse cx="110.1" cy="185.4" rx="3.6" ry="2.5" fill="#ececec" stroke="#8f8f8f" stroke-width="0.5"/>
<ellipse cx="116.7" cy="184.4" rx="3.6" ry="2.5" fill="#ececec" stroke="#8f8f8f" stroke-width="0.5"/>
<ellipse cx="123.3" cy="183.4" rx="3.6" ry="2.5" fill="#ececec" stroke="#8f8f8f" stroke-width="0.5"/>
<ellipse cx="129.9" cy="182.4" rx="3.6" ry="2.5" fill="#ececec" stroke="#8f8f8f" stroke-width="0.5"/>
<ellipse cx="136.5" cy="181.6" rx="3.6" ry="2.5" fill="#ececec" stroke="#8f8f8f" stroke-width="0.5"/>
<ellipse cx="143.1" cy="180.9" rx="3.6" ry="2.5" fill="#ececec" stroke="#8f8f8f" stroke-width="0.5"/>
<ellipse cx="149.7" cy="180.4" rx="3.6" ry="2.5" fill="#ececec" stroke="#8f8f8f" stroke-width="0.5"/>
<ellipse cx="156.3" cy="180.2" rx="3.6" ry="2.5" fill="#ececec" stroke="#8f8f8f" stroke-width="0.5"/>
<ellipse cx="162.9" cy="180.1" rx="3.6" ry="2.5" fill="#ececec" stroke="#8f8f8f" stroke-width="0.5"/>
<ellipse cx="169.5" cy="180.2" rx="3.6" ry="2.5" fill="#ececec" stroke="#8f8f8f" stroke-width="0.5"/>
<ellipse cx="176.1" cy="180.3" rx="3.6" ry="2.5" fill="#ececec" stroke="#8f8f8f" stroke-width="0.5"/>
<ellipse cx="182.7" cy="180.5" rx="3.6" ry="2.5" fill="#ececec" stroke="#8f8f8f" stroke-width="0.5"/>
<ellipse cx="189.3" cy="180.8" rx="3.6" ry="2.5" fill="#ececec" stroke="#8f8f8f" stroke-width="0.5"/>
<ellipse cx="195.9" cy="181.1" rx="3.6" ry="2.5" fill="#ececec" stroke="#8f8f8f" stroke-width="0.5"/>
<ellipse cx="202.5" cy="181.4" rx="3.6" ry="2.5" fill="#ececec" stroke="#8f8f8f" stroke-width="0.5"/>
<ellipse cx="209.1" cy="181.8" rx="3.6" ry="2.5" fill="#ececec" stroke="#8f8f8f" stroke-width="0.5"/>
<ellipse cx="215.7" cy="182.2" rx="3.6" ry="2.5" fill="#ececec" stroke="#8f8f8f" stroke-width="0.5"/>
<ellipse cx="222.3" cy="182.6" rx="3.6" ry="2.5" fill="#ececec" stroke="#8f8f8f" stroke-width="0.5"/>
<ellipse cx="228.9" cy="183.1" rx="3.6" ry="2.5" fill="#ececec" stroke="#8f8f8f" stroke-width="0.5"/>
<ellipse cx="235.5" cy="183.7" rx="3.6" ry="2.5" fill="#ececec" stroke="#8f8f8f" stroke-width="0.5"/>
<ellipse cx="242.1" cy="184.3" rx="3.6" ry="2.5" fill="#ececec" stroke="#8f8f8f" stroke-width="0.5"/>
<ellipse cx="248.7" cy="185.0" rx="3.6" ry="2.5" fill="#ececec" stroke="#8f8f8f" stroke-width="0.5"/>
<ellipse cx="255.3" cy="186.0" rx="3.6" ry="2.5" fill="#ececec" stroke="#8f8f8f" stroke-width="0.5"/>
<ellipse cx="261.9" cy="187.4" rx="3.6" ry="2.5" fill="#ececec" stroke="#8f8f8f" stroke-width="0.5"/>
<ellipse cx="268.5" cy="189.0" rx="3.6" ry="2.5" fill="#ececec" stroke="#8f8f8f" stroke-width="0.5"/>
<ellipse cx="275.1" cy="190.5" rx="3.6" ry="2.5" fill="#ececec" stroke="#8f8f8f" stroke-width="0.5"/>
<ellipse cx="281.7" cy="191.9" rx="3.6" ry="2.5" fill="#ececec" stroke="#8f8f8f" stroke-width="0.5"/>
<ellipse cx="288.3" cy="193.3" rx="3.6" ry="2.5" fill="#ececec" stroke="#8f8f8f" stroke-width="0.5"/>
<ellipse cx="294.9" cy="194.7" rx="3.6" ry="2.5" fill="#ececec" stroke="#8f8f8f" stroke-width="0.5"/>
<ellipse cx="301.5" cy="196.2" rx="3.6" ry="2.5" fill="#ececec" stroke="#8f8f8f" stroke-width="0.5"/>
<ellipse cx="308.1" cy="197.6" rx="3.6" ry="2.5" fill="#ececec" stroke="#8f8f8f" stroke-width="0.5"/>
<ellipse cx="314.7" cy="198.4" rx="3.6" ry="2.5" fill="#ececec" stroke="#8f8f8f" stroke-width="0.5"/>
<path d="M139.3,52 Q139,46.5 145,46.3 Q151,46 151.3,50 L158.6,101 L154,107 L147,101.5 Z" fill="#929292" stroke="#727272" stroke-width="0.5"/>
<path d="M149.3,88 L150.3,98.9" stroke="#dcdcdc" stroke-width="0.9" stroke-linecap="round"/>
</g>
<path d="M147.1,103.3 L153.7,108.7 L158.8,100.8 L161,115.5 Q161.2,116.6 160,116.8 L150.3,116.9 Q149.2,116.9 149.1,115.8 Z" fill="#f3e6a2" stroke="#a39a70" stroke-width="0.5" stroke-linejoin="round"/>
<path d="M146.6,102.2 L153.7,107.6 L158.6,100.3" fill="none" stroke="#fff" stroke-width="1"/>
<path d="M150,105.5 L151,114.5" stroke="#fbf6dc" stroke-width="0.8" stroke-linecap="round"/>
<path d="M156.2,117.2 L156.3,120.8" stroke="#111" stroke-width="1.2"/>
<path d="M167,124 Q170,113 178,115.5 Q188,119 186,131 Q183,142 170,145 Q160,150 156,147" fill="none" stroke="#9a9a9a" stroke-width="0.5"/>
<path d="M145,124 Q149,122 151.5,127 Q153,134 158.6,141 Q160,148 153,150.8 Q146,151.5 143.5,145 Q141.5,132 145,124 Z" fill="#cfe0a6" stroke="#8ea266" stroke-width="0.5"/>
<path d="M169,122 Q173,123.5 174,133 Q175,145 170.5,150 Q164,152 162.5,147 Q162,142 165,137 Q167,131 169,122 Z" fill="#cfe0a6" stroke="#8ea266" stroke-width="0.5"/>
<ellipse cx="158" cy="131" rx="8.3" ry="10.6" transform="rotate(-8 158 131)" fill="#f3e6a2" stroke="#fff" stroke-width="1.2"/>
<ellipse cx="158" cy="131" rx="8.3" ry="10.6" transform="rotate(-8 158 131)" fill="none" stroke="#a39a70" stroke-width="0.4"/>
<text x="146.7" y="147.6" font-size="7.4" fill="#222" stroke="#222" stroke-width="0.25" textLength="8.7" lengthAdjust="spacingAndGlyphs">Vh</text>
<text x="164.5" y="147.6" font-size="7.4" fill="#222" stroke="#222" stroke-width="0.25" textLength="6.8" lengthAdjust="spacingAndGlyphs">Vl</text>
<path d="M168.4,149.5 L168.4,192.5" stroke="#111" stroke-width="1.4"/>
<rect x="163.6" y="192" width="9.8" height="37" rx="2.5" fill="#d6e4b0" stroke="#6b7a44" stroke-width="0.6"/>
<path d="M165.6,198 L165.6,224" stroke="#f4f8e8" stroke-width="0.9" stroke-linecap="round"/>
<path d="M168.4,229 L168.4,232" stroke="#2e7a2e" stroke-width="1"/>
<rect x="163.4" y="232" width="10" height="16.5" rx="2.5" fill="#d6e4b0" stroke="#6b7a44" stroke-width="0.6"/>
<path d="M165.5,236 L165.5,245" stroke="#f4f8e8" stroke-width="0.9" stroke-linecap="round"/>
<text x="149" y="43" font-size="8.1" text-anchor="start" fill="#1a1a1a" font-weight="normal" textLength="34.8" lengthAdjust="spacingAndGlyphs" stroke="#1a1a1a" stroke-width="0.2">cancer cell</text>
<text x="220.9" y="115" font-size="8.1" text-anchor="start" fill="#1a1a1a" font-weight="normal" textLength="76.2" lengthAdjust="spacingAndGlyphs" stroke="#1a1a1a" stroke-width="0.2">cancer specific antigen</text>
<text x="80" y="120.8" font-size="8.1" text-anchor="start" fill="#1a1a1a" font-weight="normal" textLength="51.8" lengthAdjust="spacingAndGlyphs" stroke="#1a1a1a" stroke-width="0.2">antigen specific</text>
<text x="80" y="129.6" font-size="8.1" text-anchor="start" fill="#1a1a1a" font-weight="normal" textLength="57.7" lengthAdjust="spacingAndGlyphs" stroke="#1a1a1a" stroke-width="0.2">targeting module</text>
<text x="139.6" y="190.4" font-size="6.8" text-anchor="start" fill="#333" font-weight="normal" textLength="15.4" lengthAdjust="spacingAndGlyphs" stroke="#1a1a1a" stroke-width="0.2">linker</text>
<text x="139.6" y="210" font-size="7.2" text-anchor="start" fill="#1a1a1a" font-weight="normal" textLength="15.8" lengthAdjust="spacingAndGlyphs" stroke="#1a1a1a" stroke-width="0.2">CD28</text>
<text x="193" y="209.8" font-size="8.2" text-anchor="start" fill="#1a1a1a" font-weight="normal" textLength="46" lengthAdjust="spacingAndGlyphs" stroke="#1a1a1a" stroke-width="0.2">Universal CAR</text>
<text x="47.6" y="242.4" font-size="7.8" text-anchor="start" fill="#1a1a1a" font-weight="normal" textLength="18" lengthAdjust="spacingAndGlyphs" stroke="#1a1a1a" stroke-width="0.2">T cell</text>
<text x="139" y="241" font-size="7.2" text-anchor="start" fill="#1a1a1a" font-weight="normal" textLength="17" lengthAdjust="spacingAndGlyphs" stroke="#1a1a1a" stroke-width="0.2">CD3ς</text>
<text x="193" y="241" font-size="7.2" text-anchor="start" fill="#1a1a1a" font-weight="normal" textLength="16.4" lengthAdjust="spacingAndGlyphs" stroke="#1a1a1a" stroke-width="0.2">„ON“</text>
<text x="347.4" y="19.2" font-size="12.8" text-anchor="start" fill="#000" font-weight="bold" stroke="#000" stroke-width="0.4" stroke-linejoin="round">B</text>
<rect x="402.9" y="29.9" width="49.2" height="120.2" fill="#dcdcde"/>
<path d="M383,28.1 L383,150.9 M379.2,150.1 L503.5,150.1" stroke="#1e1e1e" stroke-width="1.7" fill="none"/>
<path d="M379.2,150.1 L383,150.1" stroke="#1e1e1e" stroke-width="1.2"/>
<text x="376" y="153.1" font-size="9.9" text-anchor="end" fill="#222" font-weight="normal" textLength="12.38" lengthAdjust="spacingAndGlyphs" stroke="#222" stroke-width="0.12">0.0</text>
<path d="M379.2,120.4 L383,120.4" stroke="#1e1e1e" stroke-width="1.2"/>
<text x="376" y="123.44999999999999" font-size="9.9" text-anchor="end" fill="#222" font-weight="normal" textLength="12.38" lengthAdjust="spacingAndGlyphs" stroke="#222" stroke-width="0.12">1.0</text>
<path d="M379.2,90.8 L383,90.8" stroke="#1e1e1e" stroke-width="1.2"/>
<text x="376" y="93.8" font-size="9.9" text-anchor="end" fill="#222" font-weight="normal" textLength="12.38" lengthAdjust="spacingAndGlyphs" stroke="#222" stroke-width="0.12">2.0</text>
<path d="M379.2,61.2 L383,61.2" stroke="#1e1e1e" stroke-width="1.2"/>
<text x="376" y="64.15" font-size="9.9" text-anchor="end" fill="#222" font-weight="normal" textLength="12.38" lengthAdjust="spacingAndGlyphs" stroke="#222" stroke-width="0.12">3.0</text>
<path d="M379.2,31.5 L383,31.5" stroke="#1e1e1e" stroke-width="1.2"/>
<text x="376" y="34.5" font-size="9.9" text-anchor="end" fill="#222" font-weight="normal" textLength="12.38" lengthAdjust="spacingAndGlyphs" stroke="#222" stroke-width="0.12">4.0</text>
<path d="M383.0,150.1 L383.0,153.6" stroke="#1e1e1e" stroke-width="1.2"/>
<text x="383.0" y="165.0" font-size="9.9" text-anchor="middle" fill="#222" font-weight="normal" textLength="12.88" lengthAdjust="spacingAndGlyphs" stroke="#222" stroke-width="0.12">-10</text>
<path d="M402.9,150.1 L402.9,153.6" stroke="#1e1e1e" stroke-width="1.2"/>
<text x="402.9" y="165.0" font-size="9.9" text-anchor="middle" fill="#222" font-weight="normal" textLength="4.95" lengthAdjust="spacingAndGlyphs" stroke="#222" stroke-width="0.12">0</text>
<path d="M422.8,150.1 L422.8,153.6" stroke="#1e1e1e" stroke-width="1.2"/>
<text x="422.8" y="165.0" font-size="9.9" text-anchor="middle" fill="#222" font-weight="normal" textLength="9.91" lengthAdjust="spacingAndGlyphs" stroke="#222" stroke-width="0.12">10</text>
<path d="M442.8,150.1 L442.8,153.6" stroke="#1e1e1e" stroke-width="1.2"/>
<text x="442.8" y="165.0" font-size="9.9" text-anchor="middle" fill="#222" font-weight="normal" textLength="9.91" lengthAdjust="spacingAndGlyphs" stroke="#222" stroke-width="0.12">20</text>
<path d="M462.7,150.1 L462.7,153.6" stroke="#1e1e1e" stroke-width="1.2"/>
<text x="462.7" y="165.0" font-size="9.9" text-anchor="middle" fill="#222" font-weight="normal" textLength="9.91" lengthAdjust="spacingAndGlyphs" stroke="#222" stroke-width="0.12">30</text>
<path d="M482.6,150.1 L482.6,153.6" stroke="#1e1e1e" stroke-width="1.2"/>
<text x="482.6" y="165.0" font-size="9.9" text-anchor="middle" fill="#222" font-weight="normal" textLength="9.91" lengthAdjust="spacingAndGlyphs" stroke="#222" stroke-width="0.12">40</text>
<path d="M502.5,150.1 L502.5,153.6" stroke="#1e1e1e" stroke-width="1.2"/>
<text x="502.5" y="165.0" font-size="9.9" text-anchor="middle" fill="#222" font-weight="normal" textLength="9.91" lengthAdjust="spacingAndGlyphs" stroke="#222" stroke-width="0.12">50</text>
<text x="0" y="0" font-size="10.4" fill="#222" stroke="#222" stroke-width="0.12" text-anchor="middle" textLength="56" lengthAdjust="spacingAndGlyphs" transform="translate(356.3,87.5) rotate(-90)">WBC [10<tspan font-size="7" dy="-3.6">3</tspan><tspan dy="3.6">/µl]</tspan></text>
<text x="427.8" y="36.9" font-size="7.6" text-anchor="middle" fill="#222" font-weight="normal" textLength="23.4" lengthAdjust="spacingAndGlyphs" >TM123</text>
<text x="427.8" y="46" font-size="7.6" text-anchor="middle" fill="#222" font-weight="normal" textLength="47.7" lengthAdjust="spacingAndGlyphs" >administration</text>
<path d="M390.74,92.17 L392.74,88.34 L394.73,98.95 L397.12,120.74 L400.91,146.36 L404.89,146.07 L410.87,141.06 L417.05,145.48 L430.80,144.30 L444.75,126.63 L452.72,118.38 L458.70,103.95 L466.68,99.24 L479.43,74.80" fill="none" stroke="#23478c" stroke-width="1.5" stroke-linejoin="round"/>
<circle cx="390.74" cy="92.17" r="2.40" fill="#23478c"/>
<circle cx="392.74" cy="88.34" r="2.40" fill="#23478c"/>
<circle cx="394.73" cy="98.95" r="2.40" fill="#23478c"/>
<circle cx="397.12" cy="120.74" r="2.40" fill="#23478c"/>
<circle cx="400.91" cy="146.36" r="2.40" fill="#23478c"/>
<circle cx="404.89" cy="146.07" r="2.40" fill="#23478c"/>
<circle cx="410.87" cy="141.06" r="2.40" fill="#23478c"/>
<circle cx="417.05" cy="145.48" r="2.40" fill="#23478c"/>
<circle cx="430.80" cy="144.30" r="2.40" fill="#23478c"/>
<circle cx="444.75" cy="126.63" r="2.40" fill="#23478c"/>
<circle cx="452.72" cy="118.38" r="2.40" fill="#23478c"/>
<circle cx="458.70" cy="103.95" r="2.40" fill="#23478c"/>
<circle cx="466.68" cy="99.24" r="2.40" fill="#23478c"/>
<circle cx="479.43" cy="74.80" r="2.40" fill="#23478c"/>
<path d="M390.94,46.52 L392.94,83.34 L394.73,87.75 L396.92,109.55 L400.51,118.68 L404.69,120.74 L411.27,123.68 L416.65,145.48 L430.80,144.30 L444.75,141.35 L452.72,139.29 L458.70,129.87 L466.68,118.38 L479.83,87.75" fill="none" stroke="#62b045" stroke-width="1.5" stroke-linejoin="round"/>
<path d="M390.94,43.72 L393.60,48.20 L388.28,48.20Z" fill="#62b045"/>
<path d="M392.94,80.54 L395.60,85.02 L390.27,85.02Z" fill="#62b045"/>
<path d="M394.73,84.95 L397.39,89.44 L392.07,89.44Z" fill="#62b045"/>
<path d="M396.92,106.75 L399.58,111.23 L394.26,111.23Z" fill="#62b045"/>
<path d="M400.51,115.88 L403.17,120.36 L397.85,120.36Z" fill="#62b045"/>
<path d="M404.69,117.94 L407.35,122.42 L402.03,122.42Z" fill="#62b045"/>
<path d="M411.27,120.88 L413.93,125.36 L408.61,125.36Z" fill="#62b045"/>
<path d="M416.65,142.68 L419.31,147.16 L413.99,147.16Z" fill="#62b045"/>
<path d="M430.80,141.50 L433.46,145.98 L428.14,145.98Z" fill="#62b045"/>
<path d="M444.75,138.55 L447.41,143.03 L442.09,143.03Z" fill="#62b045"/>
<path d="M452.72,136.49 L455.38,140.97 L450.06,140.97Z" fill="#62b045"/>
<path d="M458.70,127.07 L461.36,131.55 L456.04,131.55Z" fill="#62b045"/>
<path d="M466.68,115.58 L469.34,120.06 L464.02,120.06Z" fill="#62b045"/>
<path d="M479.83,84.95 L482.49,89.44 L477.17,89.44Z" fill="#62b045"/>
<path d="M391.34,131.93 L393.33,132.52 L395.13,134.29 L396.32,139.59 L400.91,145.77 L404.89,145.77 L410.87,144.30 L417.05,142.53 L430.80,139.88 L444.75,138.41 L452.72,135.76 L458.70,124.27 L467.07,123.09" fill="none" stroke="#b3163f" stroke-width="1.5" stroke-linejoin="round"/>
<path d="M391.34,129.63 L393.64,131.93 L391.34,134.23 L389.04,131.93Z" fill="#b3163f"/>
<path d="M393.33,130.22 L395.63,132.52 L393.33,134.82 L391.03,132.52Z" fill="#b3163f"/>
<path d="M395.13,131.99 L397.43,134.29 L395.13,136.59 L392.83,134.29Z" fill="#b3163f"/>
<path d="M396.32,137.29 L398.62,139.59 L396.32,141.89 L394.02,139.59Z" fill="#b3163f"/>
<path d="M400.91,143.47 L403.21,145.77 L400.91,148.07 L398.61,145.77Z" fill="#b3163f"/>
<path d="M404.89,143.47 L407.19,145.77 L404.89,148.07 L402.59,145.77Z" fill="#b3163f"/>
<path d="M410.87,142.00 L413.17,144.30 L410.87,146.60 L408.57,144.30Z" fill="#b3163f"/>
<path d="M417.05,140.23 L419.35,142.53 L417.05,144.83 L414.75,142.53Z" fill="#b3163f"/>
<path d="M430.80,137.58 L433.10,139.88 L430.80,142.18 L428.50,139.88Z" fill="#b3163f"/>
<path d="M444.75,136.11 L447.05,138.41 L444.75,140.71 L442.45,138.41Z" fill="#b3163f"/>
<path d="M452.72,133.46 L455.02,135.76 L452.72,138.06 L450.42,135.76Z" fill="#b3163f"/>
<path d="M458.70,121.97 L461.00,124.27 L458.70,126.57 L456.40,124.27Z" fill="#b3163f"/>
<path d="M467.07,120.80 L469.37,123.09 L467.07,125.39 L464.77,123.09Z" fill="#b3163f"/>
<rect x="402.9" y="188.2" width="49.2" height="120.5" fill="#dcdcde"/>
<path d="M383,186.5 L383,309.5 M379.2,308.7 L503.5,308.7" stroke="#1e1e1e" stroke-width="1.7" fill="none"/>
<path d="M379.2,308.7 L383,308.7" stroke="#1e1e1e" stroke-width="1.2"/>
<text x="376" y="311.7" font-size="9.9" text-anchor="end" fill="#222" font-weight="normal" textLength="12.38" lengthAdjust="spacingAndGlyphs" stroke="#222" stroke-width="0.12">0.0</text>
<path d="M379.2,269.2 L383,269.2" stroke="#1e1e1e" stroke-width="1.2"/>
<text x="376" y="272.16499999999996" font-size="9.9" text-anchor="end" fill="#222" font-weight="normal" textLength="12.38" lengthAdjust="spacingAndGlyphs" stroke="#222" stroke-width="0.12">0.5</text>
<path d="M379.2,229.6 L383,229.6" stroke="#1e1e1e" stroke-width="1.2"/>
<text x="376" y="232.63" font-size="9.9" text-anchor="end" fill="#222" font-weight="normal" textLength="12.38" lengthAdjust="spacingAndGlyphs" stroke="#222" stroke-width="0.12">1.0</text>
<path d="M379.2,190.1 L383,190.1" stroke="#1e1e1e" stroke-width="1.2"/>
<text x="376" y="193.095" font-size="9.9" text-anchor="end" fill="#222" font-weight="normal" textLength="12.38" lengthAdjust="spacingAndGlyphs" stroke="#222" stroke-width="0.12">1.5</text>
<path d="M383.0,308.7 L383.0,312.2" stroke="#1e1e1e" stroke-width="1.2"/>
<text x="383.0" y="323.5" font-size="9.9" text-anchor="middle" fill="#222" font-weight="normal" textLength="12.88" lengthAdjust="spacingAndGlyphs" stroke="#222" stroke-width="0.12">-10</text>
<path d="M402.9,308.7 L402.9,312.2" stroke="#1e1e1e" stroke-width="1.2"/>
<text x="402.9" y="323.5" font-size="9.9" text-anchor="middle" fill="#222" font-weight="normal" textLength="4.95" lengthAdjust="spacingAndGlyphs" stroke="#222" stroke-width="0.12">0</text>
<path d="M422.8,308.7 L422.8,312.2" stroke="#1e1e1e" stroke-width="1.2"/>
<text x="422.8" y="323.5" font-size="9.9" text-anchor="middle" fill="#222" font-weight="normal" textLength="9.91" lengthAdjust="spacingAndGlyphs" stroke="#222" stroke-width="0.12">10</text>
<path d="M442.8,308.7 L442.8,312.2" stroke="#1e1e1e" stroke-width="1.2"/>
<text x="442.8" y="323.5" font-size="9.9" text-anchor="middle" fill="#222" font-weight="normal" textLength="9.91" lengthAdjust="spacingAndGlyphs" stroke="#222" stroke-width="0.12">20</text>
<path d="M462.7,308.7 L462.7,312.2" stroke="#1e1e1e" stroke-width="1.2"/>
<text x="462.7" y="323.5" font-size="9.9" text-anchor="middle" fill="#222" font-weight="normal" textLength="9.91" lengthAdjust="spacingAndGlyphs" stroke="#222" stroke-width="0.12">30</text>
<path d="M482.6,308.7 L482.6,312.2" stroke="#1e1e1e" stroke-width="1.2"/>
<text x="482.6" y="323.5" font-size="9.9" text-anchor="middle" fill="#222" font-weight="normal" textLength="9.91" lengthAdjust="spacingAndGlyphs" stroke="#222" stroke-width="0.12">40</text>
<path d="M502.5,308.7 L502.5,312.2" stroke="#1e1e1e" stroke-width="1.2"/>
<text x="502.5" y="323.5" font-size="9.9" text-anchor="middle" fill="#222" font-weight="normal" textLength="9.91" lengthAdjust="spacingAndGlyphs" stroke="#222" stroke-width="0.12">50</text>
<text x="0" y="0" font-size="10.4" fill="#222" stroke="#222" stroke-width="0.12" text-anchor="middle" textLength="79" lengthAdjust="spacingAndGlyphs" transform="translate(356.8,247.7) rotate(-90)">Neutrophils [10<tspan font-size="7" dy="-3.6">3</tspan><tspan dy="3.6">/µl]</tspan></text>
<text x="427.8" y="195" font-size="7.6" text-anchor="middle" fill="#222" font-weight="normal" textLength="23.4" lengthAdjust="spacingAndGlyphs" >TM123</text>
<text x="427.8" y="203.6" font-size="7.6" text-anchor="middle" fill="#222" font-weight="normal" textLength="47.7" lengthAdjust="spacingAndGlyphs" >administration</text>
<path d="M390.94,198.19 L400.51,237.69 L451.73,292.99 L458.70,281.93 L465.68,257.44 L479.63,211.62" fill="none" stroke="#62b045" stroke-width="1.5" stroke-linejoin="round"/>
<path d="M390.94,195.39 L393.60,199.87 L388.28,199.87Z" fill="#62b045"/>
<path d="M400.51,234.89 L403.17,239.37 L397.85,239.37Z" fill="#62b045"/>
<path d="M451.73,290.19 L454.39,294.67 L449.07,294.67Z" fill="#62b045"/>
<path d="M458.70,279.13 L461.36,283.61 L456.04,283.61Z" fill="#62b045"/>
<path d="M465.68,254.64 L468.34,259.12 L463.02,259.12Z" fill="#62b045"/>
<path d="M479.63,208.82 L482.29,213.30 L476.97,213.30Z" fill="#62b045"/>
<path d="M390.94,253.49 L400.51,299.31 L451.73,286.67 L458.70,278.77 L465.68,267.71 L479.63,232.16" fill="none" stroke="#23478c" stroke-width="1.5" stroke-linejoin="round"/>
<circle cx="390.94" cy="253.49" r="2.40" fill="#23478c"/>
<circle cx="400.51" cy="299.31" r="2.40" fill="#23478c"/>
<circle cx="451.73" cy="286.67" r="2.40" fill="#23478c"/>
<circle cx="458.70" cy="278.77" r="2.40" fill="#23478c"/>
<circle cx="465.68" cy="267.71" r="2.40" fill="#23478c"/>
<circle cx="479.63" cy="232.16" r="2.40" fill="#23478c"/>
<path d="M390.94,283.51 L400.51,299.31 L451.73,292.20 L458.70,278.77 L465.68,270.08" fill="none" stroke="#b3163f" stroke-width="1.5" stroke-linejoin="round"/>
<path d="M390.94,281.21 L393.24,283.51 L390.94,285.81 L388.64,283.51Z" fill="#b3163f"/>
<path d="M400.51,297.01 L402.81,299.31 L400.51,301.61 L398.21,299.31Z" fill="#b3163f"/>
<path d="M451.73,289.90 L454.03,292.20 L451.73,294.50 L449.43,292.20Z" fill="#b3163f"/>
<path d="M458.70,276.47 L461.00,278.77 L458.70,281.07 L456.40,278.77Z" fill="#b3163f"/>
<path d="M465.68,267.78 L467.98,270.08 L465.68,272.38 L463.38,270.08Z" fill="#b3163f"/>
<rect x="402.9" y="347.4" width="49.2" height="120.1" fill="#dcdcde"/>
<path d="M383,345.3 L383,468.3 M379.2,467.5 L503.5,467.5" stroke="#1e1e1e" stroke-width="1.7" fill="none"/>
<path d="M379.2,467.5 L383,467.5" stroke="#1e1e1e" stroke-width="1.2"/>
<text x="376" y="470.5" font-size="9.9" text-anchor="end" fill="#222" font-weight="normal" textLength="4.95" lengthAdjust="spacingAndGlyphs" stroke="#222" stroke-width="0.12">0</text>
<path d="M379.2,437.8 L383,437.8" stroke="#1e1e1e" stroke-width="1.2"/>
<text x="376" y="440.775" font-size="9.9" text-anchor="end" fill="#222" font-weight="normal" textLength="9.91" lengthAdjust="spacingAndGlyphs" stroke="#222" stroke-width="0.12">50</text>
<path d="M379.2,408.1 L383,408.1" stroke="#1e1e1e" stroke-width="1.2"/>
<text x="376" y="411.05" font-size="9.9" text-anchor="end" fill="#222" font-weight="normal" textLength="14.86" lengthAdjust="spacingAndGlyphs" stroke="#222" stroke-width="0.12">100</text>
<path d="M379.2,378.3 L383,378.3" stroke="#1e1e1e" stroke-width="1.2"/>
<text x="376" y="381.325" font-size="9.9" text-anchor="end" fill="#222" font-weight="normal" textLength="14.86" lengthAdjust="spacingAndGlyphs" stroke="#222" stroke-width="0.12">150</text>
<path d="M379.2,348.6 L383,348.6" stroke="#1e1e1e" stroke-width="1.2"/>
<text x="376" y="351.6" font-size="9.9" text-anchor="end" fill="#222" font-weight="normal" textLength="14.86" lengthAdjust="spacingAndGlyphs" stroke="#222" stroke-width="0.12">200</text>
<path d="M383.0,467.5 L383.0,471.0" stroke="#1e1e1e" stroke-width="1.2"/>
<text x="383.0" y="483.0" font-size="9.9" text-anchor="middle" fill="#222" font-weight="normal" textLength="12.88" lengthAdjust="spacingAndGlyphs" stroke="#222" stroke-width="0.12">-10</text>
<path d="M402.9,467.5 L402.9,471.0" stroke="#1e1e1e" stroke-width="1.2"/>
<text x="402.9" y="483.0" font-size="9.9" text-anchor="middle" fill="#222" font-weight="normal" textLength="4.95" lengthAdjust="spacingAndGlyphs" stroke="#222" stroke-width="0.12">0</text>
<path d="M422.8,467.5 L422.8,471.0" stroke="#1e1e1e" stroke-width="1.2"/>
<text x="422.8" y="483.0" font-size="9.9" text-anchor="middle" fill="#222" font-weight="normal" textLength="9.91" lengthAdjust="spacingAndGlyphs" stroke="#222" stroke-width="0.12">10</text>
<path d="M442.8,467.5 L442.8,471.0" stroke="#1e1e1e" stroke-width="1.2"/>
<text x="442.8" y="483.0" font-size="9.9" text-anchor="middle" fill="#222" font-weight="normal" textLength="9.91" lengthAdjust="spacingAndGlyphs" stroke="#222" stroke-width="0.12">20</text>
<path d="M462.7,467.5 L462.7,471.0" stroke="#1e1e1e" stroke-width="1.2"/>
<text x="462.7" y="483.0" font-size="9.9" text-anchor="middle" fill="#222" font-weight="normal" textLength="9.91" lengthAdjust="spacingAndGlyphs" stroke="#222" stroke-width="0.12">30</text>
<path d="M482.6,467.5 L482.6,471.0" stroke="#1e1e1e" stroke-width="1.2"/>
<text x="482.6" y="483.0" font-size="9.9" text-anchor="middle" fill="#222" font-weight="normal" textLength="9.91" lengthAdjust="spacingAndGlyphs" stroke="#222" stroke-width="0.12">40</text>
<path d="M502.5,467.5 L502.5,471.0" stroke="#1e1e1e" stroke-width="1.2"/>
<text x="502.5" y="483.0" font-size="9.9" text-anchor="middle" fill="#222" font-weight="normal" textLength="9.91" lengthAdjust="spacingAndGlyphs" stroke="#222" stroke-width="0.12">50</text>
<text x="0" y="0" font-size="10.4" fill="#222" stroke="#222" stroke-width="0.12" text-anchor="middle" textLength="68" lengthAdjust="spacingAndGlyphs" transform="translate(354.8,406) rotate(-90)">Platelets [10<tspan font-size="7" dy="-3.6">3</tspan><tspan dy="3.6">/µl]</tspan></text>
<text x="427.8" y="354.3" font-size="7.6" text-anchor="middle" fill="#222" font-weight="normal" textLength="23.4" lengthAdjust="spacingAndGlyphs" >TM123</text>
<text x="427.8" y="362.5" font-size="7.6" text-anchor="middle" fill="#222" font-weight="normal" textLength="47.7" lengthAdjust="spacingAndGlyphs" >administration</text>
<text x="386.8" y="450.4" font-size="8" fill="#23478c" text-anchor="middle">*</text>
<text x="405.6" y="464.7" font-size="8" fill="#23478c" text-anchor="middle">*</text>
<text x="415" y="460.4" font-size="8" fill="#23478c" text-anchor="middle">*</text>
<text x="420.4" y="451.4" font-size="8" fill="#23478c" text-anchor="middle">*</text>
<text x="434" y="452.4" font-size="8" fill="#23478c" text-anchor="middle">*</text>
<text x="455.5" y="455.2" font-size="8" fill="#23478c" text-anchor="middle">*</text>
<text x="394.3" y="464.7" font-size="8" fill="#b3163f" text-anchor="middle">*</text>
<text x="418.9" y="461.2" font-size="8" fill="#b3163f" text-anchor="middle">*</text>
<text x="432.2" y="461.4" font-size="8" fill="#b3163f" text-anchor="middle">*</text>
<text x="455.5" y="460.4" font-size="8" fill="#b3163f" text-anchor="middle">*</text>
<path d="M390.94,432.69 L393.93,432.09 L395.92,429.71 L397.32,424.36 L400.11,426.38 L404.69,424.00 L410.47,440.60 L416.45,442.81 L430.40,443.10 L444.75,443.40 L451.73,425.55 L458.11,401.39 L465.68,369.62 L479.83,351.47" fill="none" stroke="#62b045" stroke-width="1.5" stroke-linejoin="round"/>
<path d="M390.94,429.89 L393.60,434.37 L388.28,434.37Z" fill="#62b045"/>
<path d="M393.93,429.29 L396.59,433.77 L391.27,433.77Z" fill="#62b045"/>
<path d="M395.92,426.91 L398.58,431.39 L393.26,431.39Z" fill="#62b045"/>
<path d="M397.32,421.56 L399.98,426.04 L394.66,426.04Z" fill="#62b045"/>
<path d="M400.11,423.58 L402.77,428.06 L397.45,428.06Z" fill="#62b045"/>
<path d="M404.69,421.20 L407.35,425.68 L402.03,425.68Z" fill="#62b045"/>
<path d="M410.47,437.80 L413.13,442.28 L407.81,442.28Z" fill="#62b045"/>
<path d="M416.45,440.00 L419.11,444.49 L413.79,444.49Z" fill="#62b045"/>
<path d="M430.40,440.30 L433.06,444.78 L427.74,444.78Z" fill="#62b045"/>
<path d="M444.75,440.60 L447.41,445.08 L442.09,445.08Z" fill="#62b045"/>
<path d="M451.73,422.75 L454.39,427.23 L449.07,427.23Z" fill="#62b045"/>
<path d="M458.11,398.59 L460.77,403.07 L455.45,403.07Z" fill="#62b045"/>
<path d="M465.68,366.82 L468.34,371.30 L463.02,371.30Z" fill="#62b045"/>
<path d="M479.83,348.67 L482.49,353.15 L477.17,353.15Z" fill="#62b045"/>
<path d="M390.94,450.54 L393.33,446.67 L397.32,454.88 L400.71,463.21 L404.69,446.02 L410.67,459.29 L416.85,450.54 L430.40,452.03 L444.16,456.19 L451.73,454.88 L458.11,443.40 L465.68,446.02 L479.83,450.30" fill="none" stroke="#23478c" stroke-width="1.5" stroke-linejoin="round"/>
<circle cx="390.94" cy="450.54" r="2.40" fill="#23478c"/>
<circle cx="393.33" cy="446.67" r="2.40" fill="#23478c"/>
<circle cx="397.32" cy="454.88" r="2.40" fill="#23478c"/>
<circle cx="400.71" cy="463.21" r="2.40" fill="#23478c"/>
<circle cx="404.69" cy="446.02" r="2.40" fill="#23478c"/>
<circle cx="410.67" cy="459.29" r="2.40" fill="#23478c"/>
<circle cx="416.85" cy="450.54" r="2.40" fill="#23478c"/>
<circle cx="430.40" cy="452.03" r="2.40" fill="#23478c"/>
<circle cx="444.16" cy="456.19" r="2.40" fill="#23478c"/>
<circle cx="451.73" cy="454.88" r="2.40" fill="#23478c"/>
<circle cx="458.11" cy="443.40" r="2.40" fill="#23478c"/>
<circle cx="465.68" cy="446.02" r="2.40" fill="#23478c"/>
<circle cx="479.83" cy="450.30" r="2.40" fill="#23478c"/>
<path d="M390.94,463.21 L394.73,451.43 L396.72,452.92 L400.71,464.70 L404.69,453.87 L410.67,464.70 L416.85,461.31 L430.40,462.44 L444.16,453.63 L451.73,459.46 L458.11,412.82 L465.68,444.71" fill="none" stroke="#b3163f" stroke-width="1.5" stroke-linejoin="round"/>
<path d="M390.94,460.91 L393.24,463.21 L390.94,465.51 L388.64,463.21Z" fill="#b3163f"/>
<path d="M394.73,449.13 L397.03,451.43 L394.73,453.73 L392.43,451.43Z" fill="#b3163f"/>
<path d="M396.72,450.62 L399.02,452.92 L396.72,455.22 L394.42,452.92Z" fill="#b3163f"/>
<path d="M400.71,462.40 L403.01,464.70 L400.71,467.00 L398.41,464.70Z" fill="#b3163f"/>
<path d="M404.69,451.57 L406.99,453.87 L404.69,456.17 L402.39,453.87Z" fill="#b3163f"/>
<path d="M410.67,462.40 L412.97,464.70 L410.67,467.00 L408.37,464.70Z" fill="#b3163f"/>
<path d="M416.85,459.01 L419.15,461.31 L416.85,463.61 L414.55,461.31Z" fill="#b3163f"/>
<path d="M430.40,460.14 L432.70,462.44 L430.40,464.74 L428.10,462.44Z" fill="#b3163f"/>
<path d="M444.16,451.33 L446.46,453.63 L444.16,455.93 L441.86,453.63Z" fill="#b3163f"/>
<path d="M451.73,457.16 L454.03,459.46 L451.73,461.76 L449.43,459.46Z" fill="#b3163f"/>
<path d="M458.11,410.52 L460.41,412.82 L458.11,415.12 L455.81,412.82Z" fill="#b3163f"/>
<path d="M465.68,442.41 L467.98,444.71 L465.68,447.01 L463.38,444.71Z" fill="#b3163f"/>
<text x="444.2" y="497.6" font-size="11.2" text-anchor="middle" fill="#222" font-weight="normal" textLength="44.7" lengthAdjust="spacingAndGlyphs" stroke="#222" stroke-width="0.12">Time [days]</text>
<path d="M478.3,396.7 L490.6,396.7" stroke="#23478c" stroke-width="1.5"/>
<circle cx="484.40" cy="396.70" r="2.40" fill="#23478c"/>
<text x="494.2" y="399.8" font-size="9.2" text-anchor="start" fill="#222" font-weight="normal" textLength="17.1" lengthAdjust="spacingAndGlyphs" stroke="#222" stroke-width="0.12">Pt. 1</text>
<path d="M478.3,410.0 L490.6,410.0" stroke="#62b045" stroke-width="1.5"/>
<path d="M484.40,407.20 L487.06,411.68 L481.74,411.68Z" fill="#62b045"/>
<text x="494.2" y="413.1" font-size="9.2" text-anchor="start" fill="#222" font-weight="normal" textLength="17.1" lengthAdjust="spacingAndGlyphs" stroke="#222" stroke-width="0.12">Pt. 2</text>
<path d="M478.3,422.7 L490.6,422.7" stroke="#b3163f" stroke-width="1.5"/>
<path d="M484.40,420.40 L486.70,422.70 L484.40,425.00 L482.10,422.70Z" fill="#b3163f"/>
<text x="494.2" y="425.8" font-size="9.2" text-anchor="start" fill="#222" font-weight="normal" textLength="17.1" lengthAdjust="spacingAndGlyphs" stroke="#222" stroke-width="0.12">Pt. 3</text>
<text x="8.5" y="309.6" font-size="12.8" text-anchor="start" fill="#000" font-weight="bold" stroke="#000" stroke-width="0.4" stroke-linejoin="round">C</text>
<rect x="93" y="322.6" width="94.4" height="145.09999999999997" fill="#dcdcde"/>
<path d="M52,318 L52,468.5 M48,467.7 L227.2,467.7 M235.2,467.7 L316,467.7" stroke="#1e1e1e" stroke-width="1.6" fill="none"/>
<path d="M48,467.7 L52,467.7" stroke="#1e1e1e" stroke-width="1.2"/>
<text x="45.2" y="471.2" font-size="10.0" text-anchor="end" fill="#222" font-weight="normal" textLength="5.12" lengthAdjust="spacingAndGlyphs" stroke="#222" stroke-width="0.12">0</text>
<path d="M48,431.1 L52,431.1" stroke="#1e1e1e" stroke-width="1.2"/>
<text x="45.2" y="434.625" font-size="10.0" text-anchor="end" fill="#222" font-weight="normal" textLength="15.35" lengthAdjust="spacingAndGlyphs" stroke="#222" stroke-width="0.12">500</text>
<path d="M48,394.5 L52,394.5" stroke="#1e1e1e" stroke-width="1.2"/>
<text x="45.2" y="398.04999999999995" font-size="10.0" text-anchor="end" fill="#222" font-weight="normal" textLength="20.46" lengthAdjust="spacingAndGlyphs" stroke="#222" stroke-width="0.12">1000</text>
<path d="M48,358.0 L52,358.0" stroke="#1e1e1e" stroke-width="1.2"/>
<text x="45.2" y="361.47499999999997" font-size="10.0" text-anchor="end" fill="#222" font-weight="normal" textLength="20.46" lengthAdjust="spacingAndGlyphs" stroke="#222" stroke-width="0.12">1500</text>
<path d="M48,321.4 L52,321.4" stroke="#1e1e1e" stroke-width="1.2"/>
<text x="45.2" y="324.9" font-size="10.0" text-anchor="end" fill="#222" font-weight="normal" textLength="20.46" lengthAdjust="spacingAndGlyphs" stroke="#222" stroke-width="0.12">2000</text>
<path d="M52.0,467.7 L52.0,471" stroke="#1e1e1e" stroke-width="1.2"/>
<text x="52.0" y="482.6" font-size="9.9" text-anchor="middle" fill="#222" font-weight="normal" textLength="13.16" lengthAdjust="spacingAndGlyphs" stroke="#222" stroke-width="0.12">-10</text>
<path d="M71.4,467.7 L71.4,471" stroke="#1e1e1e" stroke-width="1.2"/>
<path d="M90.8,467.7 L90.8,471" stroke="#1e1e1e" stroke-width="1.2"/>
<text x="90.8" y="482.6" font-size="9.9" text-anchor="middle" fill="#222" font-weight="normal" textLength="5.06" lengthAdjust="spacingAndGlyphs" stroke="#222" stroke-width="0.12">0</text>
<path d="M110.1,467.7 L110.1,471" stroke="#1e1e1e" stroke-width="1.2"/>
<path d="M129.5,467.7 L129.5,471" stroke="#1e1e1e" stroke-width="1.2"/>
<text x="129.5" y="482.6" font-size="9.9" text-anchor="middle" fill="#222" font-weight="normal" textLength="10.13" lengthAdjust="spacingAndGlyphs" stroke="#222" stroke-width="0.12">10</text>
<path d="M148.9,467.7 L148.9,471" stroke="#1e1e1e" stroke-width="1.2"/>
<path d="M168.2,467.7 L168.2,471" stroke="#1e1e1e" stroke-width="1.2"/>
<text x="168.2" y="482.6" font-size="9.9" text-anchor="middle" fill="#222" font-weight="normal" textLength="10.13" lengthAdjust="spacingAndGlyphs" stroke="#222" stroke-width="0.12">20</text>
<path d="M187.6,467.7 L187.6,471" stroke="#1e1e1e" stroke-width="1.2"/>
<path d="M207.0,467.7 L207.0,471" stroke="#1e1e1e" stroke-width="1.2"/>
<text x="207.0" y="482.6" font-size="9.9" text-anchor="middle" fill="#222" font-weight="normal" textLength="10.13" lengthAdjust="spacingAndGlyphs" stroke="#222" stroke-width="0.12">30</text>
<path d="M226.4,467.7 L226.4,471" stroke="#1e1e1e" stroke-width="1.2"/>
<path d="M235.2,467.7 L235.2,471" stroke="#1e1e1e" stroke-width="1.2"/>
<text x="235.2" y="482.6" font-size="9.9" text-anchor="middle" fill="#222" font-weight="normal" textLength="10.13" lengthAdjust="spacingAndGlyphs" stroke="#222" stroke-width="0.12">80</text>
<path d="M261.8,467.7 L261.8,471" stroke="#1e1e1e" stroke-width="1.2"/>
<text x="261.8" y="482.6" font-size="9.9" text-anchor="middle" fill="#222" font-weight="normal" textLength="15.19" lengthAdjust="spacingAndGlyphs" stroke="#222" stroke-width="0.12">120</text>
<path d="M288.4,467.7 L288.4,471" stroke="#1e1e1e" stroke-width="1.2"/>
<text x="288.4" y="482.6" font-size="9.9" text-anchor="middle" fill="#222" font-weight="normal" textLength="15.19" lengthAdjust="spacingAndGlyphs" stroke="#222" stroke-width="0.12">160</text>
<path d="M315.1,467.7 L315.1,471" stroke="#1e1e1e" stroke-width="1.2"/>
<text x="315.1" y="482.6" font-size="9.9" text-anchor="middle" fill="#222" font-weight="normal" textLength="15.19" lengthAdjust="spacingAndGlyphs" stroke="#222" stroke-width="0.12">200</text>
<text x="0" y="0" font-size="10.6" fill="#222" stroke="#222" stroke-width="0.12" text-anchor="middle" textLength="49.6" lengthAdjust="spacingAndGlyphs" transform="translate(17.9,393) rotate(-90)">UniCAR-T/ml</text>
<text x="185.1" y="498.0" font-size="11.2" text-anchor="middle" fill="#222" font-weight="normal" textLength="106.7" lengthAdjust="spacingAndGlyphs" stroke="#222" stroke-width="0.12">Days after start of treatment</text>
<text x="144.8" y="330.2" font-size="8.6" text-anchor="middle" fill="#222" font-weight="normal" textLength="16.4" lengthAdjust="spacingAndGlyphs" stroke="#222" stroke-width="0.12">core</text>
<text x="144.8" y="340.5" font-size="8.6" text-anchor="middle" fill="#222" font-weight="normal" textLength="18.6" lengthAdjust="spacingAndGlyphs" stroke="#222" stroke-width="0.12">cycle</text>
<path d="M117.9,436.5 L117.9,446.5 M115.7,436.5 L120.1,436.5 M115.7,446.5 L120.1,446.5" stroke="#62b045" stroke-width="1.1" fill="none"/>
<path d="M145.0,431.1 L145.0,445.9 M142.8,431.1 L147.2,431.1 M142.8,445.9 L147.2,445.9" stroke="#62b045" stroke-width="1.1" fill="none"/>
<path d="M168.2,439.2 L168.2,444.9 M166.1,439.2 L170.4,439.2 M166.1,444.9 L170.4,444.9" stroke="#62b045" stroke-width="1.1" fill="none"/>
<path d="M172.1,440.5 L172.1,453.5 M169.9,440.5 L174.3,440.5 M169.9,453.5 L174.3,453.5" stroke="#62b045" stroke-width="1.1" fill="none"/>
<path d="M183.8,449.9 L183.8,454.9 M181.6,449.9 L185.9,449.9 M181.6,454.9 L185.9,454.9" stroke="#62b045" stroke-width="1.1" fill="none"/>
<path d="M199.2,436.8 L199.2,453.6 M197.1,436.8 L201.4,436.8 M197.1,453.6 L201.4,453.6" stroke="#62b045" stroke-width="1.1" fill="none"/>
<path d="M210.9,443.6 L210.9,453.6 M208.7,443.6 L213.1,443.6 M208.7,453.6 L213.1,453.6" stroke="#62b045" stroke-width="1.1" fill="none"/>
<path d="M90.75,467.70 L94.62,465.51 L117.88,442.24 L145.00,439.10 L168.25,441.88 L172.12,448.68 L183.75,452.48 L199.25,446.19 L210.88,450.00" fill="none" stroke="#62b045" stroke-width="1.6" stroke-linejoin="round"/>
<path d="M90.75,464.90 L93.41,469.38 L88.09,469.38Z" fill="#62b045"/>
<path d="M94.62,462.71 L97.28,467.19 L91.97,467.19Z" fill="#62b045"/>
<path d="M117.88,439.44 L120.53,443.92 L115.22,443.92Z" fill="#62b045"/>
<path d="M145.00,436.30 L147.66,440.78 L142.34,440.78Z" fill="#62b045"/>
<path d="M168.25,439.08 L170.91,443.56 L165.59,443.56Z" fill="#62b045"/>
<path d="M172.12,445.88 L174.78,450.36 L169.47,450.36Z" fill="#62b045"/>
<path d="M183.75,449.68 L186.41,454.16 L181.09,454.16Z" fill="#62b045"/>
<path d="M199.25,443.39 L201.91,447.87 L196.59,447.87Z" fill="#62b045"/>
<path d="M210.88,447.20 L213.53,451.68 L208.22,451.68Z" fill="#62b045"/>
<path d="M117.9,399.3 L117.9,419.2 M115.7,399.3 L120.1,399.3 M115.7,419.2 L120.1,419.2" stroke="#23478c" stroke-width="1.1" fill="none"/>
<path d="M145.0,416.0 L145.0,423.9 M142.8,416.0 L147.2,416.0 M142.8,423.9 L147.2,423.9" stroke="#23478c" stroke-width="1.1" fill="none"/>
<path d="M172.1,343.5 L172.1,412.9 M169.9,343.5 L174.3,343.5 M169.9,412.9 L174.3,412.9" stroke="#23478c" stroke-width="1.1" fill="none"/>
<path d="M183.8,323.7 L183.8,340.5 M181.6,323.7 L185.9,323.7 M181.6,340.5 L185.9,340.5" stroke="#23478c" stroke-width="1.1" fill="none"/>
<path d="M199.2,375.1 L199.2,416.0 M197.1,375.1 L201.4,375.1 M197.1,416.0 L201.4,416.0" stroke="#23478c" stroke-width="1.1" fill="none"/>
<path d="M210.9,391.8 L210.9,444.4 M208.7,391.8 L213.1,391.8 M208.7,444.4 L213.1,444.4" stroke="#23478c" stroke-width="1.1" fill="none"/>
<path d="M241.9,419.7 L241.9,467.5 M239.7,419.7 L244.1,419.7 M239.7,467.5 L244.1,467.5" stroke="#23478c" stroke-width="1.1" fill="none"/>
<path d="M301.8,455.0 L301.8,467.5 M299.6,455.0 L303.9,455.0 M299.6,467.5 L303.9,467.5" stroke="#23478c" stroke-width="1.1" fill="none"/>
<path d="M90.75,467.70 L94.62,463.46 L117.88,409.77 L145.00,420.74 L172.12,378.24 L183.75,332.52 L199.25,395.57 L210.88,418.25" fill="none" stroke="#23478c" stroke-width="1.6" stroke-linejoin="round"/>
<circle cx="90.75" cy="467.70" r="2.40" fill="#23478c"/>
<circle cx="94.62" cy="463.46" r="2.40" fill="#23478c"/>
<circle cx="117.88" cy="409.77" r="2.40" fill="#23478c"/>
<circle cx="145.00" cy="420.74" r="2.40" fill="#23478c"/>
<circle cx="172.12" cy="378.24" r="2.40" fill="#23478c"/>
<circle cx="183.75" cy="332.52" r="2.40" fill="#23478c"/>
<circle cx="199.25" cy="395.57" r="2.40" fill="#23478c"/>
<circle cx="210.88" cy="418.25" r="2.40" fill="#23478c"/>
<path d="M210.88,418.25 L227.10,431.10" fill="none" stroke="#23478c" stroke-width="1.6"/>
<path d="M235.20,437.90 L241.85,442.90 L301.75,461.10" fill="none" stroke="#23478c" stroke-width="1.6"/>
<circle cx="241.85" cy="442.90" r="2.40" fill="#23478c"/>
<circle cx="301.75" cy="461.10" r="2.40" fill="#23478c"/>
<path d="M94.6,451.5 L94.6,456.9 M92.4,451.5 L96.8,451.5 M92.4,456.9 L96.8,456.9" stroke="#b3163f" stroke-width="1.1" fill="none"/>
<path d="M117.9,331.9 L117.9,367.2 M115.7,331.9 L120.1,331.9 M115.7,367.2 L120.1,367.2" stroke="#b3163f" stroke-width="1.1" fill="none"/>
<path d="M145.0,368.1 L145.0,396.2 M142.8,368.1 L147.2,368.1 M142.8,396.2 L147.2,396.2" stroke="#b3163f" stroke-width="1.1" fill="none"/>
<path d="M172.1,444.5 L172.1,451.8 M169.9,444.5 L174.3,444.5 M169.9,451.8 L174.3,451.8" stroke="#b3163f" stroke-width="1.1" fill="none"/>
<path d="M199.2,458.6 L199.2,464.9 M197.1,458.6 L201.4,458.6 M197.1,464.9 L201.4,464.9" stroke="#b3163f" stroke-width="1.1" fill="none"/>
<path d="M90.75,467.70 L94.62,456.73 L117.88,349.93 L145.00,382.33 L168.25,441.29 L172.12,453.87 L183.75,464.92 L199.25,462.36 L210.88,462.73" fill="none" stroke="#b3163f" stroke-width="1.6" stroke-linejoin="round"/>
<path d="M90.75,465.40 L93.05,467.70 L90.75,470.00 L88.45,467.70Z" fill="#b3163f"/>
<path d="M94.62,454.43 L96.92,456.73 L94.62,459.03 L92.33,456.73Z" fill="#b3163f"/>
<path d="M117.88,347.63 L120.17,349.93 L117.88,352.23 L115.58,349.93Z" fill="#b3163f"/>
<path d="M145.00,380.03 L147.30,382.33 L145.00,384.63 L142.70,382.33Z" fill="#b3163f"/>
<path d="M168.25,438.99 L170.55,441.29 L168.25,443.59 L165.95,441.29Z" fill="#b3163f"/>
<path d="M172.12,451.57 L174.43,453.87 L172.12,456.17 L169.82,453.87Z" fill="#b3163f"/>
<path d="M183.75,462.62 L186.05,464.92 L183.75,467.22 L181.45,464.92Z" fill="#b3163f"/>
<path d="M199.25,460.06 L201.55,462.36 L199.25,464.66 L196.95,462.36Z" fill="#b3163f"/>
<path d="M210.88,460.43 L213.18,462.73 L210.88,465.03 L208.57,462.73Z" fill="#b3163f"/>
<path d="M210.88,462.73 L227.10,464.10" fill="none" stroke="#b3163f" stroke-width="1.6"/>
<path d="M235.20,465.10 L241.85,465.70" fill="none" stroke="#b3163f" stroke-width="1.6"/>
<path d="M241.85,463.60 L244.16,465.90 L241.85,468.20 L239.55,465.90Z" fill="#b3163f"/>
<path d="M241.9,419.7 L241.9,467.5 M239.7,419.7 L244.1,419.7 M239.7,467.5 L244.1,467.5" stroke="#23478c" stroke-width="1.1" fill="none"/>
<path d="M240.1,325.7 L252.4,325.7" stroke="#23478c" stroke-width="1.5"/>
<circle cx="246.20" cy="325.70" r="2.40" fill="#23478c"/>
<text x="255.8" y="328.7" font-size="8.8" text-anchor="start" fill="#222" font-weight="normal" textLength="30.7" lengthAdjust="spacingAndGlyphs" stroke="#222" stroke-width="0.12">Pt. 1 PB</text>
<path d="M240.1,338.8 L252.4,338.8" stroke="#62b045" stroke-width="1.5"/>
<path d="M246.20,336.00 L248.86,340.48 L243.54,340.48Z" fill="#62b045"/>
<text x="255.8" y="341.8" font-size="8.8" text-anchor="start" fill="#222" font-weight="normal" textLength="30.7" lengthAdjust="spacingAndGlyphs" stroke="#222" stroke-width="0.12">Pt. 2 PB</text>
<path d="M240.1,351.5 L252.4,351.5" stroke="#b3163f" stroke-width="1.5"/>
<path d="M246.20,349.20 L248.50,351.50 L246.20,353.80 L243.90,351.50Z" fill="#b3163f"/>
<text x="255.8" y="354.5" font-size="8.8" text-anchor="start" fill="#222" font-weight="normal" textLength="30.7" lengthAdjust="spacingAndGlyphs" stroke="#222" stroke-width="0.12">Pt. 3 PB</text>
<rect x="0.5" y="0.5" width="519" height="508" fill="none" stroke="#000" stroke-width="1"/>
<rect x="1.5" y="1.5" width="517" height="506" fill="none" stroke="#000" stroke-width="1" stroke-opacity="0.35"/>
</svg></div></body></html>
